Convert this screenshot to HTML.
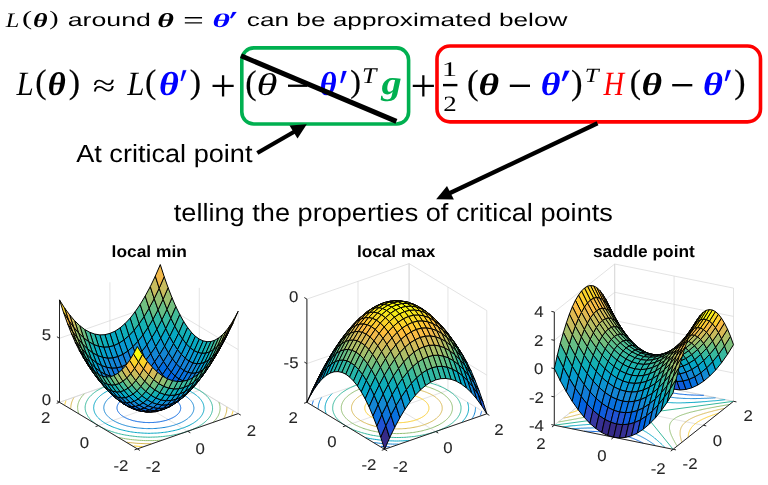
<!DOCTYPE html><html><head><meta charset="utf-8"><style>html,body{margin:0;padding:0;background:#fff;width:768px;height:485px;overflow:hidden}svg text{font-kerning:none;text-rendering:geometricPrecision}svg{will-change:transform}</style></head><body><svg width="768" height="485" viewBox="0 0 768 485" style="position:absolute;left:0;top:0">
<rect width="768" height="485" fill="#fff"/>
<line x1="59.50" y1="402.30" x2="59.50" y2="299.90" stroke="#d4d4d4" stroke-width="0.65"/><line x1="137.35" y1="448.90" x2="59.50" y2="402.30" stroke="#d4d4d4" stroke-width="0.65"/><line x1="109.92" y1="384.65" x2="109.92" y2="282.25" stroke="#d4d4d4" stroke-width="0.65"/><line x1="187.77" y1="431.25" x2="109.92" y2="384.65" stroke="#d4d4d4" stroke-width="0.65"/><line x1="160.35" y1="367.00" x2="160.35" y2="264.60" stroke="#d4d4d4" stroke-width="0.65"/><line x1="238.20" y1="413.60" x2="160.35" y2="367.00" stroke="#d4d4d4" stroke-width="0.65"/><line x1="238.20" y1="413.60" x2="238.20" y2="311.20" stroke="#d4d4d4" stroke-width="0.65"/><line x1="137.35" y1="448.90" x2="238.20" y2="413.60" stroke="#d4d4d4" stroke-width="0.65"/><line x1="199.27" y1="390.30" x2="199.27" y2="287.90" stroke="#d4d4d4" stroke-width="0.65"/><line x1="98.42" y1="425.60" x2="199.27" y2="390.30" stroke="#d4d4d4" stroke-width="0.65"/><line x1="160.35" y1="367.00" x2="160.35" y2="264.60" stroke="#d4d4d4" stroke-width="0.65"/><line x1="59.50" y1="402.30" x2="160.35" y2="367.00" stroke="#d4d4d4" stroke-width="0.65"/><line x1="59.50" y1="402.30" x2="160.35" y2="367.00" stroke="#d4d4d4" stroke-width="0.65"/><line x1="160.35" y1="367.00" x2="238.20" y2="413.60" stroke="#d4d4d4" stroke-width="0.65"/><line x1="59.50" y1="338.30" x2="160.35" y2="303.00" stroke="#d4d4d4" stroke-width="0.65"/><line x1="160.35" y1="303.00" x2="238.20" y2="349.60" stroke="#d4d4d4" stroke-width="0.65"/>
<polyline points="174.1,399.1 173.5,398.8 173.0,398.5 172.5,398.2 171.9,398.0 171.3,397.7 170.7,397.4 170.1,397.1 169.5,396.9 168.8,396.6 168.2,396.4 167.5,396.2 166.8,396.0 166.1,395.7 165.4,395.5 164.7,395.3 164.0,395.1 163.2,395.0 162.5,394.8 161.7,394.6 161.0,394.5 160.2,394.3 159.4,394.2 158.6,394.1 157.8,394.0 157.0,393.9 156.2,393.8 155.4,393.7 154.6,393.6 153.7,393.5 152.9,393.5 152.1,393.4 151.3,393.4 150.4,393.4 149.6,393.3 148.8,393.3 147.9,393.3 147.1,393.4 146.3,393.4 145.4,393.4 144.6,393.4 143.8,393.5 143.0,393.6 142.1,393.6 141.3,393.7 140.5,393.8 139.7,393.9 138.9,394.0 138.1,394.1 137.3,394.3 136.6,394.4 135.8,394.6 135.1,394.7 134.3,394.9 133.6,395.1 132.8,395.2 132.1,395.4 131.4,395.6 130.7,395.9 130.1,396.1 129.4,396.3 128.7,396.5 128.1,396.8 127.5,397.0 126.9,397.3 126.3,397.6 125.7,397.8 125.1,398.1 124.6,398.4 124.0,398.7 123.5,399.0 123.0,399.3 122.5,399.6 122.1,399.9 121.6,400.2 121.2,400.6 120.8,400.9 120.4,401.2 120.1,401.6 119.7,401.9 119.4,402.3 119.1,402.6 118.8,403.0 118.5,403.3 118.3,403.7 118.1,404.1 117.9,404.5 117.7,404.8 117.5,405.2 117.4,405.6 117.3,406.0 117.2,406.3 117.1,406.7 117.0,407.1 117.0,407.5 117.0,407.9 117.0,408.2 117.0,408.6 117.1,409.0 117.2,409.4 117.3,409.8 117.4,410.1 117.5,410.5 117.7,410.9 117.9,411.3 118.1,411.6 118.3,412.0 118.6,412.4 118.9,412.7 119.1,413.1 119.5,413.5 119.8,413.8 120.1,414.2 120.5,414.5 120.9,414.8 121.3,415.2 121.7,415.5 122.2,415.8 122.7,416.2 123.1,416.5 123.6,416.8 124.2,417.1 124.7,417.4 125.2,417.7 125.8,417.9 126.4,418.2 127.0,418.5 127.6,418.8 128.2,419.0 128.9,419.3 129.5,419.5 130.2,419.7 130.9,419.9 131.6,420.2 132.3,420.4 133.0,420.6 133.7,420.8 134.5,420.9 135.2,421.1 136.0,421.3 136.7,421.4 137.5,421.6 138.3,421.7 139.1,421.8 139.9,421.9 140.7,422.0 141.5,422.1 142.3,422.2 143.1,422.3 144.0,422.4 144.8,422.4 145.6,422.5 146.4,422.5 147.3,422.5 148.1,422.6 148.9,422.6 149.8,422.6 150.6,422.5 151.4,422.5 152.3,422.5 153.1,422.5 153.9,422.4 154.7,422.3 155.6,422.3 156.4,422.2 157.2,422.1 158.0,422.0 158.8,421.9 159.6,421.8 160.4,421.6 161.1,421.5 161.9,421.3 162.6,421.2 163.4,421.0 164.1,420.8 164.9,420.7 165.6,420.5 166.3,420.3 167.0,420.0 167.6,419.8 168.3,419.6 169.0,419.4 169.6,419.1 170.2,418.9 170.8,418.6 171.4,418.3 172.0,418.1 172.6,417.8 173.1,417.5 173.7,417.2 174.2,416.9 174.7,416.6 175.2,416.3 175.6,416.0 176.1,415.7 176.5,415.3 176.9,415.0 177.3,414.7 177.6,414.3 178.0,414.0 178.3,413.6 178.6,413.3 178.9,412.9 179.2,412.6 179.4,412.2 179.6,411.8 179.8,411.4 180.0,411.1 180.2,410.7 180.3,410.3 180.4,409.9 180.5,409.6 180.6,409.2 180.7,408.8 180.7,408.4 180.7,408.0 180.7,407.7 180.7,407.3 180.6,406.9 180.5,406.5 180.4,406.1 180.3,405.8 180.2,405.4 180.0,405.0 179.8,404.6 179.6,404.3 179.4,403.9 179.1,403.5 178.8,403.2 178.6,402.8 178.2,402.4 177.9,402.1 177.6,401.7 177.2,401.4 176.8,401.1 176.4,400.7 176.0,400.4 175.5,400.1 175.0,399.7 174.6,399.4 174.1,399.1" fill="none" stroke="#0363e1" stroke-width="1.0"/><polyline points="184.5,395.5 183.8,395.0 183.0,394.6 182.2,394.2 181.4,393.8 180.6,393.4 179.8,393.0 178.9,392.7 178.0,392.3 177.1,392.0 176.2,391.6 175.2,391.3 174.3,391.0 173.3,390.7 172.3,390.4 171.3,390.1 170.2,389.8 169.2,389.6 168.1,389.4 167.1,389.1 166.0,388.9 164.9,388.7 163.8,388.5 162.6,388.3 161.5,388.2 160.4,388.0 159.2,387.9 158.1,387.8 156.9,387.7 155.8,387.6 154.6,387.5 153.4,387.4 152.3,387.4 151.1,387.3 149.9,387.3 148.7,387.3 147.5,387.3 146.4,387.3 145.2,387.3 144.0,387.4 142.8,387.4 141.7,387.5 140.5,387.6 139.4,387.7 138.2,387.8 137.1,388.0 135.9,388.1 134.8,388.3 133.7,388.4 132.6,388.6 131.5,388.8 130.4,389.0 129.3,389.2 128.3,389.5 127.2,389.7 126.2,390.0 125.2,390.3 124.2,390.5 123.2,390.8 122.3,391.2 121.3,391.5 120.4,391.8 119.5,392.2 118.6,392.5 117.7,392.9 116.9,393.2 116.1,393.6 115.3,394.0 114.5,394.4 113.8,394.8 113.0,395.3 112.3,395.7 111.7,396.1 111.0,396.6 110.4,397.0 109.8,397.5 109.2,398.0 108.7,398.5 108.1,398.9 107.6,399.4 107.2,399.9 106.8,400.4 106.3,400.9 106.0,401.4 105.6,402.0 105.3,402.5 105.0,403.0 104.8,403.5 104.5,404.1 104.3,404.6 104.2,405.1 104.0,405.7 103.9,406.2 103.9,406.7 103.8,407.3 103.8,407.8 103.8,408.4 103.9,408.9 104.0,409.4 104.1,410.0 104.2,410.5 104.4,411.1 104.6,411.6 104.8,412.1 105.1,412.7 105.4,413.2 105.7,413.7 106.1,414.2 106.4,414.7 106.8,415.2 107.3,415.7 107.8,416.2 108.3,416.7 108.8,417.2 109.3,417.7 109.9,418.2 110.5,418.6 111.1,419.1 111.8,419.6 112.5,420.0 113.2,420.4 113.9,420.9 114.7,421.3 115.5,421.7 116.3,422.1 117.1,422.5 117.9,422.9 118.8,423.2 119.7,423.6 120.6,423.9 121.5,424.3 122.5,424.6 123.4,424.9 124.4,425.2 125.4,425.5 126.4,425.8 127.5,426.1 128.5,426.3 129.6,426.5 130.6,426.8 131.7,427.0 132.8,427.2 133.9,427.4 135.1,427.6 136.2,427.7 137.3,427.9 138.5,428.0 139.6,428.1 140.8,428.2 141.9,428.3 143.1,428.4 144.3,428.5 145.4,428.5 146.6,428.6 147.8,428.6 149.0,428.6 150.2,428.6 151.3,428.6 152.5,428.6 153.7,428.5 154.9,428.5 156.0,428.4 157.2,428.3 158.3,428.2 159.5,428.1 160.6,427.9 161.8,427.8 162.9,427.6 164.0,427.5 165.1,427.3 166.2,427.1 167.3,426.9 168.4,426.7 169.4,426.4 170.5,426.2 171.5,425.9 172.5,425.6 173.5,425.4 174.5,425.1 175.4,424.7 176.4,424.4 177.3,424.1 178.2,423.7 179.1,423.4 180.0,423.0 180.8,422.7 181.6,422.3 182.4,421.9 183.2,421.5 183.9,421.1 184.7,420.6 185.4,420.2 186.0,419.8 186.7,419.3 187.3,418.9 187.9,418.4 188.5,417.9 189.0,417.4 189.6,417.0 190.1,416.5 190.5,416.0 190.9,415.5 191.4,415.0 191.7,414.5 192.1,413.9 192.4,413.4 192.7,412.9 192.9,412.4 193.2,411.8 193.4,411.3 193.5,410.8 193.7,410.2 193.8,409.7 193.8,409.2 193.9,408.6 193.9,408.1 193.9,407.5 193.8,407.0 193.7,406.5 193.6,405.9 193.5,405.4 193.3,404.8 193.1,404.3 192.9,403.8 192.6,403.2 192.3,402.7 192.0,402.2 191.6,401.7 191.3,401.2 190.9,400.7 190.4,400.2 189.9,399.7 189.4,399.2 188.9,398.7 188.4,398.2 187.8,397.7 187.2,397.3 186.6,396.8 185.9,396.3 185.2,395.9 184.5,395.5" fill="none" stroke="#1485d4" stroke-width="1.0"/><polyline points="192.5,392.7 191.6,392.1 190.7,391.6 189.7,391.1 188.8,390.6 187.7,390.2 186.7,389.7 185.6,389.2 184.6,388.8 183.4,388.4 182.3,388.0 181.1,387.6 180.0,387.2 178.8,386.8 177.5,386.4 176.3,386.1 175.0,385.8 173.8,385.5 172.5,385.2 171.1,384.9 169.8,384.6 168.5,384.4 167.1,384.1 165.7,383.9 164.4,383.7 163.0,383.5 161.6,383.4 160.2,383.2 158.7,383.1 157.3,383.0 155.9,382.9 154.5,382.8 153.0,382.7 151.6,382.7 150.1,382.6 148.7,382.6 147.2,382.6 145.8,382.7 144.4,382.7 142.9,382.8 141.5,382.8 140.1,382.9 138.6,383.0 137.2,383.2 135.8,383.3 134.4,383.5 133.0,383.6 131.7,383.8 130.3,384.0 128.9,384.3 127.6,384.5 126.3,384.8 125.0,385.0 123.7,385.3 122.4,385.6 121.1,385.9 119.9,386.3 118.7,386.6 117.5,387.0 116.3,387.4 115.1,387.8 114.0,388.2 112.9,388.6 111.8,389.0 110.8,389.5 109.7,389.9 108.7,390.4 107.7,390.9 106.8,391.4 105.9,391.9 105.0,392.4 104.1,392.9 103.3,393.5 102.5,394.0 101.7,394.6 101.0,395.2 100.3,395.7 99.6,396.3 99.0,396.9 98.4,397.5 97.8,398.1 97.3,398.7 96.8,399.4 96.3,400.0 95.9,400.6 95.5,401.2 95.2,401.9 94.9,402.5 94.6,403.2 94.3,403.8 94.1,404.5 94.0,405.1 93.8,405.8 93.8,406.5 93.7,407.1 93.7,407.8 93.7,408.5 93.8,409.1 93.9,409.8 94.0,410.4 94.2,411.1 94.4,411.8 94.6,412.4 94.9,413.1 95.2,413.7 95.6,414.3 96.0,415.0 96.4,415.6 96.9,416.3 97.4,416.9 97.9,417.5 98.5,418.1 99.1,418.7 99.8,419.3 100.4,419.9 101.2,420.5 101.9,421.0 102.7,421.6 103.5,422.2 104.3,422.7 105.2,423.2 106.1,423.8 107.0,424.3 108.0,424.8 108.9,425.3 110.0,425.7 111.0,426.2 112.1,426.7 113.1,427.1 114.3,427.5 115.4,427.9 116.6,428.3 117.7,428.7 118.9,429.1 120.2,429.5 121.4,429.8 122.7,430.1 123.9,430.4 125.2,430.7 126.6,431.0 127.9,431.3 129.2,431.5 130.6,431.8 132.0,432.0 133.3,432.2 134.7,432.4 136.1,432.5 137.5,432.7 139.0,432.8 140.4,432.9 141.8,433.0 143.2,433.1 144.7,433.2 146.1,433.2 147.6,433.3 149.0,433.3 150.5,433.3 151.9,433.2 153.3,433.2 154.8,433.1 156.2,433.1 157.6,433.0 159.1,432.9 160.5,432.7 161.9,432.6 163.3,432.4 164.7,432.3 166.0,432.1 167.4,431.9 168.8,431.6 170.1,431.4 171.4,431.1 172.7,430.9 174.0,430.6 175.3,430.3 176.6,430.0 177.8,429.6 179.0,429.3 180.2,428.9 181.4,428.5 182.6,428.1 183.7,427.7 184.8,427.3 185.9,426.9 186.9,426.4 188.0,426.0 189.0,425.5 190.0,425.0 190.9,424.5 191.8,424.0 192.7,423.5 193.6,423.0 194.4,422.4 195.2,421.9 196.0,421.3 196.7,420.7 197.4,420.2 198.1,419.6 198.7,419.0 199.3,418.4 199.9,417.8 200.4,417.2 200.9,416.5 201.4,415.9 201.8,415.3 202.2,414.7 202.5,414.0 202.8,413.4 203.1,412.7 203.4,412.1 203.6,411.4 203.7,410.8 203.9,410.1 203.9,409.4 204.0,408.8 204.0,408.1 204.0,407.4 203.9,406.8 203.8,406.1 203.7,405.5 203.5,404.8 203.3,404.1 203.1,403.5 202.8,402.8 202.5,402.2 202.1,401.6 201.7,400.9 201.3,400.3 200.8,399.6 200.3,399.0 199.8,398.4 199.2,397.8 198.6,397.2 197.9,396.6 197.3,396.0 196.5,395.4 195.8,394.9 195.0,394.3 194.2,393.7 193.4,393.2 192.5,392.7" fill="none" stroke="#06a7c6" stroke-width="1.0"/><polyline points="199.3,390.3 198.2,389.7 197.2,389.1 196.1,388.5 194.9,388.0 193.8,387.4 192.6,386.9 191.3,386.3 190.1,385.8 188.8,385.3 187.5,384.9 186.1,384.4 184.8,384.0 183.4,383.5 182.0,383.1 180.5,382.7 179.1,382.3 177.6,382.0 176.1,381.6 174.6,381.3 173.1,381.0 171.5,380.7 169.9,380.5 168.4,380.2 166.8,380.0 165.2,379.8 163.5,379.6 161.9,379.4 160.3,379.2 158.6,379.1 157.0,379.0 155.3,378.9 153.7,378.8 152.0,378.8 150.3,378.7 148.7,378.7 147.0,378.7 145.3,378.8 143.7,378.8 142.0,378.9 140.4,378.9 138.7,379.1 137.1,379.2 135.4,379.3 133.8,379.5 132.2,379.7 130.6,379.9 129.0,380.1 127.4,380.3 125.8,380.6 124.3,380.9 122.8,381.2 121.3,381.5 119.8,381.8 118.3,382.2 116.8,382.5 115.4,382.9 114.0,383.3 112.6,383.8 111.3,384.2 109.9,384.6 108.6,385.1 107.3,385.6 106.1,386.1 104.9,386.6 103.7,387.2 102.5,387.7 101.4,388.3 100.3,388.8 99.2,389.4 98.2,390.0 97.2,390.6 96.2,391.2 95.3,391.9 94.4,392.5 93.6,393.2 92.8,393.8 92.0,394.5 91.3,395.2 90.6,395.9 89.9,396.6 89.3,397.3 88.7,398.0 88.2,398.7 87.7,399.5 87.3,400.2 86.9,401.0 86.5,401.7 86.2,402.4 85.9,403.2 85.7,404.0 85.5,404.7 85.3,405.5 85.2,406.2 85.2,407.0 85.1,407.8 85.2,408.5 85.2,409.3 85.4,410.1 85.5,410.8 85.7,411.6 86.0,412.3 86.2,413.1 86.6,413.8 87.0,414.6 87.4,415.3 87.8,416.1 88.3,416.8 88.9,417.5 89.4,418.3 90.1,419.0 90.7,419.7 91.4,420.4 92.2,421.1 93.0,421.7 93.8,422.4 94.6,423.1 95.5,423.7 96.5,424.4 97.4,425.0 98.4,425.6 99.5,426.2 100.5,426.8 101.6,427.4 102.8,427.9 103.9,428.5 105.1,429.0 106.4,429.6 107.6,430.1 108.9,430.6 110.2,431.0 111.6,431.5 112.9,431.9 114.3,432.4 115.7,432.8 117.2,433.2 118.6,433.6 120.1,433.9 121.6,434.3 123.1,434.6 124.6,434.9 126.2,435.2 127.8,435.4 129.3,435.7 130.9,435.9 132.5,436.1 134.2,436.3 135.8,436.5 137.4,436.7 139.1,436.8 140.7,436.9 142.4,437.0 144.0,437.1 145.7,437.1 147.4,437.2 149.0,437.2 150.7,437.2 152.4,437.1 154.0,437.1 155.7,437.0 157.3,437.0 159.0,436.8 160.6,436.7 162.3,436.6 163.9,436.4 165.5,436.2 167.1,436.0 168.7,435.8 170.3,435.6 171.9,435.3 173.4,435.0 174.9,434.7 176.4,434.4 177.9,434.1 179.4,433.7 180.9,433.4 182.3,433.0 183.7,432.6 185.1,432.1 186.4,431.7 187.8,431.2 189.1,430.8 190.4,430.3 191.6,429.8 192.8,429.3 194.0,428.7 195.2,428.2 196.3,427.6 197.4,427.1 198.5,426.5 199.5,425.9 200.5,425.3 201.5,424.7 202.4,424.0 203.3,423.4 204.1,422.7 204.9,422.1 205.7,421.4 206.4,420.7 207.1,420.0 207.8,419.3 208.4,418.6 209.0,417.9 209.5,417.2 210.0,416.4 210.4,415.7 210.8,414.9 211.2,414.2 211.5,413.5 211.8,412.7 212.0,411.9 212.2,411.2 212.4,410.4 212.5,409.7 212.5,408.9 212.6,408.1 212.5,407.4 212.5,406.6 212.3,405.8 212.2,405.1 212.0,404.3 211.7,403.6 211.5,402.8 211.1,402.1 210.7,401.3 210.3,400.6 209.9,399.8 209.4,399.1 208.8,398.4 208.3,397.6 207.6,396.9 207.0,396.2 206.3,395.5 205.5,394.8 204.7,394.2 203.9,393.5 203.1,392.8 202.2,392.2 201.2,391.5 200.3,390.9 199.3,390.3" fill="none" stroke="#38b99e" stroke-width="1.0"/><polyline points="179.3,378.5 177.6,378.2 175.9,377.8 174.2,377.5 172.4,377.2 170.7,376.9 168.9,376.7 167.1,376.4 165.3,376.2 163.5,376.0 161.6,375.9 159.8,375.7 157.9,375.6 156.1,375.5 154.2,375.4 152.4,375.3 150.5,375.3 148.6,375.3 146.8,375.3 144.9,375.3 143.1,375.4 141.2,375.4 139.3,375.5 137.5,375.6 135.7,375.8" fill="none" stroke="#92bf73" stroke-width="1.0"/><polyline points="84.5,393.7 83.7,394.5 83.0,395.3 82.3,396.0 81.6,396.8 81.1,397.7 80.5,398.5 80.0,399.3 79.5,400.1 79.1,401.0 78.8,401.8 78.5,402.6 78.2,403.5 78.0,404.3 77.8,405.2 77.7,406.0 77.6,406.9 77.6,407.7 77.7,408.6 77.7,409.5 77.9,410.3 78.0,411.2 78.3,412.0 78.5,412.9 78.9,413.7" fill="none" stroke="#92bf73" stroke-width="1.0"/><polyline points="118.4,437.4 120.1,437.7 121.8,438.1 123.5,438.4 125.3,438.7 127.0,439.0 128.8,439.2 130.6,439.5 132.4,439.7 134.2,439.9 136.1,440.0 137.9,440.2 139.8,440.3 141.6,440.4 143.5,440.5 145.3,440.6 147.2,440.6 149.1,440.6 150.9,440.6 152.8,440.6 154.6,440.5 156.5,440.5 158.4,440.4 160.2,440.3 162.0,440.1" fill="none" stroke="#92bf73" stroke-width="1.0"/><polyline points="213.2,422.2 214.0,421.4 214.7,420.6 215.4,419.9 216.1,419.1 216.6,418.2 217.2,417.4 217.7,416.6 218.2,415.8 218.6,414.9 218.9,414.1 219.2,413.3 219.5,412.4 219.7,411.6 219.9,410.7 220.0,409.9 220.1,409.0 220.1,408.2 220.0,407.3 220.0,406.4 219.8,405.6 219.7,404.7 219.4,403.9 219.2,403.0 218.8,402.2" fill="none" stroke="#92bf73" stroke-width="1.0"/><polyline points="170.8,373.7 168.8,373.4 166.8,373.2 164.8,373.0 162.8,372.8 160.8,372.6 158.8,372.5 156.8,372.4 154.7,372.3 152.7,372.2 150.7,372.2 148.6,372.2 146.6,372.2" fill="none" stroke="#d9ba56" stroke-width="1.0"/><polyline points="74.0,397.6 73.4,398.5 72.9,399.4 72.5,400.3 72.1,401.2 71.8,402.1 71.5,403.1 71.2,404.0 71.1,404.9 70.9,405.9 70.9,406.8 70.8,407.7 70.9,408.7" fill="none" stroke="#d9ba56" stroke-width="1.0"/><polyline points="126.9,442.2 128.9,442.5 130.9,442.7 132.9,442.9 134.9,443.1 136.9,443.3 138.9,443.4 140.9,443.5 143.0,443.6 145.0,443.7 147.0,443.7 149.1,443.7 151.1,443.7" fill="none" stroke="#d9ba56" stroke-width="1.0"/><polyline points="223.7,418.3 224.3,417.4 224.8,416.5 225.2,415.6 225.6,414.7 225.9,413.8 226.2,412.8 226.5,411.9 226.6,411.0 226.8,410.0 226.8,409.1 226.9,408.2 226.8,407.2" fill="none" stroke="#d9ba56" stroke-width="1.0"/><polyline points="164.0,370.0 161.8,369.8 159.6,369.6 157.4,369.5 155.2,369.4" fill="none" stroke="#fcce2e" stroke-width="1.0"/><polyline points="65.9,400.7 65.6,401.7 65.3,402.7 65.0,403.7 64.8,404.7" fill="none" stroke="#fcce2e" stroke-width="1.0"/><polyline points="133.7,445.9 135.9,446.1 138.1,446.3 140.3,446.4 142.5,446.5" fill="none" stroke="#fcce2e" stroke-width="1.0"/><polyline points="231.8,415.2 232.1,414.2 232.4,413.2 232.7,412.2 232.9,411.2" fill="none" stroke="#fcce2e" stroke-width="1.0"/>
<line x1="59.50" y1="402.30" x2="59.50" y2="299.90" stroke="#262626" stroke-width="1.0"/><line x1="137.35" y1="448.90" x2="238.20" y2="413.60" stroke="#262626" stroke-width="1.0"/><line x1="137.35" y1="448.90" x2="59.50" y2="402.30" stroke="#262626" stroke-width="1.0"/><line x1="59.50" y1="402.30" x2="56.93" y2="400.76" stroke="#262626" stroke-width="1.0"/><line x1="59.50" y1="338.30" x2="56.93" y2="336.76" stroke="#262626" stroke-width="1.0"/><line x1="137.35" y1="448.90" x2="139.92" y2="450.44" stroke="#262626" stroke-width="1.0"/><line x1="187.77" y1="431.25" x2="190.35" y2="432.79" stroke="#262626" stroke-width="1.0"/><line x1="238.20" y1="413.60" x2="240.77" y2="415.14" stroke="#262626" stroke-width="1.0"/><line x1="137.35" y1="448.90" x2="134.52" y2="449.89" stroke="#262626" stroke-width="1.0"/><line x1="98.42" y1="425.60" x2="95.59" y2="426.59" stroke="#262626" stroke-width="1.0"/><line x1="59.50" y1="402.30" x2="56.67" y2="403.29" stroke="#262626" stroke-width="1.0"/>
<g stroke="#000" stroke-width="1.0" stroke-linejoin="round"><polygon points="150.7,353.9 155.8,346.5 151.9,337.5 146.8,344.9" fill="#0c93d2"/><polygon points="146.8,344.9 151.9,337.5 148.0,327.5 142.9,334.9" fill="#06a4ca"/><polygon points="145.7,360.3 150.7,353.9 146.8,344.9 141.8,351.3" fill="#1485d4"/><polygon points="141.8,351.3 146.8,344.9 142.9,334.9 137.9,341.3" fill="#0998d1"/><polygon points="155.8,346.5 160.8,338.1 156.9,329.1 151.9,337.5" fill="#06a4ca"/><polygon points="151.9,337.5 156.9,329.1 153.0,319.1 148.0,327.5" fill="#0faeb9"/><polygon points="154.6,361.9 159.6,354.5 155.8,346.5 150.7,353.9" fill="#1485d4"/><polygon points="142.9,334.9 148.0,327.5 144.1,316.5 139.0,323.9" fill="#15b1b4"/><polygon points="149.6,368.2 154.6,361.9 150.7,353.9 145.7,360.3" fill="#1079da"/><polygon points="137.9,341.3 142.9,334.9 139.0,323.9 134.0,330.3" fill="#07a9c2"/><polygon points="159.6,354.5 164.7,346.1 160.8,338.1 155.8,346.5" fill="#0c93d2"/><polygon points="140.6,365.6 145.7,360.3 141.8,351.3 136.7,356.6" fill="#127dd8"/><polygon points="136.7,356.6 141.8,351.3 137.9,341.3 132.8,346.6" fill="#108ed2"/><polygon points="148.0,327.5 153.0,319.1 149.1,308.1 144.1,316.5" fill="#38b99e"/><polygon points="160.8,338.1 165.8,328.6 161.9,319.7 156.9,329.1" fill="#0faeb9"/><polygon points="156.9,329.1 161.9,319.7 158.1,309.7 153.0,319.1" fill="#2eb7a4"/><polygon points="144.5,373.6 149.6,368.2 145.7,360.3 140.6,365.6" fill="#046de0"/><polygon points="132.8,346.6 137.9,341.3 134.0,330.3 128.9,335.6" fill="#06a4ca"/><polygon points="158.5,368.8 163.5,361.4 159.6,354.5 154.6,361.9" fill="#1079da"/><polygon points="139.0,323.9 144.1,316.5 140.2,304.4 135.1,311.8" fill="#42bb98"/><polygon points="153.4,375.2 158.5,368.8 154.6,361.9 149.6,368.2" fill="#046de0"/><polygon points="164.7,346.1 169.7,336.6 165.8,328.6 160.8,338.1" fill="#06a4ca"/><polygon points="153.0,319.1 158.1,309.7 154.2,298.6 149.1,308.1" fill="#65be86"/><polygon points="163.5,361.4 168.6,353.0 164.7,346.1 159.6,354.5" fill="#1485d4"/><polygon points="134.0,330.3 139.0,323.9 135.1,311.8 130.1,318.2" fill="#2eb7a4"/><polygon points="144.1,316.5 149.1,308.1 145.2,296.0 140.2,304.4" fill="#71bf80"/><polygon points="135.6,370.0 140.6,365.6 136.7,356.6 131.7,361.0" fill="#0d75dc"/><polygon points="131.7,361.0 136.7,356.6 132.8,346.6 127.8,351.0" fill="#1485d4"/><polygon points="148.4,380.5 153.4,375.2 149.6,368.2 144.5,373.6" fill="#0f5cdd"/><polygon points="128.9,335.6 134.0,330.3 130.1,318.2 125.1,323.5" fill="#15b1b4"/><polygon points="165.8,328.6 170.9,318.2 167.0,309.2 161.9,319.7" fill="#38b99e"/><polygon points="139.5,377.9 144.5,373.6 140.6,365.6 135.6,370.0" fill="#0268e1"/><polygon points="161.9,319.7 167.0,309.2 163.1,299.2 158.1,309.7" fill="#65be86"/><polygon points="168.6,353.0 173.6,343.5 169.7,336.6 164.7,346.1" fill="#0998d1"/><polygon points="127.8,351.0 132.8,346.6 128.9,335.6 123.9,339.9" fill="#079ccf"/><polygon points="149.1,308.1 154.2,298.6 150.3,286.6 145.2,296.0" fill="#9cbf6f"/><polygon points="162.4,374.7 167.4,367.3 163.5,361.4 158.5,368.8" fill="#046de0"/><polygon points="169.7,336.6 174.8,326.1 170.9,318.2 165.8,328.6" fill="#15b1b4"/><polygon points="158.1,309.7 163.1,299.2 159.2,288.2 154.2,298.6" fill="#92bf73"/><polygon points="157.3,381.1 162.4,374.7 158.5,368.8 153.4,375.2" fill="#0f5cdd"/><polygon points="167.4,367.3 172.5,358.9 168.6,353.0 163.5,361.4" fill="#127dd8"/><polygon points="143.4,384.9 148.4,380.5 144.5,373.6 139.5,377.9" fill="#2053d4"/><polygon points="123.9,339.9 128.9,335.6 125.1,323.5 120.0,327.9" fill="#0faeb9"/><polygon points="130.5,373.3 135.6,370.0 131.7,361.0 126.6,364.3" fill="#0871de"/><polygon points="126.6,364.3 131.7,361.0 127.8,351.0 122.8,354.3" fill="#1481d6"/><polygon points="152.3,386.4 157.3,381.1 153.4,375.2 148.4,380.5" fill="#2c4ac7"/><polygon points="173.6,343.5 178.7,333.1 174.8,326.1 169.7,336.6" fill="#07a9c2"/><polygon points="172.5,358.9 177.5,349.5 173.6,343.5 168.6,353.0" fill="#108ed2"/><polygon points="154.2,298.6 159.2,288.2 155.3,276.1 150.3,286.6" fill="#c8bc5d"/><polygon points="134.4,381.2 139.5,377.9 135.6,370.0 130.5,373.3" fill="#0363e1"/><polygon points="122.8,354.3 127.8,351.0 123.9,339.9 118.9,343.2" fill="#0998d1"/><polygon points="170.9,318.2 175.9,306.7 172.0,297.7 167.0,309.2" fill="#71bf80"/><polygon points="167.0,309.2 172.0,297.7 168.1,287.7 163.1,299.2" fill="#9cbf6f"/><polygon points="174.8,326.1 179.8,314.6 175.9,306.7 170.9,318.2" fill="#42bb98"/><polygon points="163.1,299.2 168.1,287.7 164.2,276.7 159.2,288.2" fill="#c8bc5d"/><polygon points="166.3,379.6 171.3,372.2 167.4,367.3 162.4,374.7" fill="#0268e1"/><polygon points="147.3,390.8 152.3,386.4 148.4,380.5 143.4,384.9" fill="#3243ba"/><polygon points="161.2,386.0 166.3,379.6 162.4,374.7 157.3,381.1" fill="#2053d4"/><polygon points="138.3,388.2 143.4,384.9 139.5,377.9 134.4,381.2" fill="#2c4ac7"/><polygon points="171.3,372.2 176.4,363.8 172.5,358.9 167.4,367.3" fill="#0d75dc"/><polygon points="118.9,343.2 123.9,339.9 120.0,327.9 115.0,331.2" fill="#0aacbe"/><polygon points="177.5,349.5 182.6,339.0 178.7,333.1 173.6,343.5" fill="#06a4ca"/><polygon points="156.2,391.3 161.2,386.0 157.3,381.1 152.3,386.4" fill="#3243ba"/><polygon points="178.7,333.1 183.7,321.6 179.8,314.6 174.8,326.1" fill="#2eb7a4"/><polygon points="125.5,375.5 130.5,373.3 126.6,364.3 121.6,366.6" fill="#0871de"/><polygon points="159.2,288.2 164.2,276.7 160.3,264.6 155.3,276.1" fill="#f1b94a"/><polygon points="121.6,366.6 126.6,364.3 122.8,354.3 117.7,356.5" fill="#1481d6"/><polygon points="176.4,363.8 181.4,354.4 177.5,349.5 172.5,358.9" fill="#1485d4"/><polygon points="129.4,383.5 134.4,381.2 130.5,373.3 125.5,375.5" fill="#0363e1"/><polygon points="117.7,356.5 122.8,354.3 118.9,343.2 113.8,345.5" fill="#0998d1"/><polygon points="142.2,394.1 147.3,390.8 143.4,384.9 138.3,388.2" fill="#353dad"/><polygon points="151.1,395.7 156.2,391.3 152.3,386.4 147.3,390.8" fill="#3637a0"/><polygon points="182.6,339.0 187.6,327.5 183.7,321.6 178.7,333.1" fill="#15b1b4"/><polygon points="133.3,390.4 138.3,388.2 134.4,381.2 129.4,383.5" fill="#2c4ac7"/><polygon points="170.2,383.5 175.2,376.1 171.3,372.2 166.3,379.6" fill="#0363e1"/><polygon points="181.4,354.4 186.4,343.9 182.6,339.0 177.5,349.5" fill="#079ccf"/><polygon points="113.8,345.5 118.9,343.2 115.0,331.2 109.9,333.4" fill="#07a9c2"/><polygon points="165.1,389.9 170.2,383.5 166.3,379.6 161.2,386.0" fill="#2c4ac7"/><polygon points="175.2,376.1 180.3,367.7 176.4,363.8 171.3,372.2" fill="#0871de"/><polygon points="160.1,395.2 165.1,389.9 161.2,386.0 156.2,391.3" fill="#353dad"/><polygon points="180.3,367.7 185.3,358.2 181.4,354.4 176.4,363.8" fill="#1481d6"/><polygon points="120.5,376.8 125.5,375.5 121.6,366.6 116.6,367.8" fill="#0871de"/><polygon points="146.1,399.0 151.1,395.7 147.3,390.8 142.2,394.1" fill="#363093"/><polygon points="116.6,367.8 121.6,366.6 117.7,356.5 112.7,357.8" fill="#1481d6"/><polygon points="137.2,396.4 142.2,394.1 138.3,388.2 133.3,390.4" fill="#3637a0"/><polygon points="124.3,384.8 129.4,383.5 125.5,375.5 120.5,376.8" fill="#0363e1"/><polygon points="112.7,357.8 117.7,356.5 113.8,345.5 108.8,346.8" fill="#0998d1"/><polygon points="186.4,343.9 191.5,332.4 187.6,327.5 182.6,339.0" fill="#0faeb9"/><polygon points="155.0,399.5 160.1,395.2 156.2,391.3 151.1,395.7" fill="#363093"/><polygon points="185.3,358.2 190.3,347.8 186.4,343.9 181.4,354.4" fill="#0998d1"/><polygon points="128.2,391.7 133.3,390.4 129.4,383.5 124.3,384.8" fill="#2c4ac7"/><polygon points="108.8,346.8 113.8,345.5 109.9,333.4 104.9,334.7" fill="#0aacbe"/><polygon points="174.1,386.3 179.1,378.9 175.2,376.1 170.2,383.5" fill="#0363e1"/><polygon points="169.0,392.7 174.1,386.3 170.2,383.5 165.1,389.9" fill="#2c4ac7"/><polygon points="179.1,378.9 184.1,370.5 180.3,367.7 175.2,376.1" fill="#0871de"/><polygon points="141.1,401.2 146.1,399.0 142.2,394.1 137.2,396.4" fill="#363093"/><polygon points="150.0,402.8 155.0,399.5 151.1,395.7 146.1,399.0" fill="#352a87"/><polygon points="164.0,398.0 169.0,392.7 165.1,389.9 160.1,395.2" fill="#3637a0"/><polygon points="184.1,370.5 189.2,361.1 185.3,358.2 180.3,367.7" fill="#1481d6"/><polygon points="132.1,397.6 137.2,396.4 133.3,390.4 128.2,391.7" fill="#353dad"/><polygon points="190.3,347.8 195.4,336.3 191.5,332.4 186.4,343.9" fill="#0aacbe"/><polygon points="115.4,377.0 120.5,376.8 116.6,367.8 111.5,368.0" fill="#0d75dc"/><polygon points="111.5,368.0 116.6,367.8 112.7,357.8 107.6,358.0" fill="#1485d4"/><polygon points="119.3,385.0 124.3,384.8 120.5,376.8 115.4,377.0" fill="#0268e1"/><polygon points="107.6,358.0 112.7,357.8 108.8,346.8 103.7,347.0" fill="#079ccf"/><polygon points="158.9,402.4 164.0,398.0 160.1,395.2 155.0,399.5" fill="#363093"/><polygon points="189.2,361.1 194.2,350.6 190.3,347.8 185.3,358.2" fill="#0998d1"/><polygon points="123.2,391.9 128.2,391.7 124.3,384.8 119.3,385.0" fill="#2053d4"/><polygon points="145.0,405.1 150.0,402.8 146.1,399.0 141.1,401.2" fill="#352a87"/><polygon points="103.7,347.0 108.8,346.8 104.9,334.7 99.8,334.9" fill="#0faeb9"/><polygon points="136.0,402.5 141.1,401.2 137.2,396.4 132.1,397.6" fill="#363093"/><polygon points="178.0,388.1 183.0,380.7 179.1,378.9 174.1,386.3" fill="#0363e1"/><polygon points="172.9,394.5 178.0,388.1 174.1,386.3 169.0,392.7" fill="#2c4ac7"/><polygon points="153.9,405.7 158.9,402.4 155.0,399.5 150.0,402.8" fill="#352a87"/><polygon points="183.0,380.7 188.0,372.3 184.1,370.5 179.1,378.9" fill="#0871de"/><polygon points="194.2,350.6 199.3,339.1 195.4,336.3 190.3,347.8" fill="#07a9c2"/><polygon points="167.9,399.9 172.9,394.5 169.0,392.7 164.0,398.0" fill="#353dad"/><polygon points="127.1,397.8 132.1,397.6 128.2,391.7 123.2,391.9" fill="#3243ba"/><polygon points="188.0,372.3 193.1,362.9 189.2,361.1 184.1,370.5" fill="#1481d6"/><polygon points="110.4,376.2 115.4,377.0 111.5,368.0 106.5,367.2" fill="#127dd8"/><polygon points="106.5,367.2 111.5,368.0 107.6,358.0 102.6,357.2" fill="#108ed2"/><polygon points="162.8,404.2 167.9,399.9 164.0,398.0 158.9,402.4" fill="#363093"/><polygon points="114.3,384.2 119.3,385.0 115.4,377.0 110.4,376.2" fill="#046de0"/><polygon points="139.9,406.4 145.0,405.1 141.1,401.2 136.0,402.5" fill="#352a87"/><polygon points="102.6,357.2 107.6,358.0 103.7,347.0 98.7,346.2" fill="#06a4ca"/><polygon points="148.8,407.9 153.9,405.7 150.0,402.8 145.0,405.1" fill="#352a87"/><polygon points="193.1,362.9 198.1,352.4 194.2,350.6 189.2,361.1" fill="#0998d1"/><polygon points="131.0,402.7 136.0,402.5 132.1,397.6 127.1,397.8" fill="#3637a0"/><polygon points="118.2,391.1 123.2,391.9 119.3,385.0 114.3,384.2" fill="#0f5cdd"/><polygon points="98.7,346.2 103.7,347.0 99.8,334.9 94.8,334.1" fill="#15b1b4"/><polygon points="157.8,407.5 162.8,404.2 158.9,402.4 153.9,405.7" fill="#352a87"/><polygon points="181.8,388.9 186.9,381.5 183.0,380.7 178.0,388.1" fill="#0268e1"/><polygon points="176.8,395.3 181.8,388.9 178.0,388.1 172.9,394.5" fill="#2053d4"/><polygon points="186.9,381.5 191.9,373.1 188.0,372.3 183.0,380.7" fill="#0d75dc"/><polygon points="198.1,352.4 203.2,340.9 199.3,339.1 194.2,350.6" fill="#0aacbe"/><polygon points="122.0,397.0 127.1,397.8 123.2,391.9 118.2,391.1" fill="#2c4ac7"/><polygon points="171.8,400.7 176.8,395.3 172.9,394.5 167.9,399.9" fill="#3243ba"/><polygon points="143.8,409.2 148.8,407.9 145.0,405.1 139.9,406.4" fill="#352a87"/><polygon points="191.9,373.1 197.0,363.7 193.1,362.9 188.0,372.3" fill="#1485d4"/><polygon points="134.9,406.6 139.9,406.4 136.0,402.5 131.0,402.7" fill="#363093"/><polygon points="105.3,374.4 110.4,376.2 106.5,367.2 101.4,365.4" fill="#1485d4"/><polygon points="101.4,365.4 106.5,367.2 102.6,357.2 97.5,355.4" fill="#0998d1"/><polygon points="152.7,409.8 157.8,407.5 153.9,405.7 148.8,407.9" fill="#352a87"/><polygon points="166.7,405.0 171.8,400.7 167.9,399.9 162.8,404.2" fill="#3637a0"/><polygon points="109.2,382.4 114.3,384.2 110.4,376.2 105.3,374.4" fill="#1079da"/><polygon points="97.5,355.4 102.6,357.2 98.7,346.2 93.6,344.4" fill="#07a9c2"/><polygon points="197.0,363.7 202.0,353.2 198.1,352.4 193.1,362.9" fill="#079ccf"/><polygon points="125.9,401.9 131.0,402.7 127.1,397.8 122.0,397.0" fill="#3243ba"/><polygon points="113.1,389.3 118.2,391.1 114.3,384.2 109.2,382.4" fill="#046de0"/><polygon points="93.6,344.4 98.7,346.2 94.8,334.1 89.8,332.3" fill="#2eb7a4"/><polygon points="161.7,408.3 166.7,405.0 162.8,404.2 157.8,407.5" fill="#363093"/><polygon points="202.0,353.2 207.1,341.7 203.2,340.9 198.1,352.4" fill="#0faeb9"/><polygon points="138.8,409.4 143.8,409.2 139.9,406.4 134.9,406.6" fill="#363093"/><polygon points="185.7,388.7 190.8,381.3 186.9,381.5 181.8,388.9" fill="#046de0"/><polygon points="147.7,411.0 152.7,409.8 148.8,407.9 143.8,409.2" fill="#352a87"/><polygon points="180.7,395.1 185.7,388.7 181.8,388.9 176.8,395.3" fill="#0f5cdd"/><polygon points="117.0,395.2 122.0,397.0 118.2,391.1 113.1,389.3" fill="#0363e1"/><polygon points="190.8,381.3 195.8,372.9 191.9,373.1 186.9,381.5" fill="#127dd8"/><polygon points="129.8,405.8 134.9,406.6 131.0,402.7 125.9,401.9" fill="#353dad"/><polygon points="175.7,400.4 180.7,395.1 176.8,395.3 171.8,400.7" fill="#2c4ac7"/><polygon points="195.8,372.9 200.9,363.4 197.0,363.7 191.9,373.1" fill="#108ed2"/><polygon points="156.6,410.6 161.7,408.3 157.8,407.5 152.7,409.8" fill="#363093"/><polygon points="170.6,404.8 175.7,400.4 171.8,400.7 166.7,405.0" fill="#3243ba"/><polygon points="100.3,371.6 105.3,374.4 101.4,365.4 96.4,362.6" fill="#0c93d2"/><polygon points="96.4,362.6 101.4,365.4 97.5,355.4 92.5,352.6" fill="#06a4ca"/><polygon points="120.9,400.1 125.9,401.9 122.0,397.0 117.0,395.2" fill="#2053d4"/><polygon points="200.9,363.4 205.9,353.0 202.0,353.2 197.0,363.7" fill="#06a4ca"/><polygon points="104.2,379.5 109.2,382.4 105.3,374.4 100.3,371.6" fill="#1485d4"/><polygon points="92.5,352.6 97.5,355.4 93.6,344.4 88.6,341.5" fill="#15b1b4"/><polygon points="142.7,411.2 147.7,411.0 143.8,409.2 138.8,409.4" fill="#363093"/><polygon points="108.1,386.5 113.1,389.3 109.2,382.4 104.2,379.5" fill="#1079da"/><polygon points="133.7,408.6 138.8,409.4 134.9,406.6 129.8,405.8" fill="#3637a0"/><polygon points="88.6,341.5 93.6,344.4 89.8,332.3 84.7,329.5" fill="#42bb98"/><polygon points="165.6,408.1 170.6,404.8 166.7,405.0 161.7,408.3" fill="#353dad"/><polygon points="151.6,411.8 156.6,410.6 152.7,409.8 147.7,411.0" fill="#363093"/><polygon points="205.9,353.0 211.0,341.5 207.1,341.7 202.0,353.2" fill="#15b1b4"/><polygon points="124.8,404.0 129.8,405.8 125.9,401.9 120.9,400.1" fill="#2c4ac7"/><polygon points="112.0,392.4 117.0,395.2 113.1,389.3 108.1,386.5" fill="#046de0"/><polygon points="189.6,387.5 194.7,380.1 190.8,381.3 185.7,388.7" fill="#1079da"/><polygon points="184.6,393.8 189.6,387.5 185.7,388.7 180.7,395.1" fill="#046de0"/><polygon points="194.7,380.1 199.7,371.6 195.8,372.9 190.8,381.3" fill="#1485d4"/><polygon points="179.5,399.2 184.6,393.8 180.7,395.1 175.7,400.4" fill="#0363e1"/><polygon points="160.5,410.3 165.6,408.1 161.7,408.3 156.6,410.6" fill="#3637a0"/><polygon points="199.7,371.6 204.8,362.2 200.9,363.4 195.8,372.9" fill="#0998d1"/><polygon points="115.9,397.3 120.9,400.1 117.0,395.2 112.0,392.4" fill="#0268e1"/><polygon points="137.6,410.5 142.7,411.2 138.8,409.4 133.7,408.6" fill="#353dad"/><polygon points="174.5,403.5 179.5,399.2 175.7,400.4 170.6,404.8" fill="#2053d4"/><polygon points="95.2,367.7 100.3,371.6 96.4,362.6 91.3,358.7" fill="#06a4ca"/><polygon points="146.6,412.0 151.6,411.8 147.7,411.0 142.7,411.2" fill="#3637a0"/><polygon points="91.3,358.7 96.4,362.6 92.5,352.6 87.5,348.7" fill="#0faeb9"/><polygon points="204.8,362.2 209.8,351.7 205.9,353.0 200.9,363.4" fill="#07a9c2"/><polygon points="128.7,406.8 133.7,408.6 129.8,405.8 124.8,404.0" fill="#2c4ac7"/><polygon points="99.1,375.7 104.2,379.5 100.3,371.6 95.2,367.7" fill="#0c93d2"/><polygon points="87.5,348.7 92.5,352.6 88.6,341.5 83.6,337.7" fill="#38b99e"/><polygon points="155.5,411.6 160.5,410.3 156.6,410.6 151.6,411.8" fill="#353dad"/><polygon points="103.0,382.6 108.1,386.5 104.2,379.5 99.1,375.7" fill="#1485d4"/><polygon points="169.5,406.8 174.5,403.5 170.6,404.8 165.6,408.1" fill="#2c4ac7"/><polygon points="83.6,337.7 88.6,341.5 84.7,329.5 79.7,325.6" fill="#71bf80"/><polygon points="209.8,351.7 214.8,340.2 211.0,341.5 205.9,353.0" fill="#2eb7a4"/><polygon points="119.7,401.1 124.8,404.0 120.9,400.1 115.9,397.3" fill="#0363e1"/><polygon points="106.9,388.5 112.0,392.4 108.1,386.5 103.0,382.6" fill="#127dd8"/><polygon points="193.5,385.2 198.6,377.8 194.7,380.1 189.6,387.5" fill="#1485d4"/><polygon points="188.5,391.5 193.5,385.2 189.6,387.5 184.6,393.8" fill="#1079da"/><polygon points="198.6,377.8 203.6,369.4 199.7,371.6 194.7,380.1" fill="#0c93d2"/><polygon points="164.4,409.1 169.5,406.8 165.6,408.1 160.5,410.3" fill="#2c4ac7"/><polygon points="141.5,411.2 146.6,412.0 142.7,411.2 137.6,410.5" fill="#3243ba"/><polygon points="132.6,408.6 137.6,410.5 133.7,408.6 128.7,406.8" fill="#2c4ac7"/><polygon points="183.4,396.9 188.5,391.5 184.6,393.8 179.5,399.2" fill="#046de0"/><polygon points="203.6,369.4 208.7,359.9 204.8,362.2 199.7,371.6" fill="#06a4ca"/><polygon points="150.4,411.8 155.5,411.6 151.6,411.8 146.6,412.0" fill="#3243ba"/><polygon points="110.8,393.4 115.9,397.3 112.0,392.4 106.9,388.5" fill="#0d75dc"/><polygon points="123.6,404.0 128.7,406.8 124.8,404.0 119.7,401.1" fill="#0363e1"/><polygon points="178.4,401.2 183.4,396.9 179.5,399.2 174.5,403.5" fill="#0268e1"/><polygon points="208.7,359.9 213.7,349.4 209.8,351.7 204.8,362.2" fill="#15b1b4"/><polygon points="90.2,362.8 95.2,367.7 91.3,358.7 86.3,353.8" fill="#0faeb9"/><polygon points="86.3,353.8 91.3,358.7 87.5,348.7 82.4,343.8" fill="#2eb7a4"/><polygon points="94.1,370.8 99.1,375.7 95.2,367.7 90.2,362.8" fill="#06a4ca"/><polygon points="82.4,343.8 87.5,348.7 83.6,337.7 78.5,332.8" fill="#65be86"/><polygon points="159.4,410.3 164.4,409.1 160.5,410.3 155.5,411.6" fill="#2c4ac7"/><polygon points="173.4,404.5 178.4,401.2 174.5,403.5 169.5,406.8" fill="#0363e1"/><polygon points="98.0,377.7 103.0,382.6 99.1,375.7 94.1,370.8" fill="#0998d1"/><polygon points="78.5,332.8 83.6,337.7 79.7,325.6 74.6,320.7" fill="#9cbf6f"/><polygon points="114.7,397.3 119.7,401.1 115.9,397.3 110.8,393.4" fill="#0871de"/><polygon points="213.7,349.4 218.7,337.9 214.8,340.2 209.8,351.7" fill="#42bb98"/><polygon points="136.5,409.4 141.5,411.2 137.6,410.5 132.6,408.6" fill="#2053d4"/><polygon points="145.4,411.0 150.4,411.8 146.6,412.0 141.5,411.2" fill="#2c4ac7"/><polygon points="101.9,383.6 106.9,388.5 103.0,382.6 98.0,377.7" fill="#108ed2"/><polygon points="127.5,405.8 132.6,408.6 128.7,406.8 123.6,404.0" fill="#0363e1"/><polygon points="168.3,406.8 173.4,404.5 169.5,406.8 164.4,409.1" fill="#0363e1"/><polygon points="197.4,381.9 202.5,374.5 198.6,377.8 193.5,385.2" fill="#0c93d2"/><polygon points="192.4,388.2 197.4,381.9 193.5,385.2 188.5,391.5" fill="#1485d4"/><polygon points="154.3,410.6 159.4,410.3 155.5,411.6 150.4,411.8" fill="#2053d4"/><polygon points="202.5,374.5 207.5,366.1 203.6,369.4 198.6,377.8" fill="#06a4ca"/><polygon points="187.3,393.6 192.4,388.2 188.5,391.5 183.4,396.9" fill="#127dd8"/><polygon points="118.6,400.1 123.6,404.0 119.7,401.1 114.7,397.3" fill="#0871de"/><polygon points="207.5,366.1 212.5,356.6 208.7,359.9 203.6,369.4" fill="#0faeb9"/><polygon points="105.8,388.5 110.8,393.4 106.9,388.5 101.9,383.6" fill="#1485d4"/><polygon points="182.3,397.9 187.3,393.6 183.4,396.9 178.4,401.2" fill="#0d75dc"/><polygon points="212.5,356.6 217.6,346.1 213.7,349.4 208.7,359.9" fill="#38b99e"/><polygon points="163.3,408.1 168.3,406.8 164.4,409.1 159.4,410.3" fill="#0363e1"/><polygon points="85.2,356.9 90.2,362.8 86.3,353.8 81.3,347.9" fill="#38b99e"/><polygon points="81.3,347.9 86.3,353.8 82.4,343.8 77.4,337.9" fill="#65be86"/><polygon points="89.0,364.9 94.1,370.8 90.2,362.8 85.2,356.9" fill="#15b1b4"/><polygon points="140.4,409.2 145.4,411.0 141.5,411.2 136.5,409.4" fill="#0363e1"/><polygon points="77.4,337.9 82.4,343.8 78.5,332.8 73.5,326.9" fill="#92bf73"/><polygon points="131.4,406.6 136.5,409.4 132.6,408.6 127.5,405.8" fill="#0268e1"/><polygon points="177.2,401.2 182.3,397.9 178.4,401.2 173.4,404.5" fill="#0871de"/><polygon points="109.7,392.4 114.7,397.3 110.8,393.4 105.8,388.5" fill="#1481d6"/><polygon points="149.3,409.8 154.3,410.6 150.4,411.8 145.4,411.0" fill="#0363e1"/><polygon points="92.9,371.8 98.0,377.7 94.1,370.8 89.0,364.9" fill="#07a9c2"/><polygon points="73.5,326.9 78.5,332.8 74.6,320.7 69.6,314.8" fill="#c8bc5d"/><polygon points="217.6,346.1 222.6,334.6 218.7,337.9 213.7,349.4" fill="#71bf80"/><polygon points="122.5,401.9 127.5,405.8 123.6,404.0 118.6,400.1" fill="#0871de"/><polygon points="96.8,377.7 101.9,383.6 98.0,377.7 92.9,371.8" fill="#06a4ca"/><polygon points="158.2,408.3 163.3,408.1 159.4,410.3 154.3,410.6" fill="#0268e1"/><polygon points="172.2,403.5 177.2,401.2 173.4,404.5 168.3,406.8" fill="#0871de"/><polygon points="201.3,377.5 206.4,370.1 202.5,374.5 197.4,381.9" fill="#06a4ca"/><polygon points="196.3,383.9 201.3,377.5 197.4,381.9 192.4,388.2" fill="#0998d1"/><polygon points="206.4,370.1 211.4,361.7 207.5,366.1 202.5,374.5" fill="#0faeb9"/><polygon points="113.6,395.2 118.6,400.1 114.7,397.3 109.7,392.4" fill="#1481d6"/><polygon points="191.2,389.3 196.3,383.9 192.4,388.2 187.3,393.6" fill="#108ed2"/><polygon points="100.7,382.6 105.8,388.5 101.9,383.6 96.8,377.7" fill="#079ccf"/><polygon points="211.4,361.7 216.4,352.3 212.5,356.6 207.5,366.1" fill="#2eb7a4"/><polygon points="135.3,406.4 140.4,409.2 136.5,409.4 131.4,406.6" fill="#046de0"/><polygon points="144.2,407.9 149.3,409.8 145.4,411.0 140.4,409.2" fill="#046de0"/><polygon points="186.2,393.6 191.2,389.3 187.3,393.6 182.3,397.9" fill="#1485d4"/><polygon points="167.2,404.8 172.2,403.5 168.3,406.8 163.3,408.1" fill="#0871de"/><polygon points="126.4,402.7 131.4,406.6 127.5,405.8 122.5,401.9" fill="#0d75dc"/><polygon points="216.4,352.3 221.5,341.8 217.6,346.1 212.5,356.6" fill="#65be86"/><polygon points="80.1,350.0 85.2,356.9 81.3,347.9 76.2,341.0" fill="#71bf80"/><polygon points="76.2,341.0 81.3,347.9 77.4,337.9 72.3,331.0" fill="#9cbf6f"/><polygon points="153.2,407.5 158.2,408.3 154.3,410.6 149.3,409.8" fill="#046de0"/><polygon points="84.0,357.9 89.0,364.9 85.2,356.9 80.1,350.0" fill="#42bb98"/><polygon points="72.3,331.0 77.4,337.9 73.5,326.9 68.4,319.9" fill="#c8bc5d"/><polygon points="104.6,386.5 109.7,392.4 105.8,388.5 100.7,382.6" fill="#0998d1"/><polygon points="181.1,396.9 186.2,393.6 182.3,397.9 177.2,401.2" fill="#1481d6"/><polygon points="117.4,397.0 122.5,401.9 118.6,400.1 113.6,395.2" fill="#1481d6"/><polygon points="221.5,341.8 226.5,330.3 222.6,334.6 217.6,346.1" fill="#9cbf6f"/><polygon points="87.9,364.9 92.9,371.8 89.0,364.9 84.0,357.9" fill="#2eb7a4"/><polygon points="68.4,319.9 73.5,326.9 69.6,314.8 64.5,307.9" fill="#f1b94a"/><polygon points="162.1,405.0 167.2,404.8 163.3,408.1 158.2,408.3" fill="#0d75dc"/><polygon points="91.8,370.8 96.8,377.7 92.9,371.8 87.9,364.9" fill="#15b1b4"/><polygon points="176.1,399.2 181.1,396.9 177.2,401.2 172.2,403.5" fill="#1481d6"/><polygon points="139.2,405.1 144.2,407.9 140.4,409.2 135.3,406.4" fill="#1079da"/><polygon points="108.5,389.3 113.6,395.2 109.7,392.4 104.6,386.5" fill="#0998d1"/><polygon points="130.3,402.5 135.3,406.4 131.4,406.6 126.4,402.7" fill="#127dd8"/><polygon points="205.2,372.2 210.2,364.8 206.4,370.1 201.3,377.5" fill="#15b1b4"/><polygon points="200.2,378.6 205.2,372.2 201.3,377.5 196.3,383.9" fill="#07a9c2"/><polygon points="148.1,405.7 153.2,407.5 149.3,409.8 144.2,407.9" fill="#1079da"/><polygon points="210.2,364.8 215.3,356.4 211.4,361.7 206.4,370.1" fill="#38b99e"/><polygon points="95.7,375.7 100.7,382.6 96.8,377.7 91.8,370.8" fill="#0faeb9"/><polygon points="121.3,397.8 126.4,402.7 122.5,401.9 117.4,397.0" fill="#1485d4"/><polygon points="195.1,383.9 200.2,378.6 196.3,383.9 191.2,389.3" fill="#06a4ca"/><polygon points="215.3,356.4 220.3,346.9 216.4,352.3 211.4,361.7" fill="#65be86"/><polygon points="171.1,400.4 176.1,399.2 172.2,403.5 167.2,404.8" fill="#1481d6"/><polygon points="157.1,404.2 162.1,405.0 158.2,408.3 153.2,407.5" fill="#127dd8"/><polygon points="190.1,388.2 195.1,383.9 191.2,389.3 186.2,393.6" fill="#079ccf"/><polygon points="220.3,346.9 225.4,336.5 221.5,341.8 216.4,352.3" fill="#92bf73"/><polygon points="112.4,391.1 117.4,397.0 113.6,395.2 108.5,389.3" fill="#0998d1"/><polygon points="75.1,342.0 80.1,350.0 76.2,341.0 71.2,333.0" fill="#aebe67"/><polygon points="71.2,333.0 76.2,341.0 72.3,331.0 67.3,323.0" fill="#d1bb59"/><polygon points="99.6,379.5 104.6,386.5 100.7,382.6 95.7,375.7" fill="#0aacbe"/><polygon points="79.0,349.9 84.0,357.9 80.1,350.0 75.1,342.0" fill="#92bf73"/><polygon points="67.3,323.0 72.3,331.0 68.4,319.9 63.4,312.0" fill="#f8bb44"/><polygon points="185.0,391.5 190.1,388.2 186.2,393.6 181.1,396.9" fill="#0998d1"/><polygon points="225.4,336.5 230.4,325.0 226.5,330.3 221.5,341.8" fill="#c8bc5d"/><polygon points="82.9,356.9 87.9,364.9 84.0,357.9 79.0,349.9" fill="#71bf80"/><polygon points="134.2,401.2 139.2,405.1 135.3,406.4 130.3,402.5" fill="#1485d4"/><polygon points="63.4,312.0 68.4,319.9 64.5,307.9 59.5,299.9" fill="#fad32a"/><polygon points="166.0,400.7 171.1,400.4 167.2,404.8 162.1,405.0" fill="#1485d4"/><polygon points="143.1,402.8 148.1,405.7 144.2,407.9 139.2,405.1" fill="#1485d4"/><polygon points="125.2,397.6 130.3,402.5 126.4,402.7 121.3,397.8" fill="#108ed2"/><polygon points="180.0,393.8 185.0,391.5 181.1,396.9 176.1,399.2" fill="#0998d1"/><polygon points="86.7,362.8 91.8,370.8 87.9,364.9 82.9,356.9" fill="#4dbc92"/><polygon points="152.0,402.4 157.1,404.2 153.2,407.5 148.1,405.7" fill="#1485d4"/><polygon points="103.5,382.4 108.5,389.3 104.6,386.5 99.6,379.5" fill="#07a9c2"/><polygon points="116.3,391.9 121.3,397.8 117.4,397.0 112.4,391.1" fill="#079ccf"/><polygon points="209.1,365.8 214.1,358.4 210.2,364.8 205.2,372.2" fill="#42bb98"/><polygon points="204.1,372.2 209.1,365.8 205.2,372.2 200.2,378.6" fill="#2eb7a4"/><polygon points="214.1,358.4 219.2,350.0 215.3,356.4 210.2,364.8" fill="#71bf80"/><polygon points="90.6,367.7 95.7,375.7 91.8,370.8 86.7,362.8" fill="#42bb98"/><polygon points="199.0,377.5 204.1,372.2 200.2,378.6 195.1,383.9" fill="#15b1b4"/><polygon points="161.0,399.9 166.0,400.7 162.1,405.0 157.1,404.2" fill="#108ed2"/><polygon points="174.9,395.1 180.0,393.8 176.1,399.2 171.1,400.4" fill="#0998d1"/><polygon points="219.2,350.0 224.2,340.6 220.3,346.9 215.3,356.4" fill="#9cbf6f"/><polygon points="194.0,381.9 199.0,377.5 195.1,383.9 190.1,388.2" fill="#0faeb9"/><polygon points="107.4,384.2 112.4,391.1 108.5,389.3 103.5,382.4" fill="#0aacbe"/><polygon points="224.2,340.6 229.3,330.1 225.4,336.5 220.3,346.9" fill="#c8bc5d"/><polygon points="138.1,399.0 143.1,402.8 139.2,405.1 134.2,401.2" fill="#0c93d2"/><polygon points="129.1,396.3 134.2,401.2 130.3,402.5 125.2,397.6" fill="#0998d1"/><polygon points="94.5,371.6 99.6,379.5 95.7,375.7 90.6,367.7" fill="#38b99e"/><polygon points="147.0,399.5 152.0,402.4 148.1,405.7 143.1,402.8" fill="#0c93d2"/><polygon points="188.9,385.2 194.0,381.9 190.1,388.2 185.0,391.5" fill="#0aacbe"/><polygon points="120.2,391.7 125.2,397.6 121.3,397.8 116.3,391.9" fill="#06a4ca"/><polygon points="169.9,395.3 174.9,395.1 171.1,400.4 166.0,400.7" fill="#079ccf"/><polygon points="229.3,330.1 234.3,318.6 230.4,325.0 225.4,336.5" fill="#f1b94a"/><polygon points="155.9,398.0 161.0,399.9 157.1,404.2 152.0,402.4" fill="#0998d1"/><polygon points="183.9,387.4 188.9,385.2 185.0,391.5 180.0,393.8" fill="#07a9c2"/><polygon points="98.4,374.4 103.5,382.4 99.6,379.5 94.5,371.6" fill="#38b99e"/><polygon points="111.3,385.0 116.3,391.9 112.4,391.1 107.4,384.2" fill="#0faeb9"/><polygon points="164.9,394.5 169.9,395.3 166.0,400.7 161.0,399.9" fill="#06a4ca"/><polygon points="213.0,358.4 218.0,351.0 214.1,358.4 209.1,365.8" fill="#92bf73"/><polygon points="207.9,364.8 213.0,358.4 209.1,365.8 204.1,372.2" fill="#71bf80"/><polygon points="133.0,394.1 138.1,399.0 134.2,401.2 129.1,396.3" fill="#06a4ca"/><polygon points="218.0,351.0 223.1,342.6 219.2,350.0 214.1,358.4" fill="#aebe67"/><polygon points="141.9,395.7 147.0,399.5 143.1,402.8 138.1,399.0" fill="#06a4ca"/><polygon points="178.8,388.7 183.9,387.4 180.0,393.8 174.9,395.1" fill="#0aacbe"/><polygon points="202.9,370.1 207.9,364.8 204.1,372.2 199.0,377.5" fill="#4dbc92"/><polygon points="124.1,390.4 129.1,396.3 125.2,397.6 120.2,391.7" fill="#07a9c2"/><polygon points="223.1,342.6 228.1,333.2 224.2,340.6 219.2,350.0" fill="#d1bb59"/><polygon points="102.3,376.2 107.4,384.2 103.5,382.4 98.4,374.4" fill="#38b99e"/><polygon points="150.9,395.2 155.9,398.0 152.0,402.4 147.0,399.5" fill="#06a4ca"/><polygon points="197.9,374.5 202.9,370.1 199.0,377.5 194.0,381.9" fill="#42bb98"/><polygon points="228.1,333.2 233.2,322.7 229.3,330.1 224.2,340.6" fill="#f8bb44"/><polygon points="115.1,384.7 120.2,391.7 116.3,391.9 111.3,385.0" fill="#15b1b4"/><polygon points="192.8,377.8 197.9,374.5 194.0,381.9 188.9,385.2" fill="#38b99e"/><polygon points="173.8,388.9 178.8,388.7 174.9,395.1 169.9,395.3" fill="#0faeb9"/><polygon points="159.8,392.7 164.9,394.5 161.0,399.9 155.9,398.0" fill="#07a9c2"/><polygon points="233.2,322.7 238.2,311.2 234.3,318.6 229.3,330.1" fill="#fad32a"/><polygon points="106.2,377.0 111.3,385.0 107.4,384.2 102.3,376.2" fill="#42bb98"/><polygon points="187.8,380.1 192.8,377.8 188.9,385.2 183.9,387.4" fill="#38b99e"/><polygon points="136.9,390.8 141.9,395.7 138.1,399.0 133.0,394.1" fill="#0faeb9"/><polygon points="128.0,388.2 133.0,394.1 129.1,396.3 124.1,390.4" fill="#15b1b4"/><polygon points="145.8,391.3 150.9,395.2 147.0,399.5 141.9,395.7" fill="#0faeb9"/><polygon points="168.8,388.1 173.8,388.9 169.9,395.3 164.9,394.5" fill="#15b1b4"/><polygon points="119.0,383.5 124.1,390.4 120.2,391.7 115.1,384.7" fill="#2eb7a4"/><polygon points="182.7,381.3 187.8,380.1 183.9,387.4 178.8,388.7" fill="#38b99e"/><polygon points="154.8,389.8 159.8,392.7 155.9,398.0 150.9,395.2" fill="#15b1b4"/><polygon points="110.1,376.8 115.1,384.7 111.3,385.0 106.2,377.0" fill="#4dbc92"/><polygon points="163.7,386.3 168.8,388.1 164.9,394.5 159.8,392.7" fill="#2eb7a4"/><polygon points="177.7,381.5 182.7,381.3 178.8,388.7 173.8,388.9" fill="#42bb98"/><polygon points="131.9,384.9 136.9,390.8 133.0,394.1 128.0,388.2" fill="#38b99e"/><polygon points="140.8,386.4 145.8,391.3 141.9,395.7 136.9,390.8" fill="#2eb7a4"/><polygon points="122.9,381.2 128.0,388.2 124.1,390.4 119.0,383.5" fill="#42bb98"/><polygon points="149.7,386.0 154.8,389.8 150.9,395.2 145.8,391.3" fill="#38b99e"/><polygon points="114.0,375.5 119.0,383.5 115.1,384.7 110.1,376.8" fill="#71bf80"/><polygon points="172.6,380.7 177.7,381.5 173.8,388.9 168.8,388.1" fill="#4dbc92"/><polygon points="158.7,383.5 163.7,386.3 159.8,392.7 154.8,389.8" fill="#42bb98"/><polygon points="135.8,380.5 140.8,386.4 136.9,390.8 131.9,384.9" fill="#65be86"/><polygon points="126.8,377.9 131.9,384.9 128.0,388.2 122.9,381.2" fill="#71bf80"/><polygon points="167.6,378.9 172.6,380.7 168.8,388.1 163.7,386.3" fill="#71bf80"/><polygon points="144.7,381.1 149.7,386.0 145.8,391.3 140.8,386.4" fill="#65be86"/><polygon points="117.9,373.2 122.9,381.2 119.0,383.5 114.0,375.5" fill="#92bf73"/><polygon points="153.6,379.6 158.7,383.5 154.8,389.8 149.7,386.0" fill="#71bf80"/><polygon points="162.6,376.1 167.6,378.9 163.7,386.3 158.7,383.5" fill="#92bf73"/><polygon points="130.7,373.6 135.8,380.5 131.9,384.9 126.8,377.9" fill="#9cbf6f"/><polygon points="139.7,375.2 144.7,381.1 140.8,386.4 135.8,380.5" fill="#92bf73"/><polygon points="121.8,369.9 126.8,377.9 122.9,381.2 117.9,373.2" fill="#aebe67"/><polygon points="148.6,374.7 153.6,379.6 149.7,386.0 144.7,381.1" fill="#9cbf6f"/><polygon points="157.5,372.2 162.6,376.1 158.7,383.5 153.6,379.6" fill="#aebe67"/><polygon points="134.6,368.2 139.7,375.2 135.8,380.5 130.7,373.6" fill="#c8bc5d"/><polygon points="125.7,365.6 130.7,373.6 126.8,377.9 121.8,369.9" fill="#d1bb59"/><polygon points="143.5,368.8 148.6,374.7 144.7,381.1 139.7,375.2" fill="#c8bc5d"/><polygon points="152.5,367.3 157.5,372.2 153.6,379.6 148.6,374.7" fill="#d1bb59"/><polygon points="129.6,360.3 134.6,368.2 130.7,373.6 125.7,365.6" fill="#f8bb44"/><polygon points="138.5,361.9 143.5,368.8 139.7,375.2 134.6,368.2" fill="#f1b94a"/><polygon points="147.4,361.4 152.5,367.3 148.6,374.7 143.5,368.8" fill="#f8bb44"/><polygon points="133.5,353.9 138.5,361.9 134.6,368.2 129.6,360.3" fill="#fad32a"/><polygon points="142.4,354.5 147.4,361.4 143.5,368.8 138.5,361.9" fill="#fad32a"/><polygon points="137.3,346.5 142.4,354.5 138.5,361.9 133.5,353.9" fill="#f9fb0e"/></g>
<line x1="306.90" y1="402.30" x2="306.90" y2="299.10" stroke="#d4d4d4" stroke-width="0.65"/><line x1="384.60" y1="449.30" x2="306.90" y2="402.30" stroke="#d4d4d4" stroke-width="0.65"/><line x1="358.00" y1="384.55" x2="358.00" y2="281.35" stroke="#d4d4d4" stroke-width="0.65"/><line x1="435.70" y1="431.55" x2="358.00" y2="384.55" stroke="#d4d4d4" stroke-width="0.65"/><line x1="409.10" y1="366.80" x2="409.10" y2="263.60" stroke="#d4d4d4" stroke-width="0.65"/><line x1="486.80" y1="413.80" x2="409.10" y2="366.80" stroke="#d4d4d4" stroke-width="0.65"/><line x1="486.80" y1="413.80" x2="486.80" y2="310.60" stroke="#d4d4d4" stroke-width="0.65"/><line x1="384.60" y1="449.30" x2="486.80" y2="413.80" stroke="#d4d4d4" stroke-width="0.65"/><line x1="447.95" y1="390.30" x2="447.95" y2="287.10" stroke="#d4d4d4" stroke-width="0.65"/><line x1="345.75" y1="425.80" x2="447.95" y2="390.30" stroke="#d4d4d4" stroke-width="0.65"/><line x1="409.10" y1="366.80" x2="409.10" y2="263.60" stroke="#d4d4d4" stroke-width="0.65"/><line x1="306.90" y1="402.30" x2="409.10" y2="366.80" stroke="#d4d4d4" stroke-width="0.65"/><line x1="306.90" y1="363.60" x2="409.10" y2="328.10" stroke="#d4d4d4" stroke-width="0.65"/><line x1="409.10" y1="328.10" x2="486.80" y2="375.10" stroke="#d4d4d4" stroke-width="0.65"/><line x1="306.90" y1="299.10" x2="409.10" y2="263.60" stroke="#d4d4d4" stroke-width="0.65"/><line x1="409.10" y1="263.60" x2="486.80" y2="310.60" stroke="#d4d4d4" stroke-width="0.65"/>
<polyline points="412.7,369.8 410.5,369.6 408.3,369.5 406.1,369.3 403.9,369.2" fill="none" stroke="#0363e1" stroke-width="1.0"/><polyline points="313.4,400.7 313.0,401.7 312.7,402.7 312.4,403.7 312.2,404.7" fill="none" stroke="#0363e1" stroke-width="1.0"/><polyline points="381.0,446.3 383.2,446.5 385.4,446.6 387.6,446.8 389.8,446.9" fill="none" stroke="#0363e1" stroke-width="1.0"/><polyline points="480.3,415.4 480.7,414.4 481.0,413.4 481.3,412.4 481.5,411.4" fill="none" stroke="#0363e1" stroke-width="1.0"/><polyline points="419.5,373.5 417.5,373.3 415.5,373.0 413.5,372.8 411.5,372.6 409.5,372.5 407.5,372.3 405.4,372.2 403.4,372.1 401.3,372.0 399.3,372.0 397.2,372.0 395.1,372.0" fill="none" stroke="#1485d4" stroke-width="1.0"/><polyline points="321.6,397.5 321.0,398.5 320.5,399.4 320.0,400.3 319.6,401.2 319.3,402.1 319.0,403.1 318.7,404.0 318.5,404.9 318.4,405.9 318.3,406.8 318.2,407.8 318.3,408.7" fill="none" stroke="#1485d4" stroke-width="1.0"/><polyline points="374.2,442.6 376.2,442.8 378.2,443.1 380.2,443.3 382.2,443.5 384.2,443.6 386.2,443.8 388.3,443.9 390.3,444.0 392.4,444.1 394.4,444.1 396.5,444.1 398.6,444.1" fill="none" stroke="#1485d4" stroke-width="1.0"/><polyline points="472.1,418.6 472.7,417.6 473.2,416.7 473.7,415.8 474.1,414.9 474.4,414.0 474.7,413.0 475.0,412.1 475.2,411.2 475.3,410.2 475.4,409.3 475.5,408.3 475.4,407.4" fill="none" stroke="#1485d4" stroke-width="1.0"/><polyline points="428.0,378.4 426.3,378.1 424.6,377.7 422.9,377.4 421.1,377.1 419.3,376.8 417.5,376.6 415.7,376.3 413.9,376.1 412.1,375.9 410.2,375.7 408.4,375.6 406.5,375.4 404.7,375.3 402.8,375.2 400.9,375.2 399.0,375.1 397.2,375.1 395.3,375.1 393.4,375.2 391.5,375.2 389.7,375.3 387.8,375.4 385.9,375.5 384.1,375.6" fill="none" stroke="#06a7c6" stroke-width="1.0"/><polyline points="332.2,393.6 331.4,394.4 330.7,395.2 330.0,396.0 329.3,396.8 328.7,397.6 328.1,398.5 327.6,399.3 327.1,400.1 326.7,401.0 326.3,401.8 326.0,402.7 325.7,403.5 325.5,404.4 325.3,405.2 325.2,406.1 325.1,406.9 325.1,407.8 325.1,408.7 325.2,409.5 325.3,410.4 325.4,411.2 325.7,412.1 325.9,413.0 326.2,413.8" fill="none" stroke="#06a7c6" stroke-width="1.0"/><polyline points="365.7,437.7 367.4,438.0 369.1,438.4 370.8,438.7 372.6,439.0 374.4,439.3 376.2,439.5 378.0,439.8 379.8,440.0 381.6,440.2 383.5,440.4 385.3,440.5 387.2,440.7 389.0,440.8 390.9,440.9 392.8,440.9 394.7,441.0 396.5,441.0 398.4,441.0 400.3,440.9 402.2,440.9 404.0,440.8 405.9,440.7 407.8,440.6 409.6,440.5" fill="none" stroke="#06a7c6" stroke-width="1.0"/><polyline points="461.5,422.5 462.3,421.7 463.0,420.9 463.7,420.1 464.4,419.3 465.0,418.5 465.6,417.6 466.1,416.8 466.6,416.0 467.0,415.1 467.4,414.3 467.7,413.4 468.0,412.6 468.2,411.7 468.4,410.9 468.5,410.0 468.6,409.2 468.6,408.3 468.6,407.4 468.5,406.6 468.4,405.7 468.3,404.9 468.0,404.0 467.8,403.1 467.5,402.3" fill="none" stroke="#06a7c6" stroke-width="1.0"/><polyline points="447.9,390.3 446.9,389.7 445.8,389.1 444.7,388.5 443.6,387.9 442.4,387.4 441.2,386.8 440.0,386.3 438.8,385.8 437.5,385.3 436.2,384.8 434.8,384.4 433.4,383.9 432.1,383.5 430.6,383.1 429.2,382.7 427.7,382.3 426.2,381.9 424.7,381.6 423.2,381.2 421.7,380.9 420.1,380.6 418.5,380.4 417.0,380.1 415.4,379.9 413.7,379.7 412.1,379.5 410.5,379.3 408.8,379.1 407.2,379.0 405.5,378.9 403.8,378.8 402.2,378.7 400.5,378.7 398.8,378.6 397.1,378.6 395.5,378.6 393.8,378.6 392.1,378.7 390.4,378.7 388.8,378.8 387.1,378.9 385.4,379.1 383.8,379.2 382.1,379.4 380.5,379.5 378.9,379.7 377.3,380.0 375.7,380.2 374.1,380.5 372.5,380.8 371.0,381.1 369.5,381.4 368.0,381.7 366.5,382.1 365.0,382.4 363.6,382.8 362.1,383.2 360.7,383.7 359.4,384.1 358.0,384.6 356.7,385.0 355.4,385.5 354.1,386.0 352.9,386.5 351.7,387.1 350.5,387.6 349.3,388.2 348.2,388.8 347.1,389.3 346.1,389.9 345.1,390.6 344.1,391.2 343.2,391.8 342.3,392.5 341.4,393.1 340.6,393.8 339.8,394.5 339.0,395.2 338.3,395.9 337.7,396.6 337.0,397.3 336.4,398.0 335.9,398.7 335.4,399.5 334.9,400.2 334.5,401.0 334.1,401.7 333.8,402.5 333.5,403.2 333.2,404.0 333.0,404.7 332.9,405.5 332.8,406.3 332.7,407.1 332.7,407.8 332.7,408.6 332.7,409.4 332.8,410.1 333.0,410.9 333.2,411.7 333.4,412.4 333.7,413.2 334.0,414.0 334.4,414.7 334.8,415.5 335.2,416.2 335.7,416.9 336.2,417.7 336.8,418.4 337.4,419.1 338.1,419.8 338.8,420.5 339.5,421.2 340.3,421.9 341.1,422.6 342.0,423.2 342.9,423.9 343.8,424.5 344.8,425.2 345.8,425.8 346.8,426.4 347.9,427.0 349.0,427.6 350.1,428.2 351.3,428.7 352.5,429.3 353.7,429.8 354.9,430.3 356.2,430.8 357.5,431.3 358.9,431.7 360.3,432.2 361.6,432.6 363.1,433.0 364.5,433.4 366.0,433.8 367.5,434.2 369.0,434.5 370.5,434.9 372.0,435.2 373.6,435.5 375.2,435.7 376.7,436.0 378.3,436.2 380.0,436.4 381.6,436.6 383.2,436.8 384.9,437.0 386.5,437.1 388.2,437.2 389.9,437.3 391.5,437.4 393.2,437.4 394.9,437.5 396.6,437.5 398.2,437.5 399.9,437.5 401.6,437.4 403.3,437.4 404.9,437.3 406.6,437.2 408.3,437.0 409.9,436.9 411.6,436.7 413.2,436.6 414.8,436.4 416.4,436.1 418.0,435.9 419.6,435.6 421.2,435.3 422.7,435.0 424.2,434.7 425.7,434.4 427.2,434.0 428.7,433.7 430.1,433.3 431.6,432.9 433.0,432.4 434.3,432.0 435.7,431.6 437.0,431.1 438.3,430.6 439.6,430.1 440.8,429.6 442.0,429.0 443.2,428.5 444.4,427.9 445.5,427.3 446.6,426.8 447.6,426.2 448.6,425.5 449.6,424.9 450.5,424.3 451.4,423.6 452.3,423.0 453.1,422.3 453.9,421.6 454.7,420.9 455.4,420.2 456.0,419.5 456.7,418.8 457.3,418.1 457.8,417.4 458.3,416.6 458.8,415.9 459.2,415.1 459.6,414.4 459.9,413.6 460.2,412.9 460.5,412.1 460.7,411.4 460.8,410.6 460.9,409.8 461.0,409.0 461.0,408.3 461.0,407.5 461.0,406.7 460.9,406.0 460.7,405.2 460.5,404.4 460.3,403.7 460.0,402.9 459.7,402.1 459.3,401.4 458.9,400.6 458.5,399.9 458.0,399.2 457.5,398.4 456.9,397.7 456.3,397.0 455.6,396.3 454.9,395.6 454.2,394.9 453.4,394.2 452.6,393.5 451.7,392.9 450.8,392.2 449.9,391.6 448.9,390.9 448.0,390.3" fill="none" stroke="#38b99e" stroke-width="1.0"/><polyline points="441.1,392.7 440.2,392.2 439.3,391.6 438.3,391.1 437.3,390.6 436.3,390.2 435.3,389.7 434.2,389.2 433.1,388.8 432.0,388.4 430.9,387.9 429.7,387.5 428.5,387.1 427.3,386.8 426.1,386.4 424.9,386.1 423.6,385.7 422.3,385.4 421.0,385.1 419.7,384.8 418.4,384.6 417.0,384.3 415.6,384.1 414.3,383.9 412.9,383.7 411.5,383.5 410.1,383.3 408.7,383.1 407.2,383.0 405.8,382.9 404.4,382.8 402.9,382.7 401.5,382.6 400.0,382.6 398.6,382.6 397.1,382.5 395.6,382.5 394.2,382.6 392.7,382.6 391.3,382.7 389.8,382.7 388.4,382.8 387.0,382.9 385.5,383.1 384.1,383.2 382.7,383.4 381.3,383.5 379.9,383.7 378.5,383.9 377.2,384.2 375.8,384.4 374.5,384.7 373.1,384.9 371.8,385.2 370.5,385.5 369.3,385.9 368.0,386.2 366.8,386.6 365.6,386.9 364.4,387.3 363.2,387.7 362.1,388.1 360.9,388.5 359.8,389.0 358.8,389.4 357.7,389.9 356.7,390.4 355.7,390.8 354.7,391.3 353.8,391.8 352.9,392.4 352.0,392.9 351.2,393.4 350.4,394.0 349.6,394.6 348.8,395.1 348.1,395.7 347.4,396.3 346.8,396.9 346.2,397.5 345.6,398.1 345.0,398.7 344.5,399.4 344.1,400.0 343.6,400.6 343.2,401.3 342.9,401.9 342.5,402.6 342.2,403.2 342.0,403.9 341.8,404.5 341.6,405.2 341.4,405.9 341.3,406.5 341.3,407.2 341.3,407.9 341.3,408.5 341.3,409.2 341.4,409.9 341.5,410.5 341.7,411.2 341.9,411.8 342.1,412.5 342.4,413.2 342.7,413.8 343.1,414.5 343.5,415.1 343.9,415.7 344.4,416.4 344.9,417.0 345.4,417.6 346.0,418.2 346.6,418.9 347.2,419.5 347.9,420.0 348.6,420.6 349.3,421.2 350.1,421.8 350.9,422.3 351.7,422.9 352.6,423.4 353.5,423.9 354.4,424.5 355.4,425.0 356.4,425.5 357.4,425.9 358.4,426.4 359.5,426.9 360.6,427.3 361.7,427.7 362.8,428.2 364.0,428.6 365.2,429.0 366.4,429.3 367.6,429.7 368.8,430.0 370.1,430.4 371.4,430.7 372.7,431.0 374.0,431.3 375.3,431.5 376.7,431.8 378.1,432.0 379.4,432.2 380.8,432.4 382.2,432.6 383.6,432.8 385.0,433.0 386.5,433.1 387.9,433.2 389.3,433.3 390.8,433.4 392.2,433.5 393.7,433.5 395.1,433.5 396.6,433.6 398.1,433.6 399.5,433.5 401.0,433.5 402.4,433.4 403.9,433.4 405.3,433.3 406.7,433.2 408.2,433.0 409.6,432.9 411.0,432.7 412.4,432.6 413.8,432.4 415.2,432.2 416.5,431.9 417.9,431.7 419.2,431.4 420.6,431.2 421.9,430.9 423.2,430.6 424.4,430.2 425.7,429.9 426.9,429.5 428.1,429.2 429.3,428.8 430.5,428.4 431.6,428.0 432.8,427.6 433.9,427.1 434.9,426.7 436.0,426.2 437.0,425.7 438.0,425.3 439.0,424.8 439.9,424.3 440.8,423.7 441.7,423.2 442.5,422.7 443.3,422.1 444.1,421.5 444.9,421.0 445.6,420.4 446.3,419.8 446.9,419.2 447.5,418.6 448.1,418.0 448.7,417.4 449.2,416.7 449.6,416.1 450.1,415.5 450.5,414.8 450.8,414.2 451.2,413.5 451.5,412.9 451.7,412.2 451.9,411.6 452.1,410.9 452.3,410.2 452.4,409.6 452.4,408.9 452.4,408.2 452.4,407.6 452.4,406.9 452.3,406.2 452.2,405.6 452.0,404.9 451.8,404.3 451.6,403.6 451.3,402.9 451.0,402.3 450.6,401.6 450.2,401.0 449.8,400.4 449.3,399.7 448.8,399.1 448.3,398.5 447.7,397.9 447.1,397.2 446.5,396.6 445.8,396.1 445.1,395.5 444.4,394.9 443.6,394.3 442.8,393.8 442.0,393.2 441.1,392.7" fill="none" stroke="#92bf73" stroke-width="1.0"/><polyline points="433.0,395.5 432.3,395.1 431.5,394.6 430.7,394.2 429.9,393.8 429.1,393.4 428.2,393.1 427.4,392.7 426.5,392.3 425.6,392.0 424.6,391.6 423.7,391.3 422.7,391.0 421.7,390.7 420.7,390.4 419.7,390.1 418.7,389.8 417.6,389.6 416.6,389.3 415.5,389.1 414.4,388.9 413.3,388.7 412.2,388.5 411.1,388.3 409.9,388.1 408.8,388.0 407.6,387.8 406.5,387.7 405.3,387.6 404.2,387.5 403.0,387.4 401.8,387.4 400.6,387.3 399.4,387.3 398.2,387.2 397.1,387.2 395.9,387.2 394.7,387.2 393.5,387.3 392.3,387.3 391.1,387.4 389.9,387.5 388.8,387.5 387.6,387.6 386.5,387.8 385.3,387.9 384.2,388.0 383.0,388.2 381.9,388.4 380.8,388.6 379.7,388.8 378.6,389.0 377.5,389.2 376.4,389.4 375.4,389.7 374.3,389.9 373.3,390.2 372.3,390.5 371.3,390.8 370.3,391.1 369.4,391.4 368.4,391.8 367.5,392.1 366.6,392.5 365.8,392.8 364.9,393.2 364.1,393.6 363.3,394.0 362.5,394.4 361.7,394.8 361.0,395.2 360.2,395.7 359.6,396.1 358.9,396.6 358.3,397.0 357.6,397.5 357.1,398.0 356.5,398.5 356.0,398.9 355.5,399.4 355.0,399.9 354.5,400.4 354.1,400.9 353.7,401.5 353.4,402.0 353.1,402.5 352.8,403.0 352.5,403.6 352.3,404.1 352.1,404.6 351.9,405.2 351.7,405.7 351.6,406.3 351.5,406.8 351.5,407.3 351.5,407.9 351.5,408.4 351.5,409.0 351.6,409.5 351.7,410.1 351.8,410.6 352.0,411.2 352.2,411.7 352.4,412.2 352.7,412.8 353.0,413.3 353.3,413.8 353.6,414.3 354.0,414.9 354.4,415.4 354.8,415.9 355.3,416.4 355.8,416.9 356.3,417.4 356.9,417.8 357.4,418.3 358.0,418.8 358.7,419.3 359.3,419.7 360.0,420.2 360.7,420.6 361.4,421.0 362.2,421.5 363.0,421.9 363.8,422.3 364.6,422.7 365.5,423.0 366.3,423.4 367.2,423.8 368.1,424.1 369.1,424.5 370.0,424.8 371.0,425.1 372.0,425.4 373.0,425.7 374.0,426.0 375.0,426.3 376.1,426.5 377.1,426.8 378.2,427.0 379.3,427.2 380.4,427.4 381.5,427.6 382.6,427.8 383.8,428.0 384.9,428.1 386.1,428.3 387.2,428.4 388.4,428.5 389.5,428.6 390.7,428.7 391.9,428.7 393.1,428.8 394.3,428.8 395.5,428.9 396.6,428.9 397.8,428.9 399.0,428.9 400.2,428.8 401.4,428.8 402.6,428.7 403.8,428.6 404.9,428.6 406.1,428.5 407.2,428.3 408.4,428.2 409.5,428.1 410.7,427.9 411.8,427.7 412.9,427.5 414.0,427.3 415.1,427.1 416.2,426.9 417.3,426.7 418.3,426.4 419.4,426.2 420.4,425.9 421.4,425.6 422.4,425.3 423.4,425.0 424.3,424.7 425.3,424.3 426.2,424.0 427.1,423.6 427.9,423.3 428.8,422.9 429.6,422.5 430.4,422.1 431.2,421.7 432.0,421.3 432.7,420.9 433.5,420.4 434.1,420.0 434.8,419.5 435.4,419.1 436.1,418.6 436.6,418.1 437.2,417.6 437.7,417.2 438.2,416.7 438.7,416.2 439.2,415.7 439.6,415.2 440.0,414.6 440.3,414.1 440.6,413.6 440.9,413.1 441.2,412.5 441.4,412.0 441.6,411.5 441.8,410.9 442.0,410.4 442.1,409.8 442.2,409.3 442.2,408.8 442.2,408.2 442.2,407.7 442.2,407.1 442.1,406.6 442.0,406.0 441.9,405.5 441.7,404.9 441.5,404.4 441.3,403.9 441.0,403.3 440.7,402.8 440.4,402.3 440.1,401.8 439.7,401.2 439.3,400.7 438.9,400.2 438.4,399.7 437.9,399.2 437.4,398.7 436.8,398.3 436.3,397.8 435.7,397.3 435.0,396.8 434.4,396.4 433.7,395.9 433.0,395.5" fill="none" stroke="#d9ba56" stroke-width="1.0"/><polyline points="422.4,399.2 421.9,398.9 421.3,398.6 420.8,398.3 420.2,398.0 419.6,397.7 419.0,397.4 418.4,397.2 417.8,396.9 417.2,396.7 416.5,396.4 415.8,396.2 415.1,396.0 414.5,395.8 413.7,395.6 413.0,395.4 412.3,395.2 411.5,395.0 410.8,394.8 410.0,394.6 409.3,394.5 408.5,394.3 407.7,394.2 406.9,394.1 406.1,394.0 405.3,393.9 404.5,393.8 403.7,393.7 402.8,393.6 402.0,393.5 401.2,393.5 400.3,393.4 399.5,393.4 398.7,393.4 397.8,393.3 397.0,393.3 396.2,393.3 395.3,393.3 394.5,393.4 393.6,393.4 392.8,393.4 392.0,393.5 391.1,393.6 390.3,393.6 389.5,393.7 388.7,393.8 387.9,393.9 387.1,394.0 386.3,394.1 385.5,394.3 384.7,394.4 383.9,394.6 383.2,394.7 382.4,394.9 381.7,395.1 380.9,395.2 380.2,395.4 379.5,395.6 378.8,395.9 378.1,396.1 377.4,396.3 376.8,396.5 376.1,396.8 375.5,397.0 374.9,397.3 374.3,397.6 373.7,397.8 373.1,398.1 372.5,398.4 372.0,398.7 371.5,399.0 371.0,399.3 370.5,399.6 370.0,399.9 369.6,400.3 369.1,400.6 368.7,400.9 368.3,401.3 367.9,401.6 367.6,402.0 367.3,402.3 366.9,402.7 366.6,403.0 366.4,403.4 366.1,403.8 365.9,404.1 365.7,404.5 365.5,404.9 365.3,405.3 365.2,405.6 365.0,406.0 364.9,406.4 364.9,406.8 364.8,407.2 364.8,407.6 364.8,407.9 364.8,408.3 364.8,408.7 364.8,409.1 364.9,409.5 365.0,409.9 365.1,410.2 365.3,410.6 365.4,411.0 365.6,411.4 365.8,411.8 366.0,412.1 366.3,412.5 366.5,412.9 366.8,413.2 367.1,413.6 367.5,413.9 367.8,414.3 368.2,414.6 368.6,415.0 369.0,415.3 369.4,415.6 369.9,416.0 370.3,416.3 370.8,416.6 371.3,416.9 371.8,417.2 372.4,417.5 372.9,417.8 373.5,418.1 374.1,418.4 374.7,418.7 375.3,418.9 375.9,419.2 376.5,419.4 377.2,419.7 377.9,419.9 378.6,420.1 379.2,420.3 380.0,420.5 380.7,420.7 381.4,420.9 382.2,421.1 382.9,421.3 383.7,421.5 384.4,421.6 385.2,421.8 386.0,421.9 386.8,422.0 387.6,422.1 388.4,422.2 389.2,422.3 390.0,422.4 390.9,422.5 391.7,422.6 392.5,422.6 393.4,422.7 394.2,422.7 395.0,422.7 395.9,422.8 396.7,422.8 397.5,422.8 398.4,422.8 399.2,422.7 400.1,422.7 400.9,422.7 401.7,422.6 402.6,422.5 403.4,422.5 404.2,422.4 405.0,422.3 405.8,422.2 406.6,422.1 407.4,422.0 408.2,421.8 409.0,421.7 409.8,421.5 410.5,421.4 411.3,421.2 412.0,421.0 412.8,420.9 413.5,420.7 414.2,420.5 414.9,420.2 415.6,420.0 416.3,419.8 416.9,419.6 417.6,419.3 418.2,419.1 418.8,418.8 419.4,418.5 420.0,418.3 420.6,418.0 421.2,417.7 421.7,417.4 422.2,417.1 422.7,416.8 423.2,416.5 423.7,416.2 424.1,415.8 424.6,415.5 425.0,415.2 425.4,414.8 425.8,414.5 426.1,414.1 426.4,413.8 426.8,413.4 427.1,413.1 427.3,412.7 427.6,412.3 427.8,412.0 428.0,411.6 428.2,411.2 428.4,410.8 428.5,410.5 428.7,410.1 428.8,409.7 428.8,409.3 428.9,408.9 428.9,408.5 428.9,408.2 428.9,407.8 428.9,407.4 428.9,407.0 428.8,406.6 428.7,406.2 428.6,405.9 428.4,405.5 428.3,405.1 428.1,404.7 427.9,404.3 427.7,404.0 427.4,403.6 427.2,403.2 426.9,402.9 426.6,402.5 426.2,402.2 425.9,401.8 425.5,401.5 425.1,401.1 424.7,400.8 424.3,400.5 423.8,400.1 423.4,399.8 422.9,399.5 422.4,399.2" fill="none" stroke="#fcce2e" stroke-width="1.0"/>
<line x1="306.90" y1="402.30" x2="306.90" y2="299.10" stroke="#262626" stroke-width="1.0"/><line x1="384.60" y1="449.30" x2="486.80" y2="413.80" stroke="#262626" stroke-width="1.0"/><line x1="384.60" y1="449.30" x2="306.90" y2="402.30" stroke="#262626" stroke-width="1.0"/><line x1="306.90" y1="363.60" x2="304.33" y2="362.05" stroke="#262626" stroke-width="1.0"/><line x1="306.90" y1="299.10" x2="304.33" y2="297.55" stroke="#262626" stroke-width="1.0"/><line x1="384.60" y1="449.30" x2="387.17" y2="450.85" stroke="#262626" stroke-width="1.0"/><line x1="435.70" y1="431.55" x2="438.27" y2="433.10" stroke="#262626" stroke-width="1.0"/><line x1="486.80" y1="413.80" x2="489.37" y2="415.35" stroke="#262626" stroke-width="1.0"/><line x1="384.60" y1="449.30" x2="381.77" y2="450.28" stroke="#262626" stroke-width="1.0"/><line x1="345.75" y1="425.80" x2="342.92" y2="426.78" stroke="#262626" stroke-width="1.0"/><line x1="306.90" y1="402.30" x2="304.07" y2="403.28" stroke="#262626" stroke-width="1.0"/>
<g stroke="#000" stroke-width="1.0" stroke-linejoin="round"><polygon points="407.9,351.3 413.0,359.3 409.1,366.8 404.0,358.8" fill="#0d75dc"/><polygon points="402.8,344.3 407.9,351.3 404.0,358.8 398.9,351.8" fill="#1389d3"/><polygon points="411.8,344.9 416.9,352.9 413.0,359.3 407.9,351.3" fill="#1389d3"/><polygon points="397.7,338.4 402.8,344.3 398.9,351.8 393.8,345.8" fill="#06a0cd"/><polygon points="406.7,337.9 411.8,344.9 407.9,351.3 402.8,344.3" fill="#06a4ca"/><polygon points="415.6,339.5 420.8,347.5 416.9,352.9 411.8,344.9" fill="#06a0cd"/><polygon points="392.5,333.4 397.7,338.4 393.8,345.8 388.7,340.9" fill="#0aacbe"/><polygon points="401.5,331.9 406.7,337.9 402.8,344.3 397.7,338.4" fill="#0faeb9"/><polygon points="419.5,335.1 424.6,343.2 420.8,347.5 415.6,339.5" fill="#0aacbe"/><polygon points="410.5,332.5 415.6,339.5 411.8,344.9 406.7,337.9" fill="#0faeb9"/><polygon points="387.4,329.5 392.5,333.4 388.7,340.9 383.6,337.0" fill="#25b5a9"/><polygon points="396.4,327.0 401.5,331.9 397.7,338.4 392.5,333.4" fill="#2eb7a4"/><polygon points="423.4,331.8 428.5,339.9 424.6,343.2 419.5,335.1" fill="#25b5a9"/><polygon points="405.4,326.5 410.5,332.5 406.7,337.9 401.5,331.9" fill="#38b99e"/><polygon points="414.4,328.2 419.5,335.1 415.6,339.5 410.5,332.5" fill="#2eb7a4"/><polygon points="382.3,326.7 387.4,329.5 383.6,337.0 378.4,334.1" fill="#38b99e"/><polygon points="391.3,323.1 396.4,327.0 392.5,333.4 387.4,329.5" fill="#59bd8c"/><polygon points="427.3,329.5 432.4,337.6 428.5,339.9 423.4,331.8" fill="#38b99e"/><polygon points="377.2,324.8 382.3,326.7 378.4,334.1 373.3,332.3" fill="#59bd8c"/><polygon points="400.3,321.6 405.4,326.5 401.5,331.9 396.4,327.0" fill="#65be86"/><polygon points="418.3,324.8 423.4,331.8 419.5,335.1 414.4,328.2" fill="#59bd8c"/><polygon points="409.3,322.2 414.4,328.2 410.5,332.5 405.4,326.5" fill="#65be86"/><polygon points="386.2,320.2 391.3,323.1 387.4,329.5 382.3,326.7" fill="#7cbf7b"/><polygon points="372.1,324.0 377.2,324.8 373.3,332.3 368.2,331.5" fill="#65be86"/><polygon points="431.2,328.3 436.3,336.3 432.4,337.6 427.3,329.5" fill="#59bd8c"/><polygon points="395.2,317.7 400.3,321.6 396.4,327.0 391.3,323.1" fill="#92bf73"/><polygon points="422.2,322.5 427.3,329.5 423.4,331.8 418.3,324.8" fill="#7cbf7b"/><polygon points="404.2,317.3 409.3,322.2 405.4,326.5 400.3,321.6" fill="#92bf73"/><polygon points="413.2,318.9 418.3,324.8 414.4,328.2 409.3,322.2" fill="#92bf73"/><polygon points="367.0,324.2 372.1,324.0 368.2,331.5 363.1,331.7" fill="#71bf80"/><polygon points="381.1,318.4 386.2,320.2 382.3,326.7 377.2,324.8" fill="#92bf73"/><polygon points="435.1,328.0 440.2,336.1 436.3,336.3 431.2,328.3" fill="#65be86"/><polygon points="390.1,314.8 395.2,317.7 391.3,323.1 386.2,320.2" fill="#aebe67"/><polygon points="361.9,325.5 367.0,324.2 363.1,331.7 358.0,332.9" fill="#7cbf7b"/><polygon points="376.0,317.6 381.1,318.4 377.2,324.8 372.1,324.0" fill="#a5be6b"/><polygon points="426.1,321.3 431.2,328.3 427.3,329.5 422.2,322.5" fill="#92bf73"/><polygon points="399.1,313.4 404.2,317.3 400.3,321.6 395.2,317.7" fill="#b7bd64"/><polygon points="417.1,316.6 422.2,322.5 418.3,324.8 413.2,318.9" fill="#aebe67"/><polygon points="408.1,313.9 413.2,318.9 409.3,322.2 404.2,317.3" fill="#b7bd64"/><polygon points="356.8,327.8 361.9,325.5 358.0,332.9 352.9,335.2" fill="#71bf80"/><polygon points="439.0,328.8 444.1,336.9 440.2,336.1 435.1,328.0" fill="#71bf80"/><polygon points="310.8,394.8 315.9,383.3 312.0,390.7 306.9,402.3" fill="#2053d4"/><polygon points="385.0,313.0 390.1,314.8 386.2,320.2 381.1,318.4" fill="#c0bc60"/><polygon points="351.7,331.1 356.8,327.8 352.9,335.2 347.8,338.6" fill="#65be86"/><polygon points="370.9,317.8 376.0,317.6 372.1,324.0 367.0,324.2" fill="#aebe67"/><polygon points="315.9,383.3 321.0,372.7 317.1,380.2 312.0,390.7" fill="#0d75dc"/><polygon points="430.0,321.0 435.1,328.0 431.2,328.3 426.1,321.3" fill="#a5be6b"/><polygon points="346.6,335.5 351.7,331.1 347.8,338.6 342.7,342.9" fill="#59bd8c"/><polygon points="394.0,310.5 399.1,313.4 395.2,317.7 390.1,314.8" fill="#d1bb59"/><polygon points="321.0,372.7 326.1,363.2 322.2,370.7 317.1,380.2" fill="#1389d3"/><polygon points="442.8,330.7 447.9,338.7 444.1,336.9 439.0,328.8" fill="#7cbf7b"/><polygon points="341.4,340.9 346.6,335.5 342.7,342.9 337.6,348.3" fill="#38b99e"/><polygon points="421.0,315.3 426.1,321.3 422.2,322.5 417.1,316.6" fill="#c0bc60"/><polygon points="365.8,319.1 370.9,317.8 367.0,324.2 361.9,325.5" fill="#aebe67"/><polygon points="326.1,363.2 331.2,354.7 327.3,362.2 322.2,370.7" fill="#06a0cd"/><polygon points="403.0,310.0 408.1,313.9 404.2,317.3 399.1,313.4" fill="#d9ba56"/><polygon points="336.3,347.3 341.4,340.9 337.6,348.3 332.5,354.7" fill="#25b5a9"/><polygon points="331.2,354.7 336.3,347.3 332.5,354.7 327.3,362.2" fill="#0aacbe"/><polygon points="412.0,311.6 417.1,316.6 413.2,318.9 408.1,313.9" fill="#d1bb59"/><polygon points="379.9,312.2 385.0,313.0 381.1,318.4 376.0,317.6" fill="#d1bb59"/><polygon points="360.7,321.4 365.8,319.1 361.9,325.5 356.8,327.8" fill="#aebe67"/><polygon points="433.8,321.8 439.0,328.8 435.1,328.0 430.0,321.0" fill="#aebe67"/><polygon points="446.7,333.5 451.8,341.6 447.9,338.7 442.8,330.7" fill="#71bf80"/><polygon points="388.9,308.6 394.0,310.5 390.1,314.8 385.0,313.0" fill="#e1b952"/><polygon points="314.7,388.4 319.8,376.8 315.9,383.3 310.8,394.8" fill="#0871de"/><polygon points="374.8,312.4 379.9,312.2 376.0,317.6 370.9,317.8" fill="#d9ba56"/><polygon points="355.6,324.7 360.7,321.4 356.8,327.8 351.7,331.1" fill="#a5be6b"/><polygon points="424.9,315.1 430.0,321.0 426.1,321.3 421.0,315.3" fill="#d1bb59"/><polygon points="397.9,307.2 403.0,310.0 399.1,313.4 394.0,310.5" fill="#e9b94e"/><polygon points="319.8,376.8 324.9,366.3 321.0,372.7 315.9,383.3" fill="#1389d3"/><polygon points="450.6,337.4 455.7,345.5 451.8,341.6 446.7,333.5" fill="#65be86"/><polygon points="415.9,310.4 421.0,315.3 417.1,316.6 412.0,311.6" fill="#e1b952"/><polygon points="406.9,307.7 412.0,311.6 408.1,313.9 403.0,310.0" fill="#e9b94e"/><polygon points="350.4,329.0 355.6,324.7 351.7,331.1 346.6,335.5" fill="#92bf73"/><polygon points="437.7,323.7 442.8,330.7 439.0,328.8 433.8,321.8" fill="#aebe67"/><polygon points="324.9,366.3 330.0,356.8 326.1,363.2 321.0,372.7" fill="#06a4ca"/><polygon points="369.7,313.7 374.8,312.4 370.9,317.8 365.8,319.1" fill="#d9ba56"/><polygon points="345.3,334.4 350.4,329.0 346.6,335.5 341.4,340.9" fill="#7cbf7b"/><polygon points="383.8,307.8 388.9,308.6 385.0,313.0 379.9,312.2" fill="#f1b94a"/><polygon points="330.0,356.8 335.1,348.3 331.2,354.7 326.1,363.2" fill="#0faeb9"/><polygon points="340.2,340.8 345.3,334.4 341.4,340.9 336.3,347.3" fill="#59bd8c"/><polygon points="335.1,348.3 340.2,340.8 336.3,347.3 331.2,354.7" fill="#38b99e"/><polygon points="454.5,342.4 459.6,350.4 455.7,345.5 450.6,337.4" fill="#59bd8c"/><polygon points="428.7,315.9 433.8,321.8 430.0,321.0 424.9,315.1" fill="#d9ba56"/><polygon points="392.8,305.3 397.9,307.2 394.0,310.5 388.9,308.6" fill="#fdbe3d"/><polygon points="364.5,316.0 369.7,313.7 365.8,319.1 360.7,321.4" fill="#d9ba56"/><polygon points="441.6,326.5 446.7,333.5 442.8,330.7 437.7,323.7" fill="#aebe67"/><polygon points="458.4,348.3 463.5,356.4 459.6,350.4 454.5,342.4" fill="#38b99e"/><polygon points="419.7,310.1 424.9,315.1 421.0,315.3 415.9,310.4" fill="#f1b94a"/><polygon points="378.7,308.1 383.8,307.8 379.9,312.2 374.8,312.4" fill="#f8bb44"/><polygon points="401.8,304.9 406.9,307.7 403.0,310.0 397.9,307.2" fill="#fdbe3d"/><polygon points="318.6,383.0 323.7,371.5 319.8,376.8 314.7,388.4" fill="#1485d4"/><polygon points="410.7,306.5 415.9,310.4 412.0,311.6 406.9,307.7" fill="#fdbe3d"/><polygon points="481.7,405.8 486.8,413.8 482.9,401.6 477.8,393.6" fill="#2053d4"/><polygon points="462.3,355.3 467.4,363.4 463.5,356.4 458.4,348.3" fill="#25b5a9"/><polygon points="359.4,319.3 364.5,316.0 360.7,321.4 355.6,324.7" fill="#d1bb59"/><polygon points="477.8,393.6 482.9,401.6 479.0,390.5 473.9,382.5" fill="#0d75dc"/><polygon points="466.2,363.3 471.3,371.4 467.4,363.4 462.3,355.3" fill="#0aacbe"/><polygon points="445.5,330.4 450.6,337.4 446.7,333.5 441.6,326.5" fill="#a5be6b"/><polygon points="432.6,317.7 437.7,323.7 433.8,321.8 428.7,315.9" fill="#d9ba56"/><polygon points="323.7,371.5 328.8,360.9 324.9,366.3 319.8,376.8" fill="#06a0cd"/><polygon points="473.9,382.5 479.0,390.5 475.1,380.4 470.0,372.4" fill="#1389d3"/><polygon points="470.0,372.4 475.1,380.4 471.3,371.4 466.2,363.3" fill="#06a0cd"/><polygon points="354.3,323.7 359.4,319.3 355.6,324.7 350.4,329.0" fill="#c0bc60"/><polygon points="387.6,304.5 392.8,305.3 388.9,308.6 383.8,307.8" fill="#ffc337"/><polygon points="373.5,309.3 378.7,308.1 374.8,312.4 369.7,313.7" fill="#f8bb44"/><polygon points="328.8,360.9 333.9,351.4 330.0,356.8 324.9,366.3" fill="#0faeb9"/><polygon points="349.2,329.0 354.3,323.7 350.4,329.0 345.3,334.4" fill="#aebe67"/><polygon points="423.6,310.9 428.7,315.9 424.9,315.1 419.7,310.1" fill="#f8bb44"/><polygon points="333.9,351.4 339.0,342.9 335.1,348.3 330.0,356.8" fill="#38b99e"/><polygon points="449.4,335.4 454.5,342.4 450.6,337.4 445.5,330.4" fill="#92bf73"/><polygon points="344.1,335.5 349.2,329.0 345.3,334.4 340.2,340.8" fill="#92bf73"/><polygon points="339.0,342.9 344.1,335.5 340.2,340.8 335.1,348.3" fill="#65be86"/><polygon points="396.6,303.0 401.8,304.9 397.9,307.2 392.8,305.3" fill="#fcce2e"/><polygon points="414.6,306.2 419.7,310.1 415.9,310.4 410.7,306.5" fill="#ffc337"/><polygon points="436.5,320.6 441.6,326.5 437.7,323.7 432.6,317.7" fill="#d9ba56"/><polygon points="405.6,303.6 410.7,306.5 406.9,307.7 401.8,304.9" fill="#fcce2e"/><polygon points="368.4,311.6 373.5,309.3 369.7,313.7 364.5,316.0" fill="#f8bb44"/><polygon points="453.3,341.3 458.4,348.3 454.5,342.4 449.4,335.4" fill="#7cbf7b"/><polygon points="382.5,304.7 387.6,304.5 383.8,307.8 378.7,308.1" fill="#fec832"/><polygon points="322.4,378.7 327.6,367.1 323.7,371.5 318.6,383.0" fill="#0998d1"/><polygon points="476.6,398.8 481.7,405.8 477.8,393.6 472.7,386.6" fill="#0871de"/><polygon points="457.2,348.3 462.3,355.3 458.4,348.3 453.3,341.3" fill="#59bd8c"/><polygon points="363.3,314.9 368.4,311.6 364.5,316.0 359.4,319.3" fill="#f1b94a"/><polygon points="427.5,312.8 432.6,317.7 428.7,315.9 423.6,310.9" fill="#f8bb44"/><polygon points="440.4,324.5 445.5,330.4 441.6,326.5 436.5,320.6" fill="#d1bb59"/><polygon points="472.7,386.6 477.8,393.6 473.9,382.5 468.8,375.5" fill="#1389d3"/><polygon points="461.0,356.4 466.2,363.3 462.3,355.3 457.2,348.3" fill="#38b99e"/><polygon points="391.5,302.2 396.6,303.0 392.8,305.3 387.6,304.5" fill="#fad32a"/><polygon points="327.6,367.1 332.7,356.6 328.8,360.9 323.7,371.5" fill="#0aacbe"/><polygon points="468.8,375.5 473.9,382.5 470.0,372.4 464.9,365.4" fill="#06a4ca"/><polygon points="464.9,365.4 470.0,372.4 466.2,363.3 461.0,356.4" fill="#0faeb9"/><polygon points="358.2,319.3 363.3,314.9 359.4,319.3 354.3,323.7" fill="#e1b952"/><polygon points="377.4,306.0 382.5,304.7 378.7,308.1 373.5,309.3" fill="#fcce2e"/><polygon points="418.5,307.0 423.6,310.9 419.7,310.1 414.6,306.2" fill="#fec832"/><polygon points="400.5,301.8 405.6,303.6 401.8,304.9 396.6,303.0" fill="#f7d826"/><polygon points="332.7,356.6 337.8,347.0 333.9,351.4 328.8,360.9" fill="#2eb7a4"/><polygon points="409.5,303.4 414.6,306.2 410.7,306.5 405.6,303.6" fill="#fad32a"/><polygon points="353.1,324.7 358.2,319.3 354.3,323.7 349.2,329.0" fill="#d1bb59"/><polygon points="444.3,329.4 449.4,335.4 445.5,330.4 440.4,324.5" fill="#c0bc60"/><polygon points="337.8,347.0 342.9,338.6 339.0,342.9 333.9,351.4" fill="#65be86"/><polygon points="348.0,331.1 353.1,324.7 349.2,329.0 344.1,335.5" fill="#b7bd64"/><polygon points="342.9,338.6 348.0,331.1 344.1,335.5 339.0,342.9" fill="#92bf73"/><polygon points="431.4,315.6 436.5,320.6 432.6,317.7 427.5,312.8" fill="#f8bb44"/><polygon points="372.3,308.3 377.4,306.0 373.5,309.3 368.4,311.6" fill="#fec832"/><polygon points="386.4,302.4 391.5,302.2 387.6,304.5 382.5,304.7" fill="#f7d826"/><polygon points="448.2,335.4 453.3,341.3 449.4,335.4 444.3,329.4" fill="#aebe67"/><polygon points="326.3,375.4 331.4,363.8 327.6,367.1 322.4,378.7" fill="#06a7c6"/><polygon points="422.4,308.9 427.5,312.8 423.6,310.9 418.5,307.0" fill="#fcce2e"/><polygon points="395.4,301.0 400.5,301.8 396.6,303.0 391.5,302.2" fill="#f5de21"/><polygon points="471.5,392.8 476.6,398.8 472.7,386.6 467.6,380.7" fill="#1485d4"/><polygon points="367.2,311.6 372.3,308.3 368.4,311.6 363.3,314.9" fill="#ffc337"/><polygon points="452.0,342.4 457.2,348.3 453.3,341.3 448.2,335.4" fill="#92bf73"/><polygon points="435.3,319.5 440.4,324.5 436.5,320.6 431.4,315.6" fill="#f1b94a"/><polygon points="413.4,304.2 418.5,307.0 414.6,306.2 409.5,303.4" fill="#f7d826"/><polygon points="404.4,301.5 409.5,303.4 405.6,303.6 400.5,301.8" fill="#f5de21"/><polygon points="467.6,380.7 472.7,386.6 468.8,375.5 463.7,369.5" fill="#06a0cd"/><polygon points="455.9,350.4 461.0,356.4 457.2,348.3 452.0,342.4" fill="#65be86"/><polygon points="331.4,363.8 336.5,353.2 332.7,356.6 327.6,367.1" fill="#25b5a9"/><polygon points="381.3,303.7 386.4,302.4 382.5,304.7 377.4,306.0" fill="#f7d826"/><polygon points="463.7,369.5 468.8,375.5 464.9,365.4 459.8,359.4" fill="#0faeb9"/><polygon points="459.8,359.4 464.9,365.4 461.0,356.4 455.9,350.4" fill="#38b99e"/><polygon points="362.1,316.0 367.2,311.6 363.3,314.9 358.2,319.3" fill="#fdbe3d"/><polygon points="336.5,353.2 341.7,343.7 337.8,347.0 332.7,356.6" fill="#59bd8c"/><polygon points="439.2,324.5 444.3,329.4 440.4,324.5 435.3,319.5" fill="#e1b952"/><polygon points="357.0,321.4 362.1,316.0 358.2,319.3 353.1,324.7" fill="#e9b94e"/><polygon points="426.3,311.7 431.4,315.6 427.5,312.8 422.4,308.9" fill="#fec832"/><polygon points="341.7,343.7 346.8,335.2 342.9,338.6 337.8,347.0" fill="#92bf73"/><polygon points="351.9,327.8 357.0,321.4 353.1,324.7 348.0,331.1" fill="#d9ba56"/><polygon points="390.3,301.2 395.4,301.0 391.5,302.2 386.4,302.4" fill="#f5e41d"/><polygon points="346.8,335.2 351.9,327.8 348.0,331.1 342.9,338.6" fill="#b7bd64"/><polygon points="376.2,306.0 381.3,303.7 377.4,306.0 372.3,308.3" fill="#f7d826"/><polygon points="417.3,306.0 422.4,308.9 418.5,307.0 413.4,304.2" fill="#f7d826"/><polygon points="443.1,330.4 448.2,335.4 444.3,329.4 439.2,324.5" fill="#d1bb59"/><polygon points="399.3,300.7 404.4,301.5 400.5,301.8 395.4,301.0" fill="#f5eb18"/><polygon points="408.3,302.3 413.4,304.2 409.5,303.4 404.4,301.5" fill="#f5e41d"/><polygon points="330.2,373.1 335.3,361.5 331.4,363.8 326.3,375.4" fill="#0aacbe"/><polygon points="430.2,315.6 435.3,319.5 431.4,315.6 426.3,311.7" fill="#ffc337"/><polygon points="371.1,309.3 376.2,306.0 372.3,308.3 367.2,311.6" fill="#fad32a"/><polygon points="466.4,387.9 471.5,392.8 467.6,380.7 462.5,375.7" fill="#0998d1"/><polygon points="446.9,337.4 452.0,342.4 448.2,335.4 443.1,330.4" fill="#b7bd64"/><polygon points="385.2,302.4 390.3,301.2 386.4,302.4 381.3,303.7" fill="#f5eb18"/><polygon points="335.3,361.5 340.4,350.9 336.5,353.2 331.4,363.8" fill="#38b99e"/><polygon points="462.5,375.7 467.6,380.7 463.7,369.5 458.6,364.6" fill="#0aacbe"/><polygon points="450.8,345.5 455.9,350.4 452.0,342.4 446.9,337.4" fill="#92bf73"/><polygon points="458.6,364.6 463.7,369.5 459.8,359.4 454.7,354.5" fill="#2eb7a4"/><polygon points="454.7,354.5 459.8,359.4 455.9,350.4 450.8,345.5" fill="#65be86"/><polygon points="366.0,313.7 371.1,309.3 367.2,311.6 362.1,316.0" fill="#fcce2e"/><polygon points="421.2,308.9 426.3,311.7 422.4,308.9 417.3,306.0" fill="#f7d826"/><polygon points="434.1,320.6 439.2,324.5 435.3,319.5 430.2,315.6" fill="#fdbe3d"/><polygon points="340.4,350.9 345.5,341.4 341.7,343.7 336.5,353.2" fill="#7cbf7b"/><polygon points="394.2,301.0 399.3,300.7 395.4,301.0 390.3,301.2" fill="#f6f313"/><polygon points="360.9,319.1 366.0,313.7 362.1,316.0 357.0,321.4" fill="#fdbe3d"/><polygon points="412.2,304.2 417.3,306.0 413.4,304.2 408.3,302.3" fill="#f5eb18"/><polygon points="345.5,341.4 350.7,332.9 346.8,335.2 341.7,343.7" fill="#aebe67"/><polygon points="380.1,304.7 385.2,302.4 381.3,303.7 376.2,306.0" fill="#f5e41d"/><polygon points="403.2,301.5 408.3,302.3 404.4,301.5 399.3,300.7" fill="#f6f313"/><polygon points="355.8,325.5 360.9,319.1 357.0,321.4 351.9,327.8" fill="#e9b94e"/><polygon points="350.7,332.9 355.8,325.5 351.9,327.8 346.8,335.2" fill="#d1bb59"/><polygon points="437.9,326.5 443.1,330.4 439.2,324.5 434.1,320.6" fill="#e9b94e"/><polygon points="334.1,371.8 339.2,360.2 335.3,361.5 330.2,373.1" fill="#1db3af"/><polygon points="425.1,312.8 430.2,315.6 426.3,311.7 421.2,308.9" fill="#fad32a"/><polygon points="375.0,308.1 380.1,304.7 376.2,306.0 371.1,309.3" fill="#f5de21"/><polygon points="389.1,302.2 394.2,301.0 390.3,301.2 385.2,302.4" fill="#f6f313"/><polygon points="461.2,384.0 466.4,387.9 462.5,375.7 457.4,371.8" fill="#06a7c6"/><polygon points="441.8,333.5 446.9,337.4 443.1,330.4 437.9,326.5" fill="#d9ba56"/><polygon points="339.2,360.2 344.3,349.7 340.4,350.9 335.3,361.5" fill="#59bd8c"/><polygon points="416.1,307.0 421.2,308.9 417.3,306.0 412.2,304.2" fill="#f5e41d"/><polygon points="457.4,371.8 462.5,375.7 458.6,364.6 453.5,360.7" fill="#25b5a9"/><polygon points="445.7,341.6 450.8,345.5 446.9,337.4 441.8,333.5" fill="#b7bd64"/><polygon points="398.1,301.8 403.2,301.5 399.3,300.7 394.2,301.0" fill="#f9fb0e"/><polygon points="369.9,312.4 375.0,308.1 371.1,309.3 366.0,313.7" fill="#f7d826"/><polygon points="453.5,360.7 458.6,364.6 454.7,354.5 449.6,350.6" fill="#59bd8c"/><polygon points="449.6,350.6 454.7,354.5 450.8,345.5 445.7,341.6" fill="#92bf73"/><polygon points="407.1,303.4 412.2,304.2 408.3,302.3 403.2,301.5" fill="#f6f313"/><polygon points="428.9,317.7 434.1,320.6 430.2,315.6 425.1,312.8" fill="#fcce2e"/><polygon points="344.3,349.7 349.4,340.2 345.5,341.4 340.4,350.9" fill="#92bf73"/><polygon points="364.8,317.8 369.9,312.4 366.0,313.7 360.9,319.1" fill="#fcce2e"/><polygon points="384.0,304.5 389.1,302.2 385.2,302.4 380.1,304.7" fill="#f6f313"/><polygon points="349.4,340.2 354.5,331.7 350.7,332.9 345.5,341.4" fill="#c0bc60"/><polygon points="359.6,324.2 364.8,317.8 360.9,319.1 355.8,325.5" fill="#fdbe3d"/><polygon points="354.5,331.7 359.6,324.2 355.8,325.5 350.7,332.9" fill="#e1b952"/><polygon points="432.8,323.7 437.9,326.5 434.1,320.6 428.9,317.7" fill="#fdbe3d"/><polygon points="420.0,310.9 425.1,312.8 421.2,308.9 416.1,307.0" fill="#f5de21"/><polygon points="338.0,371.6 343.1,360.0 339.2,360.2 334.1,371.8" fill="#25b5a9"/><polygon points="393.0,303.0 398.1,301.8 394.2,301.0 389.1,302.2" fill="#f9fb0e"/><polygon points="378.9,307.8 384.0,304.5 380.1,304.7 375.0,308.1" fill="#f5eb18"/><polygon points="411.0,306.2 416.1,307.0 412.2,304.2 407.1,303.4" fill="#f6f313"/><polygon points="456.1,381.1 461.2,384.0 457.4,371.8 452.3,369.0" fill="#0aacbe"/><polygon points="436.7,330.7 441.8,333.5 437.9,326.5 432.8,323.7" fill="#e9b94e"/><polygon points="402.0,303.6 407.1,303.4 403.2,301.5 398.1,301.8" fill="#f9fb0e"/><polygon points="343.1,360.0 348.2,349.4 344.3,349.7 339.2,360.2" fill="#65be86"/><polygon points="452.3,369.0 457.4,371.8 453.5,360.7 448.4,357.8" fill="#38b99e"/><polygon points="440.6,338.7 445.7,341.6 441.8,333.5 436.7,330.7" fill="#d1bb59"/><polygon points="373.8,312.2 378.9,307.8 375.0,308.1 369.9,312.4" fill="#f5de21"/><polygon points="423.8,315.9 428.9,317.7 425.1,312.8 420.0,310.9" fill="#f7d826"/><polygon points="448.4,357.8 453.5,360.7 449.6,350.6 444.5,347.7" fill="#7cbf7b"/><polygon points="444.5,347.7 449.6,350.6 445.7,341.6 440.6,338.7" fill="#aebe67"/><polygon points="387.9,305.3 393.0,303.0 389.1,302.2 384.0,304.5" fill="#f9fb0e"/><polygon points="348.2,349.4 353.3,339.9 349.4,340.2 344.3,349.7" fill="#a5be6b"/><polygon points="368.6,317.6 373.8,312.2 369.9,312.4 364.8,317.8" fill="#fad32a"/><polygon points="353.3,339.9 358.4,331.4 354.5,331.7 349.4,340.2" fill="#d1bb59"/><polygon points="414.8,310.1 420.0,310.9 416.1,307.0 411.0,306.2" fill="#f5eb18"/><polygon points="363.5,324.0 368.6,317.6 364.8,317.8 359.6,324.2" fill="#ffc337"/><polygon points="358.4,331.4 363.5,324.0 359.6,324.2 354.5,331.7" fill="#f1b94a"/><polygon points="427.7,321.8 432.8,323.7 428.9,317.7 423.8,315.9" fill="#fcce2e"/><polygon points="396.9,304.9 402.0,303.6 398.1,301.8 393.0,303.0" fill="#f9fb0e"/><polygon points="341.9,372.4 347.0,360.8 343.1,360.0 338.0,371.6" fill="#2eb7a4"/><polygon points="405.8,306.5 411.0,306.2 407.1,303.4 402.0,303.6" fill="#f9fb0e"/><polygon points="382.7,308.6 387.9,305.3 384.0,304.5 378.9,307.8" fill="#f6f313"/><polygon points="451.0,379.3 456.1,381.1 452.3,369.0 447.1,367.1" fill="#1db3af"/><polygon points="431.6,328.8 436.7,330.7 432.8,323.7 427.7,321.8" fill="#fdbe3d"/><polygon points="347.0,360.8 352.1,350.2 348.2,349.4 343.1,360.0" fill="#71bf80"/><polygon points="418.7,315.1 423.8,315.9 420.0,310.9 414.8,310.1" fill="#f5de21"/><polygon points="447.1,367.1 452.3,369.0 448.4,357.8 443.3,356.0" fill="#59bd8c"/><polygon points="377.6,313.0 382.7,308.6 378.9,307.8 373.8,312.2" fill="#f5e41d"/><polygon points="435.5,336.8 440.6,338.7 436.7,330.7 431.6,328.8" fill="#e1b952"/><polygon points="391.7,307.1 396.9,304.9 393.0,303.0 387.9,305.3" fill="#f9fb0e"/><polygon points="443.3,356.0 448.4,357.8 444.5,347.7 439.4,345.9" fill="#92bf73"/><polygon points="439.4,345.9 444.5,347.7 440.6,338.7 435.5,336.8" fill="#c0bc60"/><polygon points="352.1,350.2 357.2,340.7 353.3,339.9 348.2,349.4" fill="#aebe67"/><polygon points="409.7,310.4 414.8,310.1 411.0,306.2 405.8,306.5" fill="#f6f313"/><polygon points="400.7,307.7 405.8,306.5 402.0,303.6 396.9,304.9" fill="#f9fb0e"/><polygon points="372.5,318.4 377.6,313.0 373.8,312.2 368.6,317.6" fill="#f7d826"/><polygon points="345.8,374.2 350.9,362.6 347.0,360.8 341.9,372.4" fill="#38b99e"/><polygon points="357.2,340.7 362.3,332.2 358.4,331.4 353.3,339.9" fill="#d9ba56"/><polygon points="422.6,321.0 427.7,321.8 423.8,315.9 418.7,315.1" fill="#fad32a"/><polygon points="367.4,324.8 372.5,318.4 368.6,317.6 363.5,324.0" fill="#fec832"/><polygon points="362.3,332.2 367.4,324.8 363.5,324.0 358.4,331.4" fill="#f8bb44"/><polygon points="386.6,310.5 391.7,307.1 387.9,305.3 382.7,308.6" fill="#f6f313"/><polygon points="445.9,378.5 451.0,379.3 447.1,367.1 442.0,366.3" fill="#25b5a9"/><polygon points="426.5,328.0 431.6,328.8 427.7,321.8 422.6,321.0" fill="#ffc337"/><polygon points="413.6,315.3 418.7,315.1 414.8,310.1 409.7,310.4" fill="#f5e41d"/><polygon points="350.9,362.6 356.0,352.1 352.1,350.2 347.0,360.8" fill="#7cbf7b"/><polygon points="395.6,310.0 400.7,307.7 396.9,304.9 391.7,307.1" fill="#f9fb0e"/><polygon points="381.5,314.8 386.6,310.5 382.7,308.6 377.6,313.0" fill="#f5eb18"/><polygon points="404.6,311.6 409.7,310.4 405.8,306.5 400.7,307.7" fill="#f6f313"/><polygon points="442.0,366.3 447.1,367.1 443.3,356.0 438.2,355.2" fill="#65be86"/><polygon points="430.4,336.0 435.5,336.8 431.6,328.8 426.5,328.0" fill="#f1b94a"/><polygon points="438.2,355.2 443.3,356.0 439.4,345.9 434.3,345.1" fill="#a5be6b"/><polygon points="434.3,345.1 439.4,345.9 435.5,336.8 430.4,336.0" fill="#d1bb59"/><polygon points="356.0,352.1 361.1,342.6 357.2,340.7 352.1,350.2" fill="#aebe67"/><polygon points="349.6,377.1 354.7,365.5 350.9,362.6 345.8,374.2" fill="#2eb7a4"/><polygon points="376.4,320.2 381.5,314.8 377.6,313.0 372.5,318.4" fill="#f7d826"/><polygon points="417.5,321.2 422.6,321.0 418.7,315.1 413.6,315.3" fill="#f7d826"/><polygon points="361.1,342.6 366.2,334.1 362.3,332.2 357.2,340.7" fill="#d9ba56"/><polygon points="371.3,326.6 376.4,320.2 372.5,318.4 367.4,324.8" fill="#fcce2e"/><polygon points="390.5,313.3 395.6,310.0 391.7,307.1 386.6,310.5" fill="#f6f313"/><polygon points="366.2,334.1 371.3,326.6 367.4,324.8 362.3,332.2" fill="#f8bb44"/><polygon points="408.5,316.5 413.6,315.3 409.7,310.4 404.6,311.6" fill="#f5eb18"/><polygon points="399.5,313.9 404.6,311.6 400.7,307.7 395.6,310.0" fill="#f6f313"/><polygon points="440.8,378.7 445.9,378.5 442.0,366.3 436.9,366.5" fill="#2eb7a4"/><polygon points="421.4,328.2 426.5,328.0 422.6,321.0 417.5,321.2" fill="#fec832"/><polygon points="354.7,365.5 359.9,354.9 356.0,352.1 350.9,362.6" fill="#71bf80"/><polygon points="385.4,317.7 390.5,313.3 386.6,310.5 381.5,314.8" fill="#f5e41d"/><polygon points="436.9,366.5 442.0,366.3 438.2,355.2 433.0,355.4" fill="#71bf80"/><polygon points="425.3,336.3 430.4,336.0 426.5,328.0 421.4,328.2" fill="#f8bb44"/><polygon points="353.5,381.0 358.6,369.4 354.7,365.5 349.6,377.1" fill="#25b5a9"/><polygon points="359.9,354.9 365.0,345.4 361.1,342.6 356.0,352.1" fill="#aebe67"/><polygon points="433.0,355.4 438.2,355.2 434.3,345.1 429.2,345.3" fill="#aebe67"/><polygon points="429.2,345.3 434.3,345.1 430.4,336.0 425.3,336.3" fill="#d9ba56"/><polygon points="412.4,322.5 417.5,321.2 413.6,315.3 408.5,316.5" fill="#f7d826"/><polygon points="380.3,323.1 385.4,317.7 381.5,314.8 376.4,320.2" fill="#f7d826"/><polygon points="394.4,317.2 399.5,313.9 395.6,310.0 390.5,313.3" fill="#f5eb18"/><polygon points="365.0,345.4 370.1,336.9 366.2,334.1 361.1,342.6" fill="#d9ba56"/><polygon points="403.4,318.8 408.5,316.5 404.6,311.6 399.5,313.9" fill="#f5e41d"/><polygon points="375.2,329.5 380.3,323.1 376.4,320.2 371.3,326.6" fill="#fec832"/><polygon points="370.1,336.9 375.2,329.5 371.3,326.6 366.2,334.1" fill="#f8bb44"/><polygon points="358.6,369.4 363.7,358.8 359.9,354.9 354.7,365.5" fill="#65be86"/><polygon points="435.7,379.9 440.8,378.7 436.9,366.5 431.8,367.8" fill="#38b99e"/><polygon points="416.3,329.5 421.4,328.2 417.5,321.2 412.4,322.5" fill="#fcce2e"/><polygon points="389.3,321.6 394.4,317.2 390.5,313.3 385.4,317.7" fill="#f5de21"/><polygon points="357.4,385.9 362.5,374.3 358.6,369.4 353.5,381.0" fill="#1db3af"/><polygon points="431.8,367.8 436.9,366.5 433.0,355.4 427.9,356.7" fill="#7cbf7b"/><polygon points="420.2,337.5 425.3,336.3 421.4,328.2 416.3,329.5" fill="#f8bb44"/><polygon points="407.3,324.8 412.4,322.5 408.5,316.5 403.4,318.8" fill="#f7d826"/><polygon points="363.7,358.8 368.9,349.3 365.0,345.4 359.9,354.9" fill="#a5be6b"/><polygon points="398.3,322.2 403.4,318.8 399.5,313.9 394.4,317.2" fill="#f5de21"/><polygon points="427.9,356.7 433.0,355.4 429.2,345.3 424.0,346.6" fill="#aebe67"/><polygon points="424.0,346.6 429.2,345.3 425.3,336.3 420.2,337.5" fill="#d9ba56"/><polygon points="384.2,327.0 389.3,321.6 385.4,317.7 380.3,323.1" fill="#fad32a"/><polygon points="368.9,349.3 374.0,340.8 370.1,336.9 365.0,345.4" fill="#d1bb59"/><polygon points="379.1,333.4 384.2,327.0 380.3,323.1 375.2,329.5" fill="#ffc337"/><polygon points="362.5,374.3 367.6,363.8 363.7,358.8 358.6,369.4" fill="#59bd8c"/><polygon points="374.0,340.8 379.1,333.4 375.2,329.5 370.1,336.9" fill="#f1b94a"/><polygon points="361.3,391.9 366.4,380.3 362.5,374.3 357.4,385.9" fill="#0aacbe"/><polygon points="430.6,382.2 435.7,379.9 431.8,367.8 426.7,370.1" fill="#2eb7a4"/><polygon points="411.2,331.8 416.3,329.5 412.4,322.5 407.3,324.8" fill="#fec832"/><polygon points="393.2,326.5 398.3,322.2 394.4,317.2 389.3,321.6" fill="#f7d826"/><polygon points="402.2,328.1 407.3,324.8 403.4,318.8 398.3,322.2" fill="#fad32a"/><polygon points="426.7,370.1 431.8,367.8 427.9,356.7 422.8,359.0" fill="#71bf80"/><polygon points="415.1,339.8 420.2,337.5 416.3,329.5 411.2,331.8" fill="#f8bb44"/><polygon points="367.6,363.8 372.7,354.3 368.9,349.3 363.7,358.8" fill="#92bf73"/><polygon points="384.6,449.3 389.7,437.7 385.8,425.6 380.7,437.1" fill="#352a87"/><polygon points="365.2,398.9 370.3,387.3 366.4,380.3 361.3,391.9" fill="#06a7c6"/><polygon points="422.8,359.0 427.9,356.7 424.0,346.6 418.9,348.9" fill="#aebe67"/><polygon points="418.9,348.9 424.0,346.6 420.2,337.5 415.1,339.8" fill="#d9ba56"/><polygon points="388.1,331.9 393.2,326.5 389.3,321.6 384.2,327.0" fill="#fcce2e"/><polygon points="366.4,380.3 371.5,369.7 367.6,363.8 362.5,374.3" fill="#38b99e"/><polygon points="372.7,354.3 377.8,345.8 374.0,340.8 368.9,349.3" fill="#c0bc60"/><polygon points="425.5,385.6 430.6,382.2 426.7,370.1 421.6,373.4" fill="#25b5a9"/><polygon points="383.0,338.3 388.1,331.9 384.2,327.0 379.1,333.4" fill="#fdbe3d"/><polygon points="406.1,335.1 411.2,331.8 407.3,324.8 402.2,328.1" fill="#ffc337"/><polygon points="377.8,345.8 383.0,338.3 379.1,333.4 374.0,340.8" fill="#e1b952"/><polygon points="380.7,437.1 385.8,425.6 381.9,414.4 376.8,426.0" fill="#2053d4"/><polygon points="397.1,332.5 402.2,328.1 398.3,322.2 393.2,326.5" fill="#fcce2e"/><polygon points="369.1,406.9 374.2,395.3 370.3,387.3 365.2,398.9" fill="#0998d1"/><polygon points="376.8,426.0 381.9,414.4 378.1,404.4 372.9,415.9" fill="#0871de"/><polygon points="372.9,415.9 378.1,404.4 374.2,395.3 369.1,406.9" fill="#1485d4"/><polygon points="371.5,369.7 376.6,360.2 372.7,354.3 367.6,363.8" fill="#7cbf7b"/><polygon points="421.6,373.4 426.7,370.1 422.8,359.0 417.7,362.3" fill="#65be86"/><polygon points="409.9,343.1 415.1,339.8 411.2,331.8 406.1,335.1" fill="#f1b94a"/><polygon points="389.7,437.7 394.8,427.2 390.9,415.0 385.8,425.6" fill="#2053d4"/><polygon points="370.3,387.3 375.4,376.7 371.5,369.7 366.4,380.3" fill="#25b5a9"/><polygon points="392.0,337.9 397.1,332.5 393.2,326.5 388.1,331.9" fill="#fdbe3d"/><polygon points="417.7,362.3 422.8,359.0 418.9,348.9 413.8,352.2" fill="#a5be6b"/><polygon points="413.8,352.2 418.9,348.9 415.1,339.8 409.9,343.1" fill="#d1bb59"/><polygon points="420.4,389.9 425.5,385.6 421.6,373.4 416.5,377.8" fill="#1db3af"/><polygon points="400.9,339.5 406.1,335.1 402.2,328.1 397.1,332.5" fill="#fdbe3d"/><polygon points="376.6,360.2 381.7,351.7 377.8,345.8 372.7,354.3" fill="#aebe67"/><polygon points="386.8,344.3 392.0,337.9 388.1,331.9 383.0,338.3" fill="#e9b94e"/><polygon points="385.8,425.6 390.9,415.0 387.1,403.9 381.9,414.4" fill="#0d75dc"/><polygon points="374.2,395.3 379.3,384.8 375.4,376.7 370.3,387.3" fill="#0aacbe"/><polygon points="381.7,351.7 386.8,344.3 383.0,338.3 377.8,345.8" fill="#d1bb59"/><polygon points="394.8,427.2 399.9,417.7 396.0,405.5 390.9,415.0" fill="#0871de"/><polygon points="375.4,376.7 380.5,367.2 376.6,360.2 371.5,369.7" fill="#59bd8c"/><polygon points="381.9,414.4 387.1,403.9 383.2,393.8 378.1,404.4" fill="#1389d3"/><polygon points="378.1,404.4 383.2,393.8 379.3,384.8 374.2,395.3" fill="#06a0cd"/><polygon points="416.5,377.8 421.6,373.4 417.7,362.3 412.6,366.6" fill="#59bd8c"/><polygon points="404.8,347.5 409.9,343.1 406.1,335.1 400.9,339.5" fill="#e1b952"/><polygon points="415.3,395.3 420.4,389.9 416.5,377.8 411.4,383.2" fill="#0aacbe"/><polygon points="395.8,344.9 400.9,339.5 397.1,332.5 392.0,337.9" fill="#e9b94e"/><polygon points="412.6,366.6 417.7,362.3 413.8,352.2 408.7,356.6" fill="#92bf73"/><polygon points="408.7,356.6 413.8,352.2 409.9,343.1 404.8,347.5" fill="#c0bc60"/><polygon points="399.9,417.7 405.0,409.2 401.2,397.0 396.0,405.5" fill="#1485d4"/><polygon points="380.5,367.2 385.6,358.7 381.7,351.7 376.6,360.2" fill="#92bf73"/><polygon points="390.9,415.0 396.0,405.5 392.2,394.4 387.1,403.9" fill="#1389d3"/><polygon points="410.2,401.7 415.3,395.3 411.4,383.2 406.3,389.6" fill="#06a7c6"/><polygon points="379.3,384.8 384.4,375.2 380.5,367.2 375.4,376.7" fill="#38b99e"/><polygon points="390.7,351.3 395.8,344.9 392.0,337.9 386.8,344.3" fill="#d9ba56"/><polygon points="405.0,409.2 410.2,401.7 406.3,389.6 401.2,397.0" fill="#0998d1"/><polygon points="385.6,358.7 390.7,351.3 386.8,344.3 381.7,351.7" fill="#b7bd64"/><polygon points="411.4,383.2 416.5,377.8 412.6,366.6 407.5,372.0" fill="#38b99e"/><polygon points="399.7,352.9 404.8,347.5 400.9,339.5 395.8,344.9" fill="#d1bb59"/><polygon points="387.1,403.9 392.2,394.4 388.3,384.3 383.2,393.8" fill="#06a4ca"/><polygon points="383.2,393.8 388.3,384.3 384.4,375.2 379.3,384.8" fill="#0faeb9"/><polygon points="396.0,405.5 401.2,397.0 397.3,385.9 392.2,394.4" fill="#06a0cd"/><polygon points="384.4,375.2 389.5,366.8 385.6,358.7 380.5,367.2" fill="#65be86"/><polygon points="407.5,372.0 412.6,366.6 408.7,356.6 403.6,361.9" fill="#7cbf7b"/><polygon points="403.6,361.9 408.7,356.6 404.8,347.5 399.7,352.9" fill="#aebe67"/><polygon points="406.3,389.6 411.4,383.2 407.5,372.0 402.4,378.4" fill="#25b5a9"/><polygon points="394.6,359.3 399.7,352.9 395.8,344.9 390.7,351.3" fill="#b7bd64"/><polygon points="401.2,397.0 406.3,389.6 402.4,378.4 397.3,385.9" fill="#0aacbe"/><polygon points="389.5,366.8 394.6,359.3 390.7,351.3 385.6,358.7" fill="#92bf73"/><polygon points="392.2,394.4 397.3,385.9 393.4,375.8 388.3,384.3" fill="#0faeb9"/><polygon points="388.3,384.3 393.4,375.8 389.5,366.8 384.4,375.2" fill="#38b99e"/><polygon points="402.4,378.4 407.5,372.0 403.6,361.9 398.5,368.4" fill="#59bd8c"/><polygon points="398.5,368.4 403.6,361.9 399.7,352.9 394.6,359.3" fill="#92bf73"/><polygon points="397.3,385.9 402.4,378.4 398.5,368.4 393.4,375.8" fill="#38b99e"/><polygon points="393.4,375.8 398.5,368.4 394.6,359.3 389.5,366.8" fill="#65be86"/></g>
<line x1="554.30" y1="425.20" x2="554.30" y2="312.00" stroke="#d4d4d4" stroke-width="0.65"/><line x1="673.10" y1="449.30" x2="554.30" y2="425.20" stroke="#d4d4d4" stroke-width="0.65"/><line x1="584.50" y1="401.20" x2="584.50" y2="288.00" stroke="#d4d4d4" stroke-width="0.65"/><line x1="703.30" y1="425.30" x2="584.50" y2="401.20" stroke="#d4d4d4" stroke-width="0.65"/><line x1="614.70" y1="377.20" x2="614.70" y2="264.00" stroke="#d4d4d4" stroke-width="0.65"/><line x1="733.50" y1="401.30" x2="614.70" y2="377.20" stroke="#d4d4d4" stroke-width="0.65"/><line x1="733.50" y1="401.30" x2="733.50" y2="288.10" stroke="#d4d4d4" stroke-width="0.65"/><line x1="673.10" y1="449.30" x2="733.50" y2="401.30" stroke="#d4d4d4" stroke-width="0.65"/><line x1="674.10" y1="389.25" x2="674.10" y2="276.05" stroke="#d4d4d4" stroke-width="0.65"/><line x1="613.70" y1="437.25" x2="674.10" y2="389.25" stroke="#d4d4d4" stroke-width="0.65"/><line x1="614.70" y1="377.20" x2="614.70" y2="264.00" stroke="#d4d4d4" stroke-width="0.65"/><line x1="554.30" y1="425.20" x2="614.70" y2="377.20" stroke="#d4d4d4" stroke-width="0.65"/><line x1="554.30" y1="425.20" x2="614.70" y2="377.20" stroke="#d4d4d4" stroke-width="0.65"/><line x1="614.70" y1="377.20" x2="733.50" y2="401.30" stroke="#d4d4d4" stroke-width="0.65"/><line x1="554.30" y1="396.90" x2="614.70" y2="348.90" stroke="#d4d4d4" stroke-width="0.65"/><line x1="614.70" y1="348.90" x2="733.50" y2="373.00" stroke="#d4d4d4" stroke-width="0.65"/><line x1="554.30" y1="368.60" x2="614.70" y2="320.60" stroke="#d4d4d4" stroke-width="0.65"/><line x1="614.70" y1="320.60" x2="733.50" y2="344.70" stroke="#d4d4d4" stroke-width="0.65"/><line x1="554.30" y1="340.30" x2="614.70" y2="292.30" stroke="#d4d4d4" stroke-width="0.65"/><line x1="614.70" y1="292.30" x2="733.50" y2="316.40" stroke="#d4d4d4" stroke-width="0.65"/><line x1="554.30" y1="312.00" x2="614.70" y2="264.00" stroke="#d4d4d4" stroke-width="0.65"/><line x1="614.70" y1="264.00" x2="733.50" y2="288.10" stroke="#d4d4d4" stroke-width="0.65"/>
<polyline points="703.8,395.3 702.9,395.3 701.9,395.3 701.0,395.3 700.1,395.2 699.2,395.2 698.3,395.2 697.4,395.2 696.5,395.2 695.6,395.1 694.7,395.1 693.8,395.1 692.9,395.0 692.0,395.0 691.1,395.0 690.3,394.9 689.4,394.9 688.5,394.8 687.7,394.8 686.8,394.7 686.0,394.6 685.1,394.6 684.3,394.5 683.5,394.4 682.6,394.3 681.8,394.2 681.0,394.2 680.2,394.1 679.4,394.0 678.5,393.9 677.8,393.8 677.0,393.6 676.2,393.5 675.4,393.4 674.6,393.3 673.8,393.2 673.1,393.0 672.3,392.9 671.5,392.8 670.8,392.6 670.1,392.5 669.3,392.3 668.6,392.2 667.9,392.0 667.1,391.8 666.4,391.7 665.7,391.5 665.0,391.3 664.3,391.1 663.6,390.9 662.9,390.7 662.2,390.5 661.5,390.3 660.9,390.1 660.2,389.9 659.5,389.7 658.9,389.5 658.2,389.3 657.6,389.1 656.9,388.8 656.3,388.6 655.6,388.4 655.0,388.1 654.4,387.9 653.8,387.6 653.1,387.4 652.5,387.1 651.9,386.9 651.3,386.6 650.7,386.3 650.1,386.1 649.5,385.8 648.9,385.5 648.4,385.3 647.8,385.0 647.2,384.7 646.6,384.4 646.1,384.1 645.5,383.8 645.0,383.5 644.4,383.2" fill="none" stroke="#0363e1" stroke-width="1.0"/><polyline points="643.4,443.3 642.8,443.0 642.3,442.7 641.7,442.4 641.2,442.1 640.6,441.8 640.0,441.5 639.4,441.2 638.9,441.0 638.3,440.7 637.7,440.4 637.1,440.2 636.5,439.9 635.9,439.6 635.3,439.4 634.7,439.1 634.0,438.9 633.4,438.6 632.8,438.4 632.2,438.1 631.5,437.9 630.9,437.7 630.2,437.4 629.6,437.2 628.9,437.0 628.3,436.8 627.6,436.6 626.9,436.4 626.3,436.2 625.6,436.0 624.9,435.8 624.2,435.6 623.5,435.4 622.8,435.2 622.1,435.0 621.4,434.8 620.7,434.7 619.9,434.5 619.2,434.3 618.5,434.2 617.7,434.0 617.0,433.9 616.3,433.7 615.5,433.6 614.7,433.5 614.0,433.3 613.2,433.2 612.4,433.1 611.6,433.0 610.8,432.9 610.0,432.7 609.3,432.6 608.4,432.5 607.6,432.4 606.8,432.3 606.0,432.3 605.2,432.2 604.3,432.1 603.5,432.0 602.7,431.9 601.8,431.9 601.0,431.8 600.1,431.7 599.3,431.7 598.4,431.6 597.5,431.6 596.7,431.5 595.8,431.5 594.9,431.5 594.0,431.4 593.1,431.4 592.2,431.4 591.3,431.3 590.4,431.3 589.5,431.3 588.6,431.3 587.7,431.3 586.8,431.2 585.9,431.2 584.9,431.2 584.0,431.2" fill="none" stroke="#0363e1" stroke-width="1.0"/><polyline points="715.5,397.8 714.5,397.9 713.5,397.9 712.5,398.0 711.5,398.0 710.5,398.1 709.5,398.1 708.5,398.2 707.5,398.2 706.6,398.3 705.6,398.3 704.6,398.3 703.6,398.4 702.7,398.4 701.7,398.4 700.7,398.5 699.8,398.5 698.8,398.5 697.8,398.5 696.9,398.5 695.9,398.6 695.0,398.6 694.1,398.6 693.1,398.6 692.2,398.6 691.3,398.6 690.3,398.6 689.4,398.5 688.5,398.5 687.6,398.5 686.7,398.5 685.8,398.5 684.9,398.4 684.0,398.4 683.1,398.4 682.3,398.3 681.4,398.3 680.5,398.2 679.7,398.2 678.8,398.1 678.0,398.0 677.1,398.0 676.3,397.9 675.5,397.8 674.6,397.7 673.8,397.6 673.0,397.5 672.2,397.4 671.4,397.3 670.6,397.2 669.8,397.1 669.1,397.0 668.3,396.8 667.5,396.7 666.8,396.6 666.0,396.4 665.3,396.3 664.5,396.1 663.8,396.0 663.1,395.8 662.3,395.6 661.6,395.5 660.9,395.3 660.2,395.1 659.5,394.9 658.8,394.7 658.2,394.5 657.5,394.3 656.8,394.1 656.2,393.9 655.5,393.7 654.9,393.4 654.2,393.2 653.6,393.0 652.9,392.7 652.3,392.5 651.7,392.2 651.1,392.0 650.5,391.7 649.9,391.5 649.3,391.2 648.7,390.9 648.1,390.7 647.5,390.4 646.9,390.1 646.4,389.8 645.8,389.5 645.2,389.2 644.7,388.9 644.1,388.6 643.6,388.3 643.0,388.0 642.5,387.7 641.9,387.4 641.4,387.1 640.9,386.8 640.4,386.4 639.8,386.1 639.3,385.8 638.8,385.5 638.3,385.1 637.8,384.8 637.3,384.4 636.8,384.1 636.3,383.8 635.8,383.4 635.3,383.1 634.8,382.7 634.3,382.4 633.8,382.0 633.3,381.7 632.8,381.3 632.4,380.9" fill="none" stroke="#1485d4" stroke-width="1.0"/><polyline points="655.4,445.6 655.0,445.2 654.5,444.8 654.0,444.5 653.5,444.1 653.0,443.8 652.5,443.4 652.0,443.1 651.5,442.7 651.0,442.4 650.5,442.1 650.0,441.7 649.5,441.4 649.0,441.0 648.5,440.7 648.0,440.4 647.4,440.1 646.9,439.7 646.4,439.4 645.9,439.1 645.3,438.8 644.8,438.5 644.2,438.2 643.7,437.9 643.1,437.6 642.6,437.3 642.0,437.0 641.4,436.7 640.9,436.4 640.3,436.1 639.7,435.8 639.1,435.6 638.5,435.3 637.9,435.0 637.3,434.8 636.7,434.5 636.1,434.3 635.5,434.0 634.9,433.8 634.2,433.5 633.6,433.3 632.9,433.1 632.3,432.8 631.6,432.6 631.0,432.4 630.3,432.2 629.6,432.0 629.0,431.8 628.3,431.6 627.6,431.4 626.9,431.2 626.2,431.0 625.5,430.9 624.7,430.7 624.0,430.5 623.3,430.4 622.5,430.2 621.8,430.1 621.0,429.9 620.3,429.8 619.5,429.7 618.7,429.5 618.0,429.4 617.2,429.3 616.4,429.2 615.6,429.1 614.8,429.0 614.0,428.9 613.2,428.8 612.3,428.7 611.5,428.6 610.7,428.5 609.8,428.5 609.0,428.4 608.1,428.3 607.3,428.3 606.4,428.2 605.5,428.2 604.7,428.1 603.8,428.1 602.9,428.1 602.0,428.0 601.1,428.0 600.2,428.0 599.3,428.0 598.4,428.0 597.5,427.9 596.5,427.9 595.6,427.9 594.7,427.9 593.7,427.9 592.8,427.9 591.9,427.9 590.9,428.0 590.0,428.0 589.0,428.0 588.0,428.0 587.1,428.0 586.1,428.1 585.1,428.1 584.2,428.1 583.2,428.2 582.2,428.2 581.2,428.2 580.3,428.3 579.3,428.3 578.3,428.4 577.3,428.4 576.3,428.5 575.3,428.5 574.3,428.6 573.3,428.6 572.3,428.7" fill="none" stroke="#1485d4" stroke-width="1.0"/><polyline points="725.2,399.7 724.2,399.8 723.1,399.9 722.0,400.0 721.0,400.1 719.9,400.2 718.8,400.4 717.8,400.5 716.7,400.6 715.7,400.7 714.6,400.8 713.6,400.8 712.5,400.9 711.5,401.0 710.4,401.1 709.4,401.2 708.3,401.3 707.3,401.4 706.2,401.5 705.2,401.6 704.2,401.7 703.1,401.7 702.1,401.8 701.1,401.9 700.0,402.0 699.0,402.0 698.0,402.1 697.0,402.2 696.0,402.2 695.0,402.3 693.9,402.4 692.9,402.4 691.9,402.5 690.9,402.5 690.0,402.6 689.0,402.6 688.0,402.7 687.0,402.7 686.0,402.7 685.1,402.8 684.1,402.8 683.1,402.8 682.2,402.8 681.2,402.9 680.3,402.9 679.3,402.9 678.4,402.9 677.5,402.9 676.5,402.9 675.6,402.8 674.7,402.8 673.8,402.8 672.9,402.8 672.0,402.7 671.2,402.7 670.3,402.6 669.4,402.6 668.6,402.5 667.7,402.5 666.9,402.4 666.1,402.3 665.2,402.2 664.4,402.1 663.6,402.0 662.8,401.9 662.0,401.8 661.3,401.7 660.5,401.5 659.7,401.4 659.0,401.2 658.3,401.1 657.5,400.9 656.8,400.8 656.1,400.6 655.4,400.4 654.7,400.2 654.0,400.0 653.4,399.8 652.7,399.6 652.0,399.4 651.4,399.1 650.8,398.9 650.1,398.7 649.5,398.4 648.9,398.2 648.3,397.9 647.7,397.7 647.1,397.4 646.5,397.1 645.9,396.8 645.4,396.5 644.8,396.2 644.2,395.9 643.7,395.6 643.1,395.3 642.6,395.0 642.1,394.7 641.5,394.4 641.0,394.1 640.5,393.7 640.0,393.4 639.5,393.1 639.0,392.7 638.5,392.4 638.0,392.0 637.5,391.7 637.0,391.3 636.5,391.0 636.0,390.6 635.6,390.3 635.1,389.9 634.6,389.5 634.1,389.2 633.7,388.8 633.2,388.4 632.8,388.0 632.3,387.7 631.8,387.3 631.4,386.9 630.9,386.5 630.5,386.1 630.1,385.7 629.6,385.3 629.2,385.0 628.7,384.6 628.3,384.2 627.9,383.8 627.4,383.4 627.0,383.0 626.6,382.6 626.1,382.2 625.7,381.8 625.3,381.4 624.9,381.0 624.4,380.6 624.0,380.2 623.6,379.7 623.2,379.3 622.8,378.9" fill="none" stroke="#06a7c6" stroke-width="1.0"/><polyline points="665.0,447.6 664.6,447.2 664.2,446.8 663.8,446.3 663.4,445.9 662.9,445.5 662.5,445.1 662.1,444.7 661.7,444.3 661.2,443.9 660.8,443.5 660.4,443.1 659.9,442.7 659.5,442.3 659.1,441.9 658.6,441.5 658.2,441.2 657.7,440.8 657.3,440.4 656.9,440.0 656.4,439.6 656.0,439.2 655.5,438.8 655.0,438.5 654.6,438.1 654.1,437.7 653.7,437.3 653.2,437.0 652.7,436.6 652.2,436.2 651.8,435.9 651.3,435.5 650.8,435.2 650.3,434.8 649.8,434.5 649.3,434.1 648.8,433.8 648.3,433.4 647.8,433.1 647.3,432.8 646.8,432.4 646.3,432.1 645.7,431.8 645.2,431.5 644.7,431.2 644.1,430.9 643.6,430.6 643.0,430.3 642.4,430.0 641.9,429.7 641.3,429.4 640.7,429.1 640.1,428.8 639.5,428.6 638.9,428.3 638.3,428.1 637.7,427.8 637.0,427.6 636.4,427.4 635.8,427.1 635.1,426.9 634.4,426.7 633.8,426.5 633.1,426.3 632.4,426.1 631.7,425.9 631.0,425.7 630.3,425.6 629.5,425.4 628.8,425.2 628.1,425.1 627.3,425.0 626.5,424.8 625.8,424.7 625.0,424.6 624.2,424.5 623.4,424.4 622.6,424.3 621.7,424.2 620.9,424.1 620.1,424.0 619.2,424.0 618.4,423.9 617.5,423.9 616.6,423.8 615.8,423.8 614.9,423.7 614.0,423.7 613.1,423.7 612.2,423.7 611.3,423.6 610.3,423.6 609.4,423.6 608.5,423.6 607.5,423.6 606.6,423.6 605.6,423.7 604.7,423.7 603.7,423.7 602.8,423.7 601.8,423.8 600.8,423.8 599.8,423.8 598.8,423.9 597.8,423.9 596.9,424.0 595.9,424.0 594.9,424.1 593.9,424.1 592.8,424.2 591.8,424.3 590.8,424.3 589.8,424.4 588.8,424.5 587.8,424.5 586.7,424.6 585.7,424.7 584.7,424.8 583.6,424.8 582.6,424.9 581.6,425.0 580.5,425.1 579.5,425.2 578.4,425.3 577.4,425.4 576.3,425.5 575.3,425.6 574.2,425.7 573.2,425.7 572.1,425.8 571.1,425.9 570.0,426.0 569.0,426.1 567.9,426.3 566.8,426.4 565.8,426.5 564.7,426.6 563.6,426.7 562.6,426.8" fill="none" stroke="#06a7c6" stroke-width="1.0"/><polyline points="673.1,449.3 614.7,377.2" fill="none" stroke="#38b99e" stroke-width="1.0"/><polyline points="554.3,425.2 733.5,401.3" fill="none" stroke="#38b99e" stroke-width="1.0"/><polyline points="558.6,421.9 559.7,421.8 560.7,421.6 561.7,421.4 562.7,421.3 563.7,421.1 564.7,420.9 565.7,420.7 566.7,420.6 567.7,420.4 568.7,420.2 569.7,420.0 570.7,419.9 571.7,419.7 572.6,419.5 573.6,419.3 574.6,419.1 575.6,419.0 576.5,418.8 577.5,418.6 578.4,418.4 579.4,418.2 580.3,418.1 581.3,417.9 582.2,417.7 583.1,417.5 584.1,417.3 585.0,417.1 585.9,416.9 586.8,416.7 587.7,416.5 588.6,416.3 589.5,416.1 590.4,415.9 591.2,415.7 592.1,415.5 592.9,415.3 593.8,415.1 594.6,414.9 595.5,414.7 596.3,414.5 597.1,414.3 597.9,414.1 598.7,413.9 599.4,413.6 600.2,413.4 601.0,413.2 601.7,413.0 602.4,412.7 603.1,412.5 603.8,412.3 604.5,412.0 605.2,411.8 605.9,411.6 606.5,411.3 607.1,411.1 607.8,410.8 608.4,410.6 608.9,410.3 609.5,410.0 610.1,409.8 610.6,409.5 611.1,409.2 611.6,409.0 612.1,408.7 612.5,408.4 613.0,408.1 613.4,407.8 613.8,407.5 614.2,407.2 614.6,406.9 614.9,406.6 615.2,406.3 615.6,406.0 615.9,405.7 616.1,405.4 616.4,405.0 616.6,404.7 616.9,404.4 617.1,404.0 617.2,403.7 617.4,403.4 617.6,403.0 617.7,402.7 617.8,402.3 618.0,402.0 618.0,401.6 618.1,401.2 618.2,400.9 618.2,400.5 618.3,400.1 618.3,399.8 618.3,399.4 618.3,399.0 618.3,398.6 618.3,398.3 618.3,397.9 618.2,397.5 618.2,397.1 618.1,396.7 618.0,396.3 617.9,395.9 617.9,395.5 617.8,395.1 617.6,394.7 617.5,394.3 617.4,393.9 617.3,393.5 617.1,393.1 617.0,392.7 616.8,392.3 616.7,391.9 616.5,391.5 616.4,391.1 616.2,390.7 616.0,390.3 615.8,389.9 615.6,389.4 615.4,389.0 615.2,388.6 615.0,388.2 614.8,387.8 614.6,387.3 614.4,386.9 614.2,386.5 613.9,386.1 613.7,385.7 613.5,385.2 613.2,384.8 613.0,384.4 612.8,384.0 612.5,383.5 612.3,383.1 612.0,382.7 611.8,382.3 611.5,381.8 611.3,381.4 611.0,381.0 610.7,380.5" fill="none" stroke="#92bf73" stroke-width="1.0"/><polyline points="677.1,446.0 676.8,445.5 676.5,445.1 676.3,444.7 676.0,444.2 675.8,443.8 675.5,443.4 675.3,443.0 675.0,442.5 674.8,442.1 674.6,441.7 674.3,441.3 674.1,440.8 673.9,440.4 673.6,440.0 673.4,439.6 673.2,439.2 673.0,438.7 672.8,438.3 672.6,437.9 672.4,437.5 672.2,437.1 672.0,436.6 671.8,436.2 671.6,435.8 671.4,435.4 671.3,435.0 671.1,434.6 671.0,434.2 670.8,433.8 670.7,433.4 670.5,433.0 670.4,432.6 670.3,432.2 670.2,431.8 670.0,431.4 669.9,431.0 669.9,430.6 669.8,430.2 669.7,429.8 669.6,429.4 669.6,429.0 669.5,428.6 669.5,428.2 669.5,427.9 669.5,427.5 669.5,427.1 669.5,426.7 669.5,426.4 669.6,426.0 669.6,425.6 669.7,425.3 669.8,424.9 669.8,424.5 670.0,424.2 670.1,423.8 670.2,423.5 670.4,423.1 670.6,422.8 670.7,422.5 670.9,422.1 671.2,421.8 671.4,421.5 671.7,421.1 671.9,420.8 672.2,420.5 672.6,420.2 672.9,419.9 673.2,419.6 673.6,419.3 674.0,419.0 674.4,418.7 674.8,418.4 675.3,418.1 675.7,417.8 676.2,417.5 676.7,417.3 677.2,417.0 677.7,416.7 678.3,416.5 678.9,416.2 679.4,415.9 680.0,415.7 680.7,415.4 681.3,415.2 681.9,414.9 682.6,414.7 683.3,414.5 684.0,414.2 684.7,414.0 685.4,413.8 686.1,413.5 686.8,413.3 687.6,413.1 688.4,412.9 689.1,412.6 689.9,412.4 690.7,412.2 691.5,412.0 692.4,411.8 693.2,411.6 694.0,411.4 694.9,411.2 695.7,411.0 696.6,410.8 697.4,410.6 698.3,410.4 699.2,410.2 700.1,410.0 701.0,409.8 701.9,409.6 702.8,409.4 703.7,409.2 704.7,409.0 705.6,408.8 706.5,408.6 707.5,408.4 708.4,408.3 709.4,408.1 710.3,407.9 711.3,407.7 712.2,407.5 713.2,407.4 714.2,407.2 715.2,407.0 716.1,406.8 717.1,406.6 718.1,406.5 719.1,406.3 720.1,406.1 721.1,405.9 722.1,405.8 723.1,405.6 724.1,405.4 725.1,405.2 726.1,405.1 727.1,404.9 728.1,404.7 729.2,404.6" fill="none" stroke="#92bf73" stroke-width="1.0"/><polyline points="563.7,418.1 564.6,417.9 565.4,417.7 566.3,417.5 567.2,417.3 568.1,417.1 569.0,416.9 569.8,416.7 570.7,416.5 571.5,416.3 572.4,416.1 573.2,415.9 574.1,415.7 574.9,415.4 575.7,415.2 576.5,415.0 577.4,414.8 578.2,414.6 579.0,414.4 579.7,414.2 580.5,414.0 581.3,413.7 582.1,413.5 582.8,413.3 583.6,413.1 584.3,412.8 585.0,412.6 585.8,412.4 586.5,412.1 587.2,411.9 587.9,411.7 588.5,411.4 589.2,411.2 589.9,411.0 590.5,410.7 591.2,410.5 591.8,410.2 592.4,410.0 593.0,409.7 593.6,409.5 594.2,409.2 594.8,408.9 595.3,408.7 595.9,408.4 596.4,408.1 597.0,407.9 597.5,407.6 598.0,407.3 598.5,407.0 598.9,406.8 599.4,406.5 599.8,406.2 600.3,405.9 600.7,405.6 601.1,405.3 601.5,405.0 601.9,404.7 602.3,404.4 602.6,404.1 603.0,403.8 603.3,403.5 603.6,403.2 603.9,402.9 604.2,402.6 604.5,402.2 604.8,401.9 605.0,401.6 605.3,401.3 605.5,400.9 605.7,400.6 605.9,400.3 606.1,399.9 606.3,399.6 606.5,399.3 606.6,398.9 606.8,398.6 606.9,398.2 607.0,397.9 607.1,397.5 607.2,397.2 607.3,396.8 607.4,396.4 607.5,396.1 607.6,395.7 607.6,395.3 607.6,395.0 607.7,394.6 607.7,394.2 607.7,393.9 607.7,393.5 607.7,393.1 607.7,392.7 607.7,392.4 607.7,392.0 607.6,391.6 607.6,391.2 607.6,390.8 607.5,390.4 607.4,390.0 607.4,389.6 607.3,389.3 607.2,388.9 607.1,388.5 607.0,388.1 606.9,387.7 606.8,387.3 606.7,386.9 606.6,386.5 606.5,386.1 606.4,385.7 606.2,385.3 606.1,384.9 605.9,384.5" fill="none" stroke="#d9ba56" stroke-width="1.0"/><polyline points="681.9,442.0 681.7,441.6 681.6,441.2 681.4,440.8 681.3,440.4 681.2,440.0 681.1,439.6 681.0,439.2 680.9,438.8 680.8,438.4 680.7,438.0 680.6,437.6 680.5,437.2 680.4,436.9 680.4,436.5 680.3,436.1 680.2,435.7 680.2,435.3 680.2,434.9 680.1,434.5 680.1,434.1 680.1,433.8 680.1,433.4 680.1,433.0 680.1,432.6 680.1,432.3 680.1,431.9 680.2,431.5 680.2,431.2 680.2,430.8 680.3,430.4 680.4,430.1 680.5,429.7 680.6,429.3 680.7,429.0 680.8,428.6 680.9,428.3 681.0,427.9 681.2,427.6 681.3,427.2 681.5,426.9 681.7,426.6 681.9,426.2 682.1,425.9 682.3,425.6 682.5,425.2 682.8,424.9 683.0,424.6 683.3,424.3 683.6,423.9 683.9,423.6 684.2,423.3 684.5,423.0 684.8,422.7 685.2,422.4 685.5,422.1 685.9,421.8 686.3,421.5 686.7,421.2 687.1,420.9 687.5,420.6 688.0,420.3 688.4,420.0 688.9,419.7 689.3,419.5 689.8,419.2 690.3,418.9 690.8,418.6 691.4,418.4 691.9,418.1 692.5,417.8 693.0,417.6 693.6,417.3 694.2,417.0 694.8,416.8 695.4,416.5 696.0,416.3 696.6,416.0 697.3,415.8 697.9,415.5 698.6,415.3 699.3,415.1 699.9,414.8 700.6,414.6 701.3,414.4 702.0,414.1 702.8,413.9 703.5,413.7 704.2,413.4 705.0,413.2 705.7,413.0 706.5,412.8 707.3,412.5 708.1,412.3 708.8,412.1 709.6,411.9 710.4,411.7 711.3,411.5 712.1,411.3 712.9,411.1 713.7,410.8 714.6,410.6 715.4,410.4 716.3,410.2 717.1,410.0 718.0,409.8 718.8,409.6 719.7,409.4 720.6,409.2 721.5,409.0 722.4,408.8 723.2,408.6 724.1,408.4" fill="none" stroke="#d9ba56" stroke-width="1.0"/><polyline points="569.4,413.2 570.1,413.0 570.9,412.7 571.6,412.5 572.3,412.3 573.1,412.1 573.8,411.8 574.5,411.6 575.2,411.4 575.8,411.1 576.5,410.9 577.2,410.6 577.8,410.4 578.5,410.1 579.1,409.9 579.8,409.7 580.4,409.4 581.0,409.2 581.6,408.9 582.2,408.6 582.8,408.4 583.4,408.1 584.0,407.9 584.5,407.6 585.1,407.3 585.6,407.1 586.1,406.8 586.7,406.5 587.2,406.3 587.7,406.0 588.1,405.7 588.6,405.4 589.1,405.1 589.6,404.9 590.0,404.6 590.4,404.3 590.9,404.0 591.3,403.7 591.7,403.4 592.1,403.1 592.5,402.8 592.8,402.5 593.2,402.2 593.5,401.9 593.9,401.6 594.2,401.3 594.5,401.0 594.8,400.7 595.1,400.3 595.4,400.0 595.7,399.7 596.0,399.4 596.2,399.1 596.5,398.7 596.7,398.4 596.9,398.1 597.1,397.7 597.3,397.4 597.5,397.1 597.7,396.7 597.9,396.4 598.1,396.0 598.2,395.7 598.4,395.4 598.5,395.0 598.6,394.7 598.8,394.3 598.9,393.9 599.0,393.6 599.1,393.2 599.2,392.9 599.2,392.5 599.3,392.2 599.4,391.8 599.4,391.4 599.5,391.1 599.5,390.7 599.5,390.3 599.6,389.9 599.6,389.6 599.6,389.2" fill="none" stroke="#fcce2e" stroke-width="1.0"/><polyline points="688.2,437.3 688.2,436.9 688.2,436.6 688.3,436.2 688.3,435.8 688.3,435.4 688.4,435.1 688.4,434.7 688.5,434.3 688.6,434.0 688.6,433.6 688.7,433.3 688.8,432.9 688.9,432.6 689.0,432.2 689.2,431.8 689.3,431.5 689.4,431.1 689.6,430.8 689.7,430.5 689.9,430.1 690.1,429.8 690.3,429.4 690.5,429.1 690.7,428.8 690.9,428.4 691.1,428.1 691.3,427.8 691.6,427.4 691.8,427.1 692.1,426.8 692.4,426.5 692.7,426.2 693.0,425.8 693.3,425.5 693.6,425.2 693.9,424.9 694.3,424.6 694.6,424.3 695.0,424.0 695.3,423.7 695.7,423.4 696.1,423.1 696.5,422.8 696.9,422.5 697.4,422.2 697.8,421.9 698.2,421.6 698.7,421.4 699.2,421.1 699.7,420.8 700.1,420.5 700.6,420.2 701.1,420.0 701.7,419.7 702.2,419.4 702.7,419.2 703.3,418.9 703.8,418.6 704.4,418.4 705.0,418.1 705.6,417.9 706.2,417.6 706.8,417.3 707.4,417.1 708.0,416.8 708.7,416.6 709.3,416.4 710.0,416.1 710.6,415.9 711.3,415.6 712.0,415.4 712.6,415.1 713.3,414.9 714.0,414.7 714.7,414.4 715.5,414.2 716.2,414.0 716.9,413.8 717.7,413.5 718.4,413.3" fill="none" stroke="#fcce2e" stroke-width="1.0"/>
<line x1="554.30" y1="425.20" x2="554.30" y2="312.00" stroke="#262626" stroke-width="1.0"/><line x1="673.10" y1="449.30" x2="733.50" y2="401.30" stroke="#262626" stroke-width="1.0"/><line x1="673.10" y1="449.30" x2="554.30" y2="425.20" stroke="#262626" stroke-width="1.0"/><line x1="554.30" y1="425.20" x2="551.36" y2="424.60" stroke="#262626" stroke-width="1.0"/><line x1="554.30" y1="396.90" x2="551.36" y2="396.30" stroke="#262626" stroke-width="1.0"/><line x1="554.30" y1="368.60" x2="551.36" y2="368.00" stroke="#262626" stroke-width="1.0"/><line x1="554.30" y1="340.30" x2="551.36" y2="339.70" stroke="#262626" stroke-width="1.0"/><line x1="554.30" y1="312.00" x2="551.36" y2="311.40" stroke="#262626" stroke-width="1.0"/><line x1="673.10" y1="449.30" x2="676.04" y2="449.90" stroke="#262626" stroke-width="1.0"/><line x1="703.30" y1="425.30" x2="706.24" y2="425.90" stroke="#262626" stroke-width="1.0"/><line x1="733.50" y1="401.30" x2="736.44" y2="401.90" stroke="#262626" stroke-width="1.0"/><line x1="673.10" y1="449.30" x2="670.75" y2="451.17" stroke="#262626" stroke-width="1.0"/><line x1="613.70" y1="437.25" x2="611.35" y2="439.12" stroke="#262626" stroke-width="1.0"/><line x1="554.30" y1="425.20" x2="551.95" y2="427.07" stroke="#262626" stroke-width="1.0"/>
<g stroke="#000" stroke-width="1.0" stroke-linejoin="round"><polygon points="647.3,367.0 650.3,375.4 644.4,369.1 641.4,360.7" fill="#0871de"/><polygon points="641.4,360.7 644.4,369.1 638.5,361.6 635.4,353.3" fill="#127dd8"/><polygon points="653.3,372.2 656.3,380.5 650.3,375.4 647.3,367.0" fill="#0363e1"/><polygon points="635.4,353.3 638.5,361.6 632.5,353.1 629.5,344.7" fill="#1389d3"/><polygon points="659.2,376.2 662.2,384.6 656.3,380.5 653.3,372.2" fill="#0f5cdd"/><polygon points="629.5,344.7 632.5,353.1 626.6,343.4 623.6,335.0" fill="#079ccf"/><polygon points="665.1,379.1 668.2,387.5 662.2,384.6 659.2,376.2" fill="#2053d4"/><polygon points="623.6,335.0 626.6,343.4 620.6,332.6 617.6,324.2" fill="#0aacbe"/><polygon points="671.1,380.9 674.1,389.2 668.2,387.5 665.1,379.1" fill="#2053d4"/><polygon points="617.6,324.2 620.6,332.6 614.7,320.6 611.7,312.2" fill="#38b99e"/><polygon points="677.0,381.5 680.0,389.9 674.1,389.2 671.1,380.9" fill="#2053d4"/><polygon points="644.3,359.8 647.3,367.0 641.4,360.7 638.4,353.5" fill="#1485d4"/><polygon points="638.4,353.5 641.4,360.7 635.4,353.3 632.4,346.1" fill="#0c93d2"/><polygon points="650.2,365.0 653.3,372.2 647.3,367.0 644.3,359.8" fill="#127dd8"/><polygon points="683.0,381.0 686.0,389.4 680.0,389.9 677.0,381.5" fill="#0f5cdd"/><polygon points="632.4,346.1 635.4,353.3 629.5,344.7 626.5,337.5" fill="#06a4ca"/><polygon points="656.2,369.0 659.2,376.2 653.3,372.2 650.2,365.0" fill="#0d75dc"/><polygon points="626.5,337.5 629.5,344.7 623.6,335.0 620.5,327.8" fill="#0faeb9"/><polygon points="662.1,371.9 665.1,379.1 659.2,376.2 656.2,369.0" fill="#0871de"/><polygon points="620.5,327.8 623.6,335.0 617.6,324.2 614.6,317.0" fill="#38b99e"/><polygon points="688.9,379.4 691.9,387.8 686.0,389.4 683.0,381.0" fill="#0363e1"/><polygon points="668.1,373.7 671.1,380.9 665.1,379.1 662.1,371.9" fill="#0871de"/><polygon points="614.6,317.0 617.6,324.2 611.7,312.2 608.7,305.0" fill="#71bf80"/><polygon points="674.0,374.3 677.0,381.5 671.1,380.9 668.1,373.7" fill="#0871de"/><polygon points="694.8,376.7 697.9,385.0 691.9,387.8 688.9,379.4" fill="#0871de"/><polygon points="641.3,353.7 644.3,359.8 638.4,353.5 635.3,347.4" fill="#079ccf"/><polygon points="635.3,347.4 638.4,353.5 632.4,346.1 629.4,340.0" fill="#06a7c6"/><polygon points="647.2,358.9 650.2,365.0 644.3,359.8 641.3,353.7" fill="#0c93d2"/><polygon points="629.4,340.0 632.4,346.1 626.5,337.5 623.5,331.4" fill="#0faeb9"/><polygon points="679.9,373.8 683.0,381.0 677.0,381.5 674.0,374.3" fill="#0d75dc"/><polygon points="653.2,362.9 656.2,369.0 650.2,365.0 647.2,358.9" fill="#1389d3"/><polygon points="623.5,331.4 626.5,337.5 620.5,327.8 617.5,321.7" fill="#38b99e"/><polygon points="659.1,365.8 662.1,371.9 656.2,369.0 653.2,362.9" fill="#1485d4"/><polygon points="617.5,321.7 620.5,327.8 614.6,317.0 611.6,310.9" fill="#65be86"/><polygon points="700.8,372.8 703.8,381.1 697.9,385.0 694.8,376.7" fill="#127dd8"/><polygon points="685.9,372.2 688.9,379.4 683.0,381.0 679.9,373.8" fill="#127dd8"/><polygon points="665.0,367.6 668.1,373.7 662.1,371.9 659.1,365.8" fill="#1485d4"/><polygon points="611.6,310.9 614.6,317.0 608.7,305.0 605.6,298.9" fill="#a5be6b"/><polygon points="671.0,368.2 674.0,374.3 668.1,373.7 665.0,367.6" fill="#1485d4"/><polygon points="638.3,348.8 641.3,353.7 635.3,347.4 632.3,342.5" fill="#07a9c2"/><polygon points="632.3,342.5 635.3,347.4 629.4,340.0 626.4,335.0" fill="#15b1b4"/><polygon points="691.8,369.4 694.8,376.7 688.9,379.4 685.9,372.2" fill="#1485d4"/><polygon points="706.7,367.8 709.7,376.1 703.8,381.1 700.8,372.8" fill="#1389d3"/><polygon points="644.2,353.9 647.2,358.9 641.3,353.7 638.3,348.8" fill="#06a4ca"/><polygon points="626.4,335.0 629.4,340.0 623.5,331.4 620.4,326.5" fill="#38b99e"/><polygon points="650.1,358.0 653.2,362.9 647.2,358.9 644.2,353.9" fill="#079ccf"/><polygon points="676.9,367.7 679.9,373.8 674.0,374.3 671.0,368.2" fill="#1389d3"/><polygon points="620.4,326.5 623.5,331.4 617.5,321.7 614.5,316.8" fill="#65be86"/><polygon points="656.1,360.9 659.1,365.8 653.2,362.9 650.1,358.0" fill="#0998d1"/><polygon points="614.5,316.8 617.5,321.7 611.6,310.9 608.6,305.9" fill="#92bf73"/><polygon points="662.0,362.6 665.0,367.6 659.1,365.8 656.1,360.9" fill="#0998d1"/><polygon points="697.8,365.5 700.8,372.8 694.8,376.7 691.8,369.4" fill="#0c93d2"/><polygon points="682.9,366.1 685.9,372.2 679.9,373.8 676.9,367.7" fill="#0c93d2"/><polygon points="608.6,305.9 611.6,310.9 605.6,298.9 602.6,294.0" fill="#c8bc5d"/><polygon points="712.7,361.6 715.7,370.0 709.7,376.1 706.7,367.8" fill="#079ccf"/><polygon points="668.0,363.3 671.0,368.2 665.0,367.6 662.0,362.6" fill="#0998d1"/><polygon points="635.2,344.9 638.3,348.8 632.3,342.5 629.3,338.6" fill="#1db3af"/><polygon points="629.3,338.6 632.3,342.5 626.4,335.0 623.4,331.2" fill="#38b99e"/><polygon points="641.2,350.1 644.2,353.9 638.3,348.8 635.2,344.9" fill="#0aacbe"/><polygon points="623.4,331.2 626.4,335.0 620.4,326.5 617.4,322.6" fill="#59bd8c"/><polygon points="688.8,363.3 691.8,369.4 685.9,372.2 682.9,366.1" fill="#079ccf"/><polygon points="647.1,354.1 650.1,358.0 644.2,353.9 641.2,350.1" fill="#07a9c2"/><polygon points="703.7,360.5 706.7,367.8 700.8,372.8 697.8,365.5" fill="#06a4ca"/><polygon points="617.4,322.6 620.4,326.5 614.5,316.8 611.5,312.9" fill="#87bf77"/><polygon points="673.9,362.8 676.9,367.7 671.0,368.2 668.0,363.3" fill="#079ccf"/><polygon points="653.1,357.0 656.1,360.9 650.1,358.0 647.1,354.1" fill="#06a7c6"/><polygon points="611.5,312.9 614.5,316.8 608.6,305.9 605.5,302.1" fill="#b7bd64"/><polygon points="718.6,354.3 721.6,362.7 715.7,370.0 712.7,361.6" fill="#0aacbe"/><polygon points="659.0,358.8 662.0,362.6 656.1,360.9 653.1,357.0" fill="#06a7c6"/><polygon points="679.8,361.1 682.9,366.1 676.9,367.7 673.9,362.8" fill="#06a4ca"/><polygon points="605.5,302.1 608.6,305.9 602.6,294.0 599.6,290.1" fill="#e1b952"/><polygon points="694.7,359.5 697.8,365.5 691.8,369.4 688.8,363.3" fill="#06a7c6"/><polygon points="664.9,359.4 668.0,363.3 662.0,362.6 659.0,358.8" fill="#06a7c6"/><polygon points="709.6,354.4 712.7,361.6 706.7,367.8 703.7,360.5" fill="#0faeb9"/><polygon points="632.2,342.2 635.2,344.9 629.3,338.6 626.3,335.9" fill="#38b99e"/><polygon points="626.3,335.9 629.3,338.6 623.4,331.2 620.3,328.5" fill="#4dbc92"/><polygon points="638.2,347.4 641.2,350.1 635.2,344.9 632.2,342.2" fill="#1db3af"/><polygon points="620.3,328.5 623.4,331.2 617.4,322.6 614.4,319.9" fill="#7cbf7b"/><polygon points="644.1,351.4 647.1,354.1 641.2,350.1 638.2,347.4" fill="#15b1b4"/><polygon points="614.4,319.9 617.4,322.6 611.5,312.9 608.5,310.2" fill="#a5be6b"/><polygon points="685.8,358.4 688.8,363.3 682.9,366.1 679.8,361.1" fill="#07a9c2"/><polygon points="670.9,358.9 673.9,362.8 668.0,363.3 664.9,359.4" fill="#07a9c2"/><polygon points="650.0,354.3 653.1,357.0 647.1,354.1 644.1,351.4" fill="#0faeb9"/><polygon points="724.5,345.9 727.6,354.2 721.6,362.7 718.6,354.3" fill="#38b99e"/><polygon points="700.7,354.4 703.7,360.5 697.8,365.5 694.7,359.5" fill="#0faeb9"/><polygon points="608.5,310.2 611.5,312.9 605.5,302.1 602.5,299.4" fill="#d1bb59"/><polygon points="656.0,356.1 659.0,358.8 653.1,357.0 650.0,354.3" fill="#0aacbe"/><polygon points="602.5,299.4 605.5,302.1 599.6,290.1 596.6,287.5" fill="#f8bb44"/><polygon points="715.6,347.1 718.6,354.3 712.7,361.6 709.6,354.4" fill="#38b99e"/><polygon points="676.8,357.3 679.8,361.1 673.9,362.8 670.9,358.9" fill="#0aacbe"/><polygon points="691.7,354.5 694.7,359.5 688.8,363.3 685.8,358.4" fill="#15b1b4"/><polygon points="629.2,340.7 632.2,342.2 626.3,335.9 623.3,334.4" fill="#4dbc92"/><polygon points="623.3,334.4 626.3,335.9 620.3,328.5 617.3,326.9" fill="#71bf80"/><polygon points="661.9,356.7 664.9,359.4 659.0,358.8 656.0,356.1" fill="#0faeb9"/><polygon points="635.1,345.8 638.2,347.4 632.2,342.2 629.2,340.7" fill="#38b99e"/><polygon points="617.3,326.9 620.3,328.5 614.4,319.9 611.4,318.4" fill="#92bf73"/><polygon points="641.1,349.9 644.1,351.4 638.2,347.4 635.1,345.8" fill="#25b5a9"/><polygon points="611.4,318.4 614.4,319.9 608.5,310.2 605.4,308.7" fill="#b7bd64"/><polygon points="706.6,348.3 709.6,354.4 703.7,360.5 700.7,354.4" fill="#38b99e"/><polygon points="647.0,352.8 650.0,354.3 644.1,351.4 641.1,349.9" fill="#1db3af"/><polygon points="667.9,356.3 670.9,358.9 664.9,359.4 661.9,356.7" fill="#15b1b4"/><polygon points="682.8,354.6 685.8,358.4 679.8,361.1 676.8,357.3" fill="#1db3af"/><polygon points="730.5,336.3 733.5,344.7 727.6,354.2 724.5,345.9" fill="#7cbf7b"/><polygon points="605.4,308.7 608.5,310.2 602.5,299.4 599.5,297.9" fill="#e1b952"/><polygon points="653.0,354.5 656.0,356.1 650.0,354.3 647.0,352.8" fill="#1db3af"/><polygon points="697.7,349.5 700.7,354.4 694.7,359.5 691.7,354.5" fill="#2eb7a4"/><polygon points="721.5,338.7 724.5,345.9 718.6,354.3 715.6,347.1" fill="#71bf80"/><polygon points="599.5,297.9 602.5,299.4 596.6,287.5 593.6,285.9" fill="#fec832"/><polygon points="626.2,340.2 629.2,340.7 623.3,334.4 620.2,333.9" fill="#59bd8c"/><polygon points="620.2,333.9 623.3,334.4 617.3,326.9 614.3,326.5" fill="#7cbf7b"/><polygon points="673.8,354.6 676.8,357.3 670.9,358.9 667.9,356.3" fill="#1db3af"/><polygon points="632.1,345.4 635.1,345.8 629.2,340.7 626.2,340.2" fill="#42bb98"/><polygon points="614.3,326.5 617.3,326.9 611.4,318.4 608.4,317.9" fill="#a5be6b"/><polygon points="658.9,355.2 661.9,356.7 656.0,356.1 653.0,354.5" fill="#1db3af"/><polygon points="638.1,349.4 641.1,349.9 635.1,345.8 632.1,345.4" fill="#38b99e"/><polygon points="688.7,350.7 691.7,354.5 685.8,358.4 682.8,354.6" fill="#38b99e"/><polygon points="712.6,341.0 715.6,347.1 709.6,354.4 706.6,348.3" fill="#65be86"/><polygon points="608.4,317.9 611.4,318.4 605.4,308.7 602.4,308.2" fill="#c8bc5d"/><polygon points="644.0,352.3 647.0,352.8 641.1,349.9 638.1,349.4" fill="#2eb7a4"/><polygon points="602.4,308.2 605.4,308.7 599.5,297.9 596.5,297.4" fill="#f1b94a"/><polygon points="664.8,354.7 667.9,356.3 661.9,356.7 658.9,355.2" fill="#25b5a9"/><polygon points="703.6,343.3 706.6,348.3 700.7,354.4 697.7,349.5" fill="#65be86"/><polygon points="679.7,351.9 682.8,354.6 676.8,357.3 673.8,354.6" fill="#38b99e"/><polygon points="649.9,354.1 653.0,354.5 647.0,352.8 644.0,352.3" fill="#25b5a9"/><polygon points="596.5,297.4 599.5,297.9 593.6,285.9 590.5,285.5" fill="#fcce2e"/><polygon points="623.2,340.9 626.2,340.2 620.2,333.9 617.2,334.6" fill="#65be86"/><polygon points="617.2,334.6 620.2,333.9 614.3,326.5 611.3,327.2" fill="#87bf77"/><polygon points="629.1,346.1 632.1,345.4 626.2,340.2 623.2,340.9" fill="#4dbc92"/><polygon points="727.5,329.1 730.5,336.3 724.5,345.9 721.5,338.7" fill="#aebe67"/><polygon points="694.6,345.7 697.7,349.5 691.7,354.5 688.7,350.7" fill="#59bd8c"/><polygon points="611.3,327.2 614.3,326.5 608.4,317.9 605.3,318.6" fill="#aebe67"/><polygon points="655.9,354.8 658.9,355.2 653.0,354.5 649.9,354.1" fill="#2eb7a4"/><polygon points="635.0,350.1 638.1,349.4 632.1,345.4 629.1,346.1" fill="#38b99e"/><polygon points="670.8,353.1 673.8,354.6 667.9,356.3 664.8,354.7" fill="#38b99e"/><polygon points="605.3,318.6 608.4,317.9 602.4,308.2 599.4,309.0" fill="#d1bb59"/><polygon points="718.5,332.6 721.5,338.7 715.6,347.1 712.6,341.0" fill="#a5be6b"/><polygon points="641.0,353.0 644.0,352.3 638.1,349.4 635.0,350.1" fill="#38b99e"/><polygon points="685.7,348.0 688.7,350.7 682.8,354.6 679.7,351.9" fill="#4dbc92"/><polygon points="599.4,309.0 602.4,308.2 596.5,297.4 593.5,298.1" fill="#f8bb44"/><polygon points="661.8,354.3 664.8,354.7 658.9,355.2 655.9,354.8" fill="#38b99e"/><polygon points="709.5,336.0 712.6,341.0 706.6,348.3 703.6,343.3" fill="#92bf73"/><polygon points="646.9,354.8 649.9,354.1 644.0,352.3 641.0,353.0" fill="#2eb7a4"/><polygon points="620.1,342.8 623.2,340.9 617.2,334.6 614.2,336.5" fill="#71bf80"/><polygon points="676.7,350.3 679.7,351.9 673.8,354.6 670.8,353.1" fill="#4dbc92"/><polygon points="614.2,336.5 617.2,334.6 611.3,327.2 608.3,329.0" fill="#92bf73"/><polygon points="593.5,298.1 596.5,297.4 590.5,285.5 587.5,286.2" fill="#fad32a"/><polygon points="626.1,347.9 629.1,346.1 623.2,340.9 620.1,342.8" fill="#4dbc92"/><polygon points="608.3,329.0 611.3,327.2 605.3,318.6 602.3,320.5" fill="#aebe67"/><polygon points="700.6,339.5 703.6,343.3 697.7,349.5 694.6,345.7" fill="#87bf77"/><polygon points="632.0,352.0 635.0,350.1 629.1,346.1 626.1,347.9" fill="#42bb98"/><polygon points="652.9,355.5 655.9,354.8 649.9,354.1 646.9,354.8" fill="#38b99e"/><polygon points="602.3,320.5 605.3,318.6 599.4,309.0 596.4,310.8" fill="#d1bb59"/><polygon points="667.8,352.6 670.8,353.1 664.8,354.7 661.8,354.3" fill="#42bb98"/><polygon points="691.6,343.0 694.6,345.7 688.7,350.7 685.7,348.0" fill="#7cbf7b"/><polygon points="638.0,354.9 641.0,353.0 635.0,350.1 632.0,352.0" fill="#38b99e"/><polygon points="596.4,310.8 599.4,309.0 593.5,298.1 590.4,300.0" fill="#f8bb44"/><polygon points="724.4,323.0 727.5,329.1 721.5,338.7 718.5,332.6" fill="#d9ba56"/><polygon points="682.7,346.4 685.7,348.0 679.7,351.9 676.7,350.3" fill="#71bf80"/><polygon points="643.9,356.6 646.9,354.8 641.0,353.0 638.0,354.9" fill="#38b99e"/><polygon points="658.8,355.0 661.8,354.3 655.9,354.8 652.9,355.5" fill="#38b99e"/><polygon points="617.1,345.7 620.1,342.8 614.2,336.5 611.2,339.4" fill="#65be86"/><polygon points="611.2,339.4 614.2,336.5 608.3,329.0 605.2,332.0" fill="#87bf77"/><polygon points="623.1,350.9 626.1,347.9 620.1,342.8 617.1,345.7" fill="#4dbc92"/><polygon points="715.5,327.6 718.5,332.6 712.6,341.0 709.5,336.0" fill="#c8bc5d"/><polygon points="605.2,332.0 608.3,329.0 602.3,320.5 599.3,323.4" fill="#aebe67"/><polygon points="590.4,300.0 593.5,298.1 587.5,286.2 584.5,288.0" fill="#fad32a"/><polygon points="629.0,354.9 632.0,352.0 626.1,347.9 623.1,350.9" fill="#38b99e"/><polygon points="673.7,349.9 676.7,350.3 670.8,353.1 667.8,352.6" fill="#59bd8c"/><polygon points="599.3,323.4 602.3,320.5 596.4,310.8 593.4,313.8" fill="#d1bb59"/><polygon points="706.5,332.2 709.5,336.0 703.6,343.3 700.6,339.5" fill="#b7bd64"/><polygon points="649.8,357.3 652.9,355.5 646.9,354.8 643.9,356.6" fill="#38b99e"/><polygon points="634.9,357.8 638.0,354.9 632.0,352.0 629.0,354.9" fill="#38b99e"/><polygon points="697.6,336.8 700.6,339.5 694.6,345.7 691.6,343.0" fill="#a5be6b"/><polygon points="664.7,353.3 667.8,352.6 661.8,354.3 658.8,355.0" fill="#4dbc92"/><polygon points="593.4,313.8 596.4,310.8 590.4,300.0 587.4,302.9" fill="#f8bb44"/><polygon points="614.1,349.8 617.1,345.7 611.2,339.4 608.2,343.5" fill="#59bd8c"/><polygon points="608.2,343.5 611.2,339.4 605.2,332.0 602.2,336.1" fill="#7cbf7b"/><polygon points="640.9,359.6 643.9,356.6 638.0,354.9 634.9,357.8" fill="#2eb7a4"/><polygon points="620.0,355.0 623.1,350.9 617.1,345.7 614.1,349.8" fill="#42bb98"/><polygon points="688.6,341.4 691.6,343.0 685.7,348.0 682.7,346.4" fill="#92bf73"/><polygon points="602.2,336.1 605.2,332.0 599.3,323.4 596.3,327.5" fill="#a5be6b"/><polygon points="655.8,356.8 658.8,355.0 652.9,355.5 649.8,357.3" fill="#42bb98"/><polygon points="626.0,359.0 629.0,354.9 623.1,350.9 620.0,355.0" fill="#38b99e"/><polygon points="587.4,302.9 590.4,300.0 584.5,288.0 581.5,291.0" fill="#fad32a"/><polygon points="679.6,346.0 682.7,346.4 676.7,350.3 673.7,349.9" fill="#7cbf7b"/><polygon points="596.3,327.5 599.3,323.4 593.4,313.8 590.3,317.9" fill="#c8bc5d"/><polygon points="631.9,361.9 634.9,357.8 629.0,354.9 626.0,359.0" fill="#2eb7a4"/><polygon points="646.8,360.3 649.8,357.3 643.9,356.6 640.9,359.6" fill="#38b99e"/><polygon points="670.7,350.6 673.7,349.9 667.8,352.6 664.7,353.3" fill="#65be86"/><polygon points="721.4,318.1 724.4,323.0 718.5,332.6 715.5,327.6" fill="#f8bb44"/><polygon points="590.3,317.9 593.4,313.8 587.4,302.9 584.4,307.0" fill="#f1b94a"/><polygon points="611.1,355.1 614.1,349.8 608.2,343.5 605.1,348.8" fill="#4dbc92"/><polygon points="605.1,348.8 608.2,343.5 602.2,336.1 599.2,341.3" fill="#71bf80"/><polygon points="617.0,360.2 620.0,355.0 614.1,349.8 611.1,355.1" fill="#38b99e"/><polygon points="712.5,323.8 715.5,327.6 709.5,336.0 706.5,332.2" fill="#e1b952"/><polygon points="661.7,355.2 664.7,353.3 658.8,355.0 655.8,356.8" fill="#4dbc92"/><polygon points="599.2,341.3 602.2,336.1 596.3,327.5 593.3,332.8" fill="#92bf73"/><polygon points="637.9,363.7 640.9,359.6 634.9,357.8 631.9,361.9" fill="#25b5a9"/><polygon points="623.0,364.3 626.0,359.0 620.0,355.0 617.0,360.2" fill="#25b5a9"/><polygon points="703.5,329.5 706.5,332.2 700.6,339.5 697.6,336.8" fill="#d1bb59"/><polygon points="593.3,332.8 596.3,327.5 590.3,317.9 587.3,323.1" fill="#b7bd64"/><polygon points="584.4,307.0 587.4,302.9 581.5,291.0 578.5,295.1" fill="#fcce2e"/><polygon points="652.8,359.8 655.8,356.8 649.8,357.3 646.8,360.3" fill="#38b99e"/><polygon points="694.5,335.2 697.6,336.8 691.6,343.0 688.6,341.4" fill="#b7bd64"/><polygon points="628.9,367.2 631.9,361.9 626.0,359.0 623.0,364.3" fill="#1db3af"/><polygon points="685.6,341.0 688.6,341.4 682.7,346.4 679.6,346.0" fill="#a5be6b"/><polygon points="608.1,361.4 611.1,355.1 605.1,348.8 602.1,355.1" fill="#2eb7a4"/><polygon points="643.8,364.4 646.8,360.3 640.9,359.6 637.9,363.7" fill="#2eb7a4"/><polygon points="602.1,355.1 605.1,348.8 599.2,341.3 596.2,347.7" fill="#4dbc92"/><polygon points="587.3,323.1 590.3,317.9 584.4,307.0 581.4,312.3" fill="#e1b952"/><polygon points="614.0,366.6 617.0,360.2 611.1,355.1 608.1,361.4" fill="#1db3af"/><polygon points="676.6,346.7 679.6,346.0 673.7,349.9 670.7,350.6" fill="#87bf77"/><polygon points="596.2,347.7 599.2,341.3 593.3,332.8 590.2,339.1" fill="#7cbf7b"/><polygon points="619.9,370.6 623.0,364.3 617.0,360.2 614.0,366.6" fill="#15b1b4"/><polygon points="667.7,352.4 670.7,350.6 664.7,353.3 661.7,355.2" fill="#71bf80"/><polygon points="634.8,368.9 637.9,363.7 631.9,361.9 628.9,367.2" fill="#1db3af"/><polygon points="590.2,339.1 593.3,332.8 587.3,323.1 584.3,329.4" fill="#a5be6b"/><polygon points="658.7,358.1 661.7,355.2 655.8,356.8 652.8,359.8" fill="#4dbc92"/><polygon points="581.4,312.3 584.4,307.0 578.5,295.1 575.4,300.3" fill="#fec832"/><polygon points="625.9,373.5 628.9,367.2 623.0,364.3 619.9,370.6" fill="#0faeb9"/><polygon points="605.0,368.9 608.1,361.4 602.1,355.1 599.1,362.6" fill="#1db3af"/><polygon points="599.1,362.6 602.1,355.1 596.2,347.7 593.2,355.2" fill="#38b99e"/><polygon points="649.7,363.9 652.8,359.8 646.8,360.3 643.8,364.4" fill="#38b99e"/><polygon points="611.0,374.1 614.0,366.6 608.1,361.4 605.0,368.9" fill="#0aacbe"/><polygon points="593.2,355.2 596.2,347.7 590.2,339.1 587.2,346.6" fill="#59bd8c"/><polygon points="584.3,329.4 587.3,323.1 581.4,312.3 578.4,318.6" fill="#d1bb59"/><polygon points="640.8,369.6 643.8,364.4 637.9,363.7 634.8,368.9" fill="#1db3af"/><polygon points="616.9,378.1 619.9,370.6 614.0,366.6 611.0,374.1" fill="#07a9c2"/><polygon points="718.4,314.2 721.4,318.1 715.5,327.6 712.5,323.8" fill="#fcce2e"/><polygon points="709.4,321.1 712.5,323.8 706.5,332.2 703.5,329.5" fill="#f8bb44"/><polygon points="587.2,346.6 590.2,339.1 584.3,329.4 581.3,336.9" fill="#87bf77"/><polygon points="631.8,375.3 634.8,368.9 628.9,367.2 625.9,373.5" fill="#0aacbe"/><polygon points="700.5,328.0 703.5,329.5 697.6,336.8 694.5,335.2" fill="#e1b952"/><polygon points="602.0,377.6 605.0,368.9 599.1,362.6 596.1,371.3" fill="#07a9c2"/><polygon points="596.1,371.3 599.1,362.6 593.2,355.2 590.1,363.8" fill="#15b1b4"/><polygon points="691.5,334.8 694.5,335.2 688.6,341.4 685.6,341.0" fill="#c8bc5d"/><polygon points="608.0,382.7 611.0,374.1 605.0,368.9 602.0,377.6" fill="#06a4ca"/><polygon points="622.9,381.0 625.9,373.5 619.9,370.6 616.9,378.1" fill="#06a7c6"/><polygon points="682.6,341.7 685.6,341.0 679.6,346.0 676.6,346.7" fill="#aebe67"/><polygon points="578.4,318.6 581.4,312.3 575.4,300.3 572.4,306.7" fill="#f8bb44"/><polygon points="590.1,363.8 593.2,355.2 587.2,346.6 584.2,355.3" fill="#38b99e"/><polygon points="673.6,348.5 676.6,346.7 670.7,350.6 667.7,352.4" fill="#92bf73"/><polygon points="664.6,355.4 667.7,352.4 661.7,355.2 658.7,358.1" fill="#65be86"/><polygon points="581.3,336.9 584.3,329.4 578.4,318.6 575.3,326.1" fill="#b7bd64"/><polygon points="613.9,386.8 616.9,378.1 611.0,374.1 608.0,382.7" fill="#079ccf"/><polygon points="655.7,362.2 658.7,358.1 652.8,359.8 649.7,363.9" fill="#42bb98"/><polygon points="599.0,387.3 602.0,377.6 596.1,371.3 593.1,381.0" fill="#079ccf"/><polygon points="646.7,369.1 649.7,363.9 643.8,364.4 640.8,369.6" fill="#25b5a9"/><polygon points="593.1,381.0 596.1,371.3 590.1,363.8 587.1,373.6" fill="#06a7c6"/><polygon points="584.2,355.3 587.2,346.6 581.3,336.9 578.3,345.6" fill="#65be86"/><polygon points="637.8,375.9 640.8,369.6 634.8,368.9 631.8,375.3" fill="#0faeb9"/><polygon points="604.9,392.5 608.0,382.7 602.0,377.6 599.0,387.3" fill="#0c93d2"/><polygon points="628.8,382.8 631.8,375.3 625.9,373.5 622.9,381.0" fill="#06a7c6"/><polygon points="587.1,373.6 590.1,363.8 584.2,355.3 581.2,365.0" fill="#0faeb9"/><polygon points="619.8,389.7 622.9,381.0 616.9,378.1 613.9,386.8" fill="#0998d1"/><polygon points="596.0,398.2 599.0,387.3 593.1,381.0 590.0,391.9" fill="#1485d4"/><polygon points="610.9,396.5 613.9,386.8 608.0,382.7 604.9,392.5" fill="#1389d3"/><polygon points="590.0,391.9 593.1,381.0 587.1,373.6 584.1,384.5" fill="#0c93d2"/><polygon points="601.9,403.4 604.9,392.5 599.0,387.3 596.0,398.2" fill="#127dd8"/><polygon points="575.3,326.1 578.4,318.6 572.4,306.7 569.4,314.1" fill="#e1b952"/><polygon points="578.3,345.6 581.3,336.9 575.3,326.1 572.3,334.7" fill="#92bf73"/><polygon points="581.2,365.0 584.2,355.3 578.3,345.6 575.2,355.3" fill="#38b99e"/><polygon points="593.0,410.2 596.0,398.2 590.0,391.9 587.0,403.9" fill="#0871de"/><polygon points="584.1,384.5 587.1,373.6 581.2,365.0 578.2,375.9" fill="#06a4ca"/><polygon points="587.0,403.9 590.0,391.9 584.1,384.5 581.1,396.5" fill="#127dd8"/><polygon points="589.9,423.4 593.0,410.2 587.0,403.9 584.0,417.1" fill="#2c4ac7"/><polygon points="584.0,417.1 587.0,403.9 581.1,396.5 578.1,409.6" fill="#0363e1"/><polygon points="598.9,415.4 601.9,403.4 596.0,398.2 593.0,410.2" fill="#0363e1"/><polygon points="607.9,407.4 610.9,396.5 604.9,392.5 601.9,403.4" fill="#0d75dc"/><polygon points="595.9,428.5 598.9,415.4 593.0,410.2 589.9,423.4" fill="#3637a0"/><polygon points="581.1,396.5 584.1,384.5 578.2,375.9 575.1,387.9" fill="#1389d3"/><polygon points="616.8,399.4 619.8,389.7 613.9,386.8 610.9,396.5" fill="#1485d4"/><polygon points="578.1,409.6 581.1,396.5 575.1,387.9 572.1,401.1" fill="#0871de"/><polygon points="625.8,391.4 628.8,382.8 622.9,381.0 619.8,389.7" fill="#0998d1"/><polygon points="578.2,375.9 581.2,365.0 575.2,355.3 572.2,366.2" fill="#0faeb9"/><polygon points="634.7,383.4 637.8,375.9 631.8,375.3 628.8,382.8" fill="#06a7c6"/><polygon points="604.8,419.4 607.9,407.4 601.9,403.4 598.9,415.4" fill="#0f5cdd"/><polygon points="643.7,375.5 646.7,369.1 640.8,369.6 637.8,375.9" fill="#15b1b4"/><polygon points="601.8,432.6 604.8,419.4 598.9,415.4 595.9,428.5" fill="#363093"/><polygon points="652.7,367.5 655.7,362.2 649.7,363.9 646.7,369.1" fill="#38b99e"/><polygon points="575.2,355.3 578.3,345.6 572.3,334.7 569.3,344.5" fill="#65be86"/><polygon points="661.6,359.5 664.6,355.4 658.7,358.1 655.7,362.2" fill="#59bd8c"/><polygon points="575.1,387.9 578.2,375.9 572.2,366.2 569.2,378.2" fill="#079ccf"/><polygon points="670.6,351.5 673.6,348.5 667.7,352.4 664.6,355.4" fill="#87bf77"/><polygon points="613.8,410.3 616.8,399.4 610.9,396.5 607.9,407.4" fill="#0871de"/><polygon points="572.3,334.7 575.3,326.1 569.4,314.1 566.4,322.8" fill="#c8bc5d"/><polygon points="572.1,401.1 575.1,387.9 569.2,378.2 566.2,391.4" fill="#1481d6"/><polygon points="679.5,343.5 682.6,341.7 676.6,346.7 673.6,348.5" fill="#aebe67"/><polygon points="688.5,335.5 691.5,334.8 685.6,341.0 682.6,341.7" fill="#d1bb59"/><polygon points="697.5,327.5 700.5,328.0 694.5,335.2 691.5,334.8" fill="#f1b94a"/><polygon points="622.8,401.2 625.8,391.4 619.8,389.7 616.8,399.4" fill="#1485d4"/><polygon points="610.8,422.3 613.8,410.3 607.9,407.4 604.8,419.4" fill="#2053d4"/><polygon points="706.4,319.5 709.4,321.1 703.5,329.5 700.5,328.0" fill="#fec832"/><polygon points="572.2,366.2 575.2,355.3 569.3,344.5 566.3,355.4" fill="#38b99e"/><polygon points="607.8,435.5 610.8,422.3 604.8,419.4 601.8,432.6" fill="#352a87"/><polygon points="715.4,311.6 718.4,314.2 712.5,323.8 709.4,321.1" fill="#f7d826"/><polygon points="631.7,392.1 634.7,383.4 628.8,382.8 625.8,391.4" fill="#0998d1"/><polygon points="569.2,378.2 572.2,366.2 566.3,355.4 563.3,367.4" fill="#0aacbe"/><polygon points="566.2,391.4 569.2,378.2 563.3,367.4 560.2,380.6" fill="#0998d1"/><polygon points="569.3,344.5 572.3,334.7 566.4,322.8 563.4,332.5" fill="#a5be6b"/><polygon points="619.7,412.1 622.8,401.2 616.8,399.4 613.8,410.3" fill="#0871de"/><polygon points="640.7,382.9 643.7,375.5 637.8,375.9 634.7,383.4" fill="#07a9c2"/><polygon points="616.7,424.1 619.7,412.1 613.8,410.3 610.8,422.3" fill="#2053d4"/><polygon points="649.6,373.8 652.7,367.5 646.7,369.1 643.7,375.5" fill="#1db3af"/><polygon points="613.7,437.2 616.7,424.1 610.8,422.3 607.8,435.5" fill="#352a87"/><polygon points="566.3,355.4 569.3,344.5 563.4,332.5 560.3,343.4" fill="#71bf80"/><polygon points="628.7,401.8 631.7,392.1 625.8,391.4 622.8,401.2" fill="#1485d4"/><polygon points="658.6,364.7 661.6,359.5 655.7,362.2 652.7,367.5" fill="#4dbc92"/><polygon points="563.3,367.4 566.3,355.4 560.3,343.4 557.3,355.4" fill="#2eb7a4"/><polygon points="560.2,380.6 563.3,367.4 557.3,355.4 554.3,368.6" fill="#07a9c2"/><polygon points="667.6,355.6 670.6,351.5 664.6,355.4 661.6,359.5" fill="#7cbf7b"/><polygon points="637.7,391.6 640.7,382.9 634.7,383.4 631.7,392.1" fill="#079ccf"/><polygon points="625.7,412.7 628.7,401.8 622.8,401.2 619.7,412.1" fill="#0871de"/><polygon points="676.5,346.5 679.5,343.5 673.6,348.5 670.6,351.5" fill="#aebe67"/><polygon points="622.7,424.7 625.7,412.7 619.7,412.1 616.7,424.1" fill="#2053d4"/><polygon points="619.6,437.9 622.7,424.7 616.7,424.1 613.7,437.2" fill="#352a87"/><polygon points="646.6,381.3 649.6,373.8 643.7,375.5 640.7,382.9" fill="#0aacbe"/><polygon points="685.5,337.4 688.5,335.5 682.6,341.7 679.5,343.5" fill="#d1bb59"/><polygon points="634.6,401.3 637.7,391.6 631.7,392.1 628.7,401.8" fill="#1389d3"/><polygon points="694.4,328.2 697.5,327.5 691.5,334.8 688.5,335.5" fill="#f8bb44"/><polygon points="655.6,371.1 658.6,364.7 652.7,367.5 649.6,373.8" fill="#38b99e"/><polygon points="703.4,319.1 706.4,319.5 700.5,328.0 697.5,327.5" fill="#fcce2e"/><polygon points="631.6,412.2 634.6,401.3 628.7,401.8 625.7,412.7" fill="#0d75dc"/><polygon points="712.4,310.0 715.4,311.6 709.4,321.1 706.4,319.5" fill="#f5eb18"/><polygon points="643.6,389.9 646.6,381.3 640.7,382.9 637.7,391.6" fill="#06a4ca"/><polygon points="664.5,360.8 667.6,355.6 661.6,359.5 658.6,364.7" fill="#71bf80"/><polygon points="628.6,424.2 631.6,412.2 625.7,412.7 622.7,424.7" fill="#0f5cdd"/><polygon points="625.6,437.4 628.6,424.2 622.7,424.7 619.6,437.9" fill="#363093"/><polygon points="673.5,350.6 676.5,346.5 670.6,351.5 667.6,355.6" fill="#a5be6b"/><polygon points="652.6,378.6 655.6,371.1 649.6,373.8 646.6,381.3" fill="#1db3af"/><polygon points="640.6,399.7 643.6,389.9 637.7,391.6 634.6,401.3" fill="#0c93d2"/><polygon points="682.5,340.3 685.5,337.4 679.5,343.5 676.5,346.5" fill="#d1bb59"/><polygon points="637.6,410.6 640.6,399.7 634.6,401.3 631.6,412.2" fill="#127dd8"/><polygon points="661.5,367.2 664.5,360.8 658.6,364.7 655.6,371.1" fill="#4dbc92"/><polygon points="634.5,422.6 637.6,410.6 631.6,412.2 628.6,424.2" fill="#0363e1"/><polygon points="691.4,330.1 694.4,328.2 688.5,335.5 685.5,337.4" fill="#f8bb44"/><polygon points="631.5,435.8 634.5,422.6 628.6,424.2 625.6,437.4" fill="#3637a0"/><polygon points="649.5,387.2 652.6,378.6 646.6,381.3 643.6,389.9" fill="#07a9c2"/><polygon points="700.4,319.8 703.4,319.1 697.5,327.5 694.4,328.2" fill="#fad32a"/><polygon points="670.5,355.8 673.5,350.6 667.6,355.6 664.5,360.8" fill="#92bf73"/><polygon points="646.5,396.9 649.5,387.2 643.6,389.9 640.6,399.7" fill="#079ccf"/><polygon points="658.5,374.7 661.5,367.2 655.6,371.1 652.6,378.6" fill="#38b99e"/><polygon points="709.3,309.6 712.4,310.0 706.4,319.5 703.4,319.1" fill="#f6f313"/><polygon points="679.4,344.4 682.5,340.3 676.5,346.5 673.5,350.6" fill="#c8bc5d"/><polygon points="643.5,407.8 646.5,396.9 640.6,399.7 637.6,410.6" fill="#1485d4"/><polygon points="640.5,419.9 643.5,407.8 637.6,410.6 634.5,422.6" fill="#0871de"/><polygon points="637.5,433.0 640.5,419.9 634.5,422.6 631.5,435.8" fill="#2c4ac7"/><polygon points="667.5,362.2 670.5,355.8 664.5,360.8 661.5,367.2" fill="#7cbf7b"/><polygon points="655.5,383.3 658.5,374.7 652.6,378.6 649.5,387.2" fill="#15b1b4"/><polygon points="688.4,333.0 691.4,330.1 685.5,337.4 682.5,340.3" fill="#f8bb44"/><polygon points="652.5,393.1 655.5,383.3 649.5,387.2 646.5,396.9" fill="#06a7c6"/><polygon points="697.4,321.6 700.4,319.8 694.4,328.2 691.4,330.1" fill="#fad32a"/><polygon points="676.4,349.6 679.4,344.4 673.5,350.6 670.5,355.8" fill="#b7bd64"/><polygon points="664.4,369.7 667.5,362.2 661.5,367.2 658.5,374.7" fill="#59bd8c"/><polygon points="649.4,403.9 652.5,393.1 646.5,396.9 643.5,407.8" fill="#0c93d2"/><polygon points="706.3,310.3 709.3,309.6 703.4,319.1 700.4,319.8" fill="#f9fb0e"/><polygon points="646.4,416.0 649.4,403.9 643.5,407.8 640.5,419.9" fill="#127dd8"/><polygon points="643.4,429.1 646.4,416.0 640.5,419.9 637.5,433.0" fill="#0363e1"/><polygon points="685.4,337.1 688.4,333.0 682.5,340.3 679.4,344.4" fill="#f1b94a"/><polygon points="661.4,378.3 664.4,369.7 658.5,374.7 655.5,383.3" fill="#38b99e"/><polygon points="673.4,356.0 676.4,349.6 670.5,355.8 667.5,362.2" fill="#a5be6b"/><polygon points="694.3,324.6 697.4,321.6 691.4,330.1 688.4,333.0" fill="#fad32a"/><polygon points="658.4,388.0 661.4,378.3 655.5,383.3 652.5,393.1" fill="#0faeb9"/><polygon points="655.4,398.9 658.4,388.0 652.5,393.1 649.4,403.9" fill="#06a4ca"/><polygon points="682.4,342.4 685.4,337.1 679.4,344.4 676.4,349.6" fill="#e1b952"/><polygon points="670.4,363.5 673.4,356.0 667.5,362.2 664.4,369.7" fill="#87bf77"/><polygon points="652.4,411.0 655.4,398.9 649.4,403.9 646.4,416.0" fill="#1389d3"/><polygon points="649.3,424.1 652.4,411.0 646.4,416.0 643.4,429.1" fill="#0871de"/><polygon points="703.3,312.1 706.3,310.3 700.4,319.8 697.4,321.6" fill="#f9fb0e"/><polygon points="667.4,372.1 670.4,363.5 664.4,369.7 661.4,378.3" fill="#65be86"/><polygon points="691.3,328.7 694.3,324.6 688.4,333.0 685.4,337.1" fill="#fcce2e"/><polygon points="679.3,348.7 682.4,342.4 676.4,349.6 673.4,356.0" fill="#d1bb59"/><polygon points="664.3,381.9 667.4,372.1 661.4,378.3 658.4,388.0" fill="#38b99e"/><polygon points="661.3,392.8 664.3,381.9 658.4,388.0 655.4,398.9" fill="#0faeb9"/><polygon points="700.3,315.1 703.3,312.1 697.4,321.6 694.3,324.6" fill="#f9fb0e"/><polygon points="658.3,404.8 661.3,392.8 655.4,398.9 652.4,411.0" fill="#079ccf"/><polygon points="676.3,356.2 679.3,348.7 673.4,356.0 670.4,363.5" fill="#b7bd64"/><polygon points="655.3,418.0 658.3,404.8 652.4,411.0 649.3,424.1" fill="#1481d6"/><polygon points="688.3,333.9 691.3,328.7 685.4,337.1 682.4,342.4" fill="#fec832"/><polygon points="673.3,364.8 676.3,356.2 670.4,363.5 667.4,372.1" fill="#92bf73"/><polygon points="697.3,319.2 700.3,315.1 694.3,324.6 691.3,328.7" fill="#f6f313"/><polygon points="685.3,340.3 688.3,333.9 682.4,342.4 679.3,348.7" fill="#f8bb44"/><polygon points="670.3,374.6 673.3,364.8 667.4,372.1 664.3,381.9" fill="#65be86"/><polygon points="667.3,385.5 670.3,374.6 664.3,381.9 661.3,392.8" fill="#38b99e"/><polygon points="664.2,397.5 667.3,385.5 661.3,392.8 658.3,404.8" fill="#0aacbe"/><polygon points="661.2,410.7 664.2,397.5 658.3,404.8 655.3,418.0" fill="#0998d1"/><polygon points="682.3,347.8 685.3,340.3 679.3,348.7 676.3,356.2" fill="#e1b952"/><polygon points="694.2,324.4 697.3,319.2 691.3,328.7 688.3,333.9" fill="#f5eb18"/><polygon points="679.2,356.4 682.3,347.8 676.3,356.2 673.3,364.8" fill="#c8bc5d"/><polygon points="676.2,366.2 679.2,356.4 673.3,364.8 670.3,374.6" fill="#a5be6b"/><polygon points="691.2,330.8 694.2,324.4 688.3,333.9 685.3,340.3" fill="#f7d826"/><polygon points="673.2,377.1 676.2,366.2 670.3,374.6 667.3,385.5" fill="#71bf80"/><polygon points="670.2,389.1 673.2,377.1 667.3,385.5 664.2,397.5" fill="#38b99e"/><polygon points="667.2,402.2 670.2,389.1 664.2,397.5 661.2,410.7" fill="#07a9c2"/><polygon points="688.2,338.2 691.2,330.8 685.3,340.3 682.3,347.8" fill="#fcce2e"/><polygon points="685.2,346.9 688.2,338.2 682.3,347.8 679.2,356.4" fill="#f8bb44"/><polygon points="682.2,356.6 685.2,346.9 679.2,356.4 676.2,366.2" fill="#d9ba56"/><polygon points="679.1,367.5 682.2,356.6 676.2,366.2 673.2,377.1" fill="#aebe67"/><polygon points="676.1,379.5 679.1,367.5 673.2,377.1 670.2,389.1" fill="#7cbf7b"/><polygon points="673.1,392.7 676.1,379.5 670.2,389.1 667.2,402.2" fill="#38b99e"/></g><text transform="translate(41.85,340.15) scale(1.08,1)" font-family="Liberation Sans" font-size="15.54" fill="#262626" stroke="#262626" stroke-width="0.1">5</text><text transform="translate(41.83,404.85) scale(1.08,1)" font-family="Liberation Sans" font-size="15.54" fill="#262626" stroke="#262626" stroke-width="0.1">0</text><text transform="translate(41.08,422.95) scale(1.08,1)" font-family="Liberation Sans" font-size="15.54" fill="#262626" stroke="#262626" stroke-width="0.1">2</text><text transform="translate(79.78,447.90) scale(1.08,1)" font-family="Liberation Sans" font-size="15.54" fill="#262626" stroke="#262626" stroke-width="0.1">0</text><text transform="translate(113.39,470.70) scale(1.08,1)" font-family="Liberation Sans" font-size="15.54" fill="#262626" stroke="#262626" stroke-width="0.1">-2</text><text transform="translate(145.69,472.00) scale(1.08,1)" font-family="Liberation Sans" font-size="15.54" fill="#262626" stroke="#262626" stroke-width="0.1">-2</text><text transform="translate(195.53,453.80) scale(1.08,1)" font-family="Liberation Sans" font-size="15.54" fill="#262626" stroke="#262626" stroke-width="0.1">0</text><text transform="translate(246.73,435.50) scale(1.08,1)" font-family="Liberation Sans" font-size="15.54" fill="#262626" stroke="#262626" stroke-width="0.1">2</text><text transform="translate(288.93,301.75) scale(1.08,1)" font-family="Liberation Sans" font-size="15.54" fill="#262626" stroke="#262626" stroke-width="0.1">0</text><text transform="translate(283.57,367.50) scale(1.08,1)" font-family="Liberation Sans" font-size="15.54" fill="#262626" stroke="#262626" stroke-width="0.1">-5</text><text transform="translate(288.53,422.60) scale(1.08,1)" font-family="Liberation Sans" font-size="15.54" fill="#262626" stroke="#262626" stroke-width="0.1">2</text><text transform="translate(327.18,447.40) scale(1.08,1)" font-family="Liberation Sans" font-size="15.54" fill="#262626" stroke="#262626" stroke-width="0.1">0</text><text transform="translate(361.44,470.25) scale(1.08,1)" font-family="Liberation Sans" font-size="15.54" fill="#262626" stroke="#262626" stroke-width="0.1">-2</text><text transform="translate(392.94,472.35) scale(1.08,1)" font-family="Liberation Sans" font-size="15.54" fill="#262626" stroke="#262626" stroke-width="0.1">-2</text><text transform="translate(443.28,453.10) scale(1.08,1)" font-family="Liberation Sans" font-size="15.54" fill="#262626" stroke="#262626" stroke-width="0.1">0</text><text transform="translate(494.13,434.80) scale(1.08,1)" font-family="Liberation Sans" font-size="15.54" fill="#262626" stroke="#262626" stroke-width="0.1">2</text><text transform="translate(534.14,316.75) scale(1.08,1)" font-family="Liberation Sans" font-size="15.54" fill="#262626" stroke="#262626" stroke-width="0.1">4</text><text transform="translate(534.08,345.60) scale(1.08,1)" font-family="Liberation Sans" font-size="15.54" fill="#262626" stroke="#262626" stroke-width="0.1">2</text><text transform="translate(534.08,373.65) scale(1.08,1)" font-family="Liberation Sans" font-size="15.54" fill="#262626" stroke="#262626" stroke-width="0.1">0</text><text transform="translate(528.99,402.80) scale(1.08,1)" font-family="Liberation Sans" font-size="15.54" fill="#262626" stroke="#262626" stroke-width="0.1">-2</text><text transform="translate(529.01,431.40) scale(1.08,1)" font-family="Liberation Sans" font-size="15.54" fill="#262626" stroke="#262626" stroke-width="0.1">-4</text><text transform="translate(536.28,448.80) scale(1.08,1)" font-family="Liberation Sans" font-size="15.54" fill="#262626" stroke="#262626" stroke-width="0.1">2</text><text transform="translate(597.33,460.75) scale(1.08,1)" font-family="Liberation Sans" font-size="15.54" fill="#262626" stroke="#262626" stroke-width="0.1">0</text><text transform="translate(650.64,473.65) scale(1.08,1)" font-family="Liberation Sans" font-size="15.54" fill="#262626" stroke="#262626" stroke-width="0.1">-2</text><text transform="translate(682.59,469.00) scale(1.08,1)" font-family="Liberation Sans" font-size="15.54" fill="#262626" stroke="#262626" stroke-width="0.1">-2</text><text transform="translate(712.78,445.55) scale(1.08,1)" font-family="Liberation Sans" font-size="15.54" fill="#262626" stroke="#262626" stroke-width="0.1">0</text><text transform="translate(743.48,421.20) scale(1.08,1)" font-family="Liberation Sans" font-size="15.54" fill="#262626" stroke="#262626" stroke-width="0.1">2</text><text transform="translate(111.59,256.60) scale(1.0681,1)" font-family="Liberation Sans" font-style="normal" font-weight="bold" font-size="16.28" fill="#000">local min</text><text transform="translate(356.90,256.60) scale(1.0580,1)" font-family="Liberation Sans" font-style="normal" font-weight="bold" font-size="16.28" fill="#000">local max</text><text transform="translate(592.99,257.30) scale(1.0354,1)" font-family="Liberation Sans" font-style="normal" font-weight="bold" font-size="16.70" fill="#000">saddle point</text><text transform="translate(5.79,26.50) scale(1.1834,1)" font-family="Liberation Serif" font-style="italic" font-weight="normal" font-size="20.62" fill="#000">L</text><text transform="translate(22.06,25.49) scale(1.4741,1)" font-family="Liberation Serif" font-style="normal" font-weight="normal" font-size="20.73" fill="#000">(</text><text transform="translate(33.05,26.91) scale(1.4092,1)" font-family="Liberation Serif" font-style="italic" font-weight="bold" font-size="19.89" fill="#000">θ</text><text transform="translate(49.20,25.49) scale(1.3521,1)" font-family="Liberation Serif" font-style="normal" font-weight="normal" font-size="20.73" fill="#000">)</text><text transform="translate(67.77,26.10) scale(1.4541,1)" font-family="Liberation Sans" font-style="normal" font-weight="normal" font-size="18.37" fill="#000">around</text><text transform="translate(157.29,26.60) scale(1.6038,1)" font-family="Liberation Serif" font-style="italic" font-weight="bold" font-size="20.03" fill="#000">θ</text><text transform="translate(183.06,29.48) scale(1.4216,1)" font-family="Liberation Serif" font-style="normal" font-weight="normal" font-size="26.00" fill="#000">=</text><text transform="translate(212.54,26.61) scale(1.7278,1)" font-family="Liberation Serif" font-style="italic" font-weight="bold" font-size="19.46" fill="#0000ff">θ</text><path d="M232.70,12.00 L236.55,12.00 L231.92,18.20 L230.10,18.00Z" fill="#0000ff" stroke="#0000ff" stroke-width="0.15" stroke-linejoin="round"/><text transform="translate(246.79,26.10) scale(1.4280,1)" font-family="Liberation Sans" font-style="normal" font-weight="normal" font-size="18.37" fill="#000">can be approximated below</text><text transform="translate(16.46,95.10) scale(0.9082,1)" font-family="Liberation Serif" font-style="italic" font-weight="normal" font-size="34.06" fill="#000">L</text><text transform="translate(35.15,93.47) scale(1.0000,1)" font-family="Liberation Serif" font-style="normal" font-weight="normal" font-size="33.97" fill="#000" stroke="#000" stroke-width="0.2">(</text><text transform="translate(47.80,95.18) scale(1.0561,1)" font-family="Liberation Serif" font-style="italic" font-weight="bold" font-size="32.86" fill="#000">θ</text><text transform="translate(68.64,93.47) scale(1.0000,1)" font-family="Liberation Serif" font-style="normal" font-weight="normal" font-size="33.97" fill="#000" stroke="#000" stroke-width="0.2">)</text><text transform="translate(92.86,96.03) scale(1.3039,1)" font-family="Liberation Serif" font-style="normal" font-weight="normal" font-size="31.51" fill="#000">≈</text><text transform="translate(127.16,95.10) scale(0.9082,1)" font-family="Liberation Serif" font-style="italic" font-weight="normal" font-size="34.06" fill="#000">L</text><text transform="translate(145.05,93.47) scale(1.0000,1)" font-family="Liberation Serif" font-style="normal" font-weight="normal" font-size="33.97" fill="#000" stroke="#000" stroke-width="0.2">(</text><text transform="translate(158.97,95.18) scale(1.1512,1)" font-family="Liberation Serif" font-style="italic" font-weight="bold" font-size="33.15" fill="#0000ff">θ</text><path d="M182.92,70.20 L186.35,70.20 L182.22,81.00 L180.60,80.80Z" fill="#0000ff" stroke="#0000ff" stroke-width="0.15" stroke-linejoin="round"/><text transform="translate(189.79,93.47) scale(1.0000,1)" font-family="Liberation Serif" font-style="normal" font-weight="normal" font-size="33.97" fill="#000" stroke="#000" stroke-width="0.2">)</text><text transform="translate(210.24,100.71) scale(1.0000,1)" font-family="Liberation Serif" font-style="normal" font-weight="normal" font-size="45.51" fill="#000">+</text><text transform="translate(245.25,93.57) scale(1.0000,1)" font-family="Liberation Serif" font-style="normal" font-weight="normal" font-size="33.97" fill="#000" stroke="#000" stroke-width="0.2">(</text><text transform="translate(256.51,94.79) scale(1.3645,1)" font-family="Liberation Serif" font-style="italic" font-weight="normal" font-size="31.31" fill="#000">θ</text><rect x="288" y="84.6" width="19.3" height="2.3" fill="#000"/><text transform="translate(319.68,94.77) scale(0.9779,1)" font-family="Liberation Serif" font-style="italic" font-weight="bold" font-size="33.29" fill="#0000ff">θ</text><path d="M342.86,71.00 L346.65,71.00 L342.09,83.00 L340.30,82.80Z" fill="#0000ff" stroke="#0000ff" stroke-width="0.15" stroke-linejoin="round"/><text transform="translate(350.16,91.89) scale(1.0000,1)" font-family="Liberation Serif" font-style="normal" font-weight="normal" font-size="31.98" fill="#000" stroke="#000" stroke-width="0.2">)</text><text transform="translate(362.11,82.80) scale(1.1427,1)" font-family="Liberation Serif" font-style="italic" font-weight="normal" font-size="22.60" fill="#000">T</text><text transform="translate(381.55,94.28) scale(1.1922,1)" font-family="Liberation Serif" font-style="italic" font-weight="bold" font-size="33.91" fill="#00b050">g</text><text transform="translate(410.59,100.71) scale(1.0000,1)" font-family="Liberation Serif" font-style="normal" font-weight="normal" font-size="45.51" fill="#000">+</text><text transform="translate(441.70,76.00) scale(1.4782,1)" font-family="Liberation Serif" font-style="normal" font-weight="normal" font-size="20.75" fill="#000">1</text><rect x="443" y="83.9" width="14.4" height="2.4" fill="#000"/><text transform="translate(443.22,111.40) scale(1.2302,1)" font-family="Liberation Serif" font-style="normal" font-weight="normal" font-size="21.90" fill="#000">2</text><text transform="translate(466.89,93.88) scale(1.0000,1)" font-family="Liberation Serif" font-style="normal" font-weight="normal" font-size="34.85" fill="#000" stroke="#000" stroke-width="0.2">(</text><text transform="translate(478.51,94.90) scale(1.2783,1)" font-family="Liberation Serif" font-style="italic" font-weight="bold" font-size="31.03" fill="#000">θ</text><rect x="509.8" y="84.6" width="20.2" height="2.4" fill="#000"/><text transform="translate(540.87,95.18) scale(1.1645,1)" font-family="Liberation Serif" font-style="italic" font-weight="bold" font-size="32.58" fill="#0000ff">θ</text><path d="M564.86,70.80 L569.55,70.80 L563.91,81.00 L561.70,80.80Z" fill="#0000ff" stroke="#0000ff" stroke-width="0.15" stroke-linejoin="round"/><text transform="translate(571.00,93.88) scale(1.0000,1)" font-family="Liberation Serif" font-style="normal" font-weight="normal" font-size="34.85" fill="#000" stroke="#000" stroke-width="0.2">)</text><text transform="translate(584.67,82.00) scale(1.2361,1)" font-family="Liberation Serif" font-style="italic" font-weight="normal" font-size="20.16" fill="#000">T</text><text transform="translate(603.51,95.30) scale(0.8380,1)" font-family="Liberation Serif" font-style="italic" font-weight="normal" font-size="34.06" fill="#ff0000">H</text><text transform="translate(629.81,93.09) scale(1.0000,1)" font-family="Liberation Serif" font-style="normal" font-weight="normal" font-size="33.86" fill="#000" stroke="#000" stroke-width="0.2">(</text><text transform="translate(641.41,94.59) scale(1.2444,1)" font-family="Liberation Serif" font-style="italic" font-weight="bold" font-size="31.88" fill="#000">θ</text><rect x="672.2" y="84.0" width="20.1" height="2.4" fill="#000"/><text transform="translate(703.06,95.18) scale(1.1777,1)" font-family="Liberation Serif" font-style="italic" font-weight="bold" font-size="32.58" fill="#0000ff">θ</text><path d="M727.28,70.20 L730.95,70.20 L726.54,81.00 L724.80,80.80Z" fill="#0000ff" stroke="#0000ff" stroke-width="0.15" stroke-linejoin="round"/><text transform="translate(734.14,93.47) scale(1.0000,1)" font-family="Liberation Serif" font-style="normal" font-weight="normal" font-size="33.97" fill="#000" stroke="#000" stroke-width="0.2">)</text><text transform="translate(76.20,162.30) scale(1.0896,1)" font-family="Liberation Sans" font-style="normal" font-weight="normal" font-size="24.88" fill="#000">At critical point</text><text transform="translate(173.79,220.80) scale(1.0885,1)" font-family="Liberation Sans" font-style="normal" font-weight="normal" font-size="24.94" fill="#000">telling the properties of critical points</text><rect x="241.8" y="47.9" width="166.8" height="76.1" rx="12" ry="12" fill="none" stroke="#00b050" stroke-width="3.6"/><rect x="437.0" y="46.0" width="323.5" height="75.9" rx="13" ry="13" fill="none" stroke="#ff0000" stroke-width="3.6"/><line x1="241.0" y1="55.8" x2="396.4" y2="121.4" stroke="#000" stroke-width="5.0"/><line x1="257.3" y1="153.0" x2="295.5" y2="131.0" stroke="#000" stroke-width="4.3"/><polygon points="306.8,124.3 289.5,125.5 297.5,138.5" fill="#000"/><line x1="597.5" y1="123.2" x2="449.0" y2="193.5" stroke="#000" stroke-width="4.3"/><polygon points="436.2,199.2 447.0,185.9 453.9,199.6" fill="#000"/></svg></body></html>
